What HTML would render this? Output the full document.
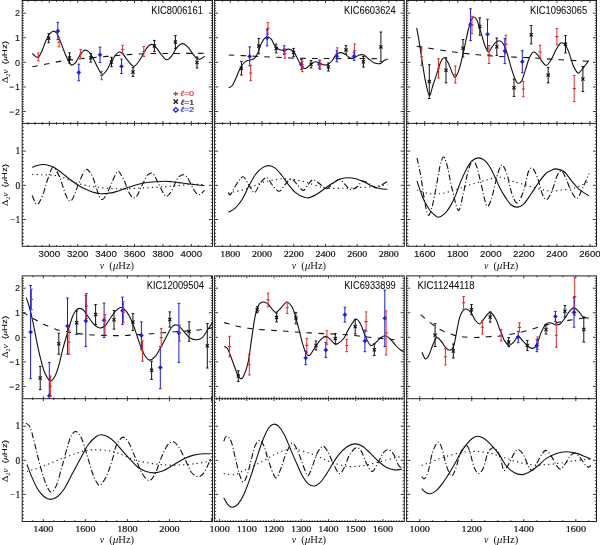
<!DOCTYPE html>
<html><head><meta charset="utf-8"><title>figure</title>
<style>html,body{margin:0;padding:0;background:#fff;width:600px;height:545px;overflow:hidden}svg{display:block;will-change:transform;filter:blur(0.3px)}</style>
</head><body>
<svg width="600" height="545" viewBox="0 0 600 545">
<defs><clipPath id="c00t"><rect x="22.2" y="0.5" width="190.3" height="122.9"/></clipPath><clipPath id="c00b"><rect x="22.2" y="123.4" width="190.3" height="122.9"/></clipPath><clipPath id="c01t"><rect x="214.4" y="0.5" width="189.9" height="122.9"/></clipPath><clipPath id="c01b"><rect x="214.4" y="123.4" width="189.9" height="122.9"/></clipPath><clipPath id="c02t"><rect x="406.6" y="0.5" width="189.9" height="122.9"/></clipPath><clipPath id="c02b"><rect x="406.6" y="123.4" width="189.9" height="122.9"/></clipPath><clipPath id="c10t"><rect x="22.2" y="275.9" width="190.3" height="122.8"/></clipPath><clipPath id="c10b"><rect x="22.2" y="398.7" width="190.3" height="122.8"/></clipPath><clipPath id="c11t"><rect x="214.4" y="275.9" width="189.9" height="122.8"/></clipPath><clipPath id="c11b"><rect x="214.4" y="398.7" width="189.9" height="122.8"/></clipPath><clipPath id="c12t"><rect x="406.6" y="275.9" width="189.9" height="122.8"/></clipPath><clipPath id="c12b"><rect x="406.6" y="398.7" width="189.9" height="122.8"/></clipPath></defs>
<rect width="600" height="545" fill="#fff"/>
<rect x="22.2" y="0.5" width="190.3" height="245.8" fill="none" stroke="#222" stroke-width="1"/>
<line x1="22.2" y1="123.4" x2="212.5" y2="123.4" stroke="#222" stroke-width="1"/>
<line x1="28.03" y1="0.5" x2="28.03" y2="1.8" stroke="#222" stroke-width="0.9"/>
<line x1="28.03" y1="123.4" x2="28.03" y2="122.1" stroke="#222" stroke-width="0.9"/>
<line x1="35.13" y1="0.5" x2="35.13" y2="1.8" stroke="#222" stroke-width="0.9"/>
<line x1="35.13" y1="123.4" x2="35.13" y2="122.1" stroke="#222" stroke-width="0.9"/>
<line x1="42.23" y1="0.5" x2="42.23" y2="1.8" stroke="#222" stroke-width="0.9"/>
<line x1="42.23" y1="123.4" x2="42.23" y2="122.1" stroke="#222" stroke-width="0.9"/>
<line x1="49.33" y1="0.5" x2="49.33" y2="2.9" stroke="#222" stroke-width="0.9"/>
<line x1="49.33" y1="123.4" x2="49.33" y2="121" stroke="#222" stroke-width="0.9"/>
<line x1="56.43" y1="0.5" x2="56.43" y2="1.8" stroke="#222" stroke-width="0.9"/>
<line x1="56.43" y1="123.4" x2="56.43" y2="122.1" stroke="#222" stroke-width="0.9"/>
<line x1="63.53" y1="0.5" x2="63.53" y2="1.8" stroke="#222" stroke-width="0.9"/>
<line x1="63.53" y1="123.4" x2="63.53" y2="122.1" stroke="#222" stroke-width="0.9"/>
<line x1="70.63" y1="0.5" x2="70.63" y2="1.8" stroke="#222" stroke-width="0.9"/>
<line x1="70.63" y1="123.4" x2="70.63" y2="122.1" stroke="#222" stroke-width="0.9"/>
<line x1="77.73" y1="0.5" x2="77.73" y2="2.9" stroke="#222" stroke-width="0.9"/>
<line x1="77.73" y1="123.4" x2="77.73" y2="121" stroke="#222" stroke-width="0.9"/>
<line x1="84.83" y1="0.5" x2="84.83" y2="1.8" stroke="#222" stroke-width="0.9"/>
<line x1="84.83" y1="123.4" x2="84.83" y2="122.1" stroke="#222" stroke-width="0.9"/>
<line x1="91.93" y1="0.5" x2="91.93" y2="1.8" stroke="#222" stroke-width="0.9"/>
<line x1="91.93" y1="123.4" x2="91.93" y2="122.1" stroke="#222" stroke-width="0.9"/>
<line x1="99.03" y1="0.5" x2="99.03" y2="1.8" stroke="#222" stroke-width="0.9"/>
<line x1="99.03" y1="123.4" x2="99.03" y2="122.1" stroke="#222" stroke-width="0.9"/>
<line x1="106.13" y1="0.5" x2="106.13" y2="2.9" stroke="#222" stroke-width="0.9"/>
<line x1="106.13" y1="123.4" x2="106.13" y2="121" stroke="#222" stroke-width="0.9"/>
<line x1="113.23" y1="0.5" x2="113.23" y2="1.8" stroke="#222" stroke-width="0.9"/>
<line x1="113.23" y1="123.4" x2="113.23" y2="122.1" stroke="#222" stroke-width="0.9"/>
<line x1="120.33" y1="0.5" x2="120.33" y2="1.8" stroke="#222" stroke-width="0.9"/>
<line x1="120.33" y1="123.4" x2="120.33" y2="122.1" stroke="#222" stroke-width="0.9"/>
<line x1="127.43" y1="0.5" x2="127.43" y2="1.8" stroke="#222" stroke-width="0.9"/>
<line x1="127.43" y1="123.4" x2="127.43" y2="122.1" stroke="#222" stroke-width="0.9"/>
<line x1="134.53" y1="0.5" x2="134.53" y2="2.9" stroke="#222" stroke-width="0.9"/>
<line x1="134.53" y1="123.4" x2="134.53" y2="121" stroke="#222" stroke-width="0.9"/>
<line x1="141.63" y1="0.5" x2="141.63" y2="1.8" stroke="#222" stroke-width="0.9"/>
<line x1="141.63" y1="123.4" x2="141.63" y2="122.1" stroke="#222" stroke-width="0.9"/>
<line x1="148.73" y1="0.5" x2="148.73" y2="1.8" stroke="#222" stroke-width="0.9"/>
<line x1="148.73" y1="123.4" x2="148.73" y2="122.1" stroke="#222" stroke-width="0.9"/>
<line x1="155.83" y1="0.5" x2="155.83" y2="1.8" stroke="#222" stroke-width="0.9"/>
<line x1="155.83" y1="123.4" x2="155.83" y2="122.1" stroke="#222" stroke-width="0.9"/>
<line x1="162.93" y1="0.5" x2="162.93" y2="2.9" stroke="#222" stroke-width="0.9"/>
<line x1="162.93" y1="123.4" x2="162.93" y2="121" stroke="#222" stroke-width="0.9"/>
<line x1="170.03" y1="0.5" x2="170.03" y2="1.8" stroke="#222" stroke-width="0.9"/>
<line x1="170.03" y1="123.4" x2="170.03" y2="122.1" stroke="#222" stroke-width="0.9"/>
<line x1="177.13" y1="0.5" x2="177.13" y2="1.8" stroke="#222" stroke-width="0.9"/>
<line x1="177.13" y1="123.4" x2="177.13" y2="122.1" stroke="#222" stroke-width="0.9"/>
<line x1="184.23" y1="0.5" x2="184.23" y2="1.8" stroke="#222" stroke-width="0.9"/>
<line x1="184.23" y1="123.4" x2="184.23" y2="122.1" stroke="#222" stroke-width="0.9"/>
<line x1="191.33" y1="0.5" x2="191.33" y2="2.9" stroke="#222" stroke-width="0.9"/>
<line x1="191.33" y1="123.4" x2="191.33" y2="121" stroke="#222" stroke-width="0.9"/>
<line x1="198.43" y1="0.5" x2="198.43" y2="1.8" stroke="#222" stroke-width="0.9"/>
<line x1="198.43" y1="123.4" x2="198.43" y2="122.1" stroke="#222" stroke-width="0.9"/>
<line x1="205.53" y1="0.5" x2="205.53" y2="1.8" stroke="#222" stroke-width="0.9"/>
<line x1="205.53" y1="123.4" x2="205.53" y2="122.1" stroke="#222" stroke-width="0.9"/>
<line x1="28.03" y1="123.4" x2="28.03" y2="124.7" stroke="#222" stroke-width="0.9"/>
<line x1="28.03" y1="246.3" x2="28.03" y2="245" stroke="#222" stroke-width="0.9"/>
<line x1="35.13" y1="123.4" x2="35.13" y2="124.7" stroke="#222" stroke-width="0.9"/>
<line x1="35.13" y1="246.3" x2="35.13" y2="245" stroke="#222" stroke-width="0.9"/>
<line x1="42.23" y1="123.4" x2="42.23" y2="124.7" stroke="#222" stroke-width="0.9"/>
<line x1="42.23" y1="246.3" x2="42.23" y2="245" stroke="#222" stroke-width="0.9"/>
<line x1="49.33" y1="123.4" x2="49.33" y2="125.8" stroke="#222" stroke-width="0.9"/>
<line x1="49.33" y1="246.3" x2="49.33" y2="243.9" stroke="#222" stroke-width="0.9"/>
<line x1="56.43" y1="123.4" x2="56.43" y2="124.7" stroke="#222" stroke-width="0.9"/>
<line x1="56.43" y1="246.3" x2="56.43" y2="245" stroke="#222" stroke-width="0.9"/>
<line x1="63.53" y1="123.4" x2="63.53" y2="124.7" stroke="#222" stroke-width="0.9"/>
<line x1="63.53" y1="246.3" x2="63.53" y2="245" stroke="#222" stroke-width="0.9"/>
<line x1="70.63" y1="123.4" x2="70.63" y2="124.7" stroke="#222" stroke-width="0.9"/>
<line x1="70.63" y1="246.3" x2="70.63" y2="245" stroke="#222" stroke-width="0.9"/>
<line x1="77.73" y1="123.4" x2="77.73" y2="125.8" stroke="#222" stroke-width="0.9"/>
<line x1="77.73" y1="246.3" x2="77.73" y2="243.9" stroke="#222" stroke-width="0.9"/>
<line x1="84.83" y1="123.4" x2="84.83" y2="124.7" stroke="#222" stroke-width="0.9"/>
<line x1="84.83" y1="246.3" x2="84.83" y2="245" stroke="#222" stroke-width="0.9"/>
<line x1="91.93" y1="123.4" x2="91.93" y2="124.7" stroke="#222" stroke-width="0.9"/>
<line x1="91.93" y1="246.3" x2="91.93" y2="245" stroke="#222" stroke-width="0.9"/>
<line x1="99.03" y1="123.4" x2="99.03" y2="124.7" stroke="#222" stroke-width="0.9"/>
<line x1="99.03" y1="246.3" x2="99.03" y2="245" stroke="#222" stroke-width="0.9"/>
<line x1="106.13" y1="123.4" x2="106.13" y2="125.8" stroke="#222" stroke-width="0.9"/>
<line x1="106.13" y1="246.3" x2="106.13" y2="243.9" stroke="#222" stroke-width="0.9"/>
<line x1="113.23" y1="123.4" x2="113.23" y2="124.7" stroke="#222" stroke-width="0.9"/>
<line x1="113.23" y1="246.3" x2="113.23" y2="245" stroke="#222" stroke-width="0.9"/>
<line x1="120.33" y1="123.4" x2="120.33" y2="124.7" stroke="#222" stroke-width="0.9"/>
<line x1="120.33" y1="246.3" x2="120.33" y2="245" stroke="#222" stroke-width="0.9"/>
<line x1="127.43" y1="123.4" x2="127.43" y2="124.7" stroke="#222" stroke-width="0.9"/>
<line x1="127.43" y1="246.3" x2="127.43" y2="245" stroke="#222" stroke-width="0.9"/>
<line x1="134.53" y1="123.4" x2="134.53" y2="125.8" stroke="#222" stroke-width="0.9"/>
<line x1="134.53" y1="246.3" x2="134.53" y2="243.9" stroke="#222" stroke-width="0.9"/>
<line x1="141.63" y1="123.4" x2="141.63" y2="124.7" stroke="#222" stroke-width="0.9"/>
<line x1="141.63" y1="246.3" x2="141.63" y2="245" stroke="#222" stroke-width="0.9"/>
<line x1="148.73" y1="123.4" x2="148.73" y2="124.7" stroke="#222" stroke-width="0.9"/>
<line x1="148.73" y1="246.3" x2="148.73" y2="245" stroke="#222" stroke-width="0.9"/>
<line x1="155.83" y1="123.4" x2="155.83" y2="124.7" stroke="#222" stroke-width="0.9"/>
<line x1="155.83" y1="246.3" x2="155.83" y2="245" stroke="#222" stroke-width="0.9"/>
<line x1="162.93" y1="123.4" x2="162.93" y2="125.8" stroke="#222" stroke-width="0.9"/>
<line x1="162.93" y1="246.3" x2="162.93" y2="243.9" stroke="#222" stroke-width="0.9"/>
<line x1="170.03" y1="123.4" x2="170.03" y2="124.7" stroke="#222" stroke-width="0.9"/>
<line x1="170.03" y1="246.3" x2="170.03" y2="245" stroke="#222" stroke-width="0.9"/>
<line x1="177.13" y1="123.4" x2="177.13" y2="124.7" stroke="#222" stroke-width="0.9"/>
<line x1="177.13" y1="246.3" x2="177.13" y2="245" stroke="#222" stroke-width="0.9"/>
<line x1="184.23" y1="123.4" x2="184.23" y2="124.7" stroke="#222" stroke-width="0.9"/>
<line x1="184.23" y1="246.3" x2="184.23" y2="245" stroke="#222" stroke-width="0.9"/>
<line x1="191.33" y1="123.4" x2="191.33" y2="125.8" stroke="#222" stroke-width="0.9"/>
<line x1="191.33" y1="246.3" x2="191.33" y2="243.9" stroke="#222" stroke-width="0.9"/>
<line x1="198.43" y1="123.4" x2="198.43" y2="124.7" stroke="#222" stroke-width="0.9"/>
<line x1="198.43" y1="246.3" x2="198.43" y2="245" stroke="#222" stroke-width="0.9"/>
<line x1="205.53" y1="123.4" x2="205.53" y2="124.7" stroke="#222" stroke-width="0.9"/>
<line x1="205.53" y1="246.3" x2="205.53" y2="245" stroke="#222" stroke-width="0.9"/>
<line x1="22.2" y1="121.39" x2="23.9" y2="121.39" stroke="#222" stroke-width="0.9"/>
<line x1="212.5" y1="121.39" x2="210.8" y2="121.39" stroke="#222" stroke-width="0.9"/>
<line x1="22.2" y1="118.93" x2="23.9" y2="118.93" stroke="#222" stroke-width="0.9"/>
<line x1="212.5" y1="118.93" x2="210.8" y2="118.93" stroke="#222" stroke-width="0.9"/>
<line x1="22.2" y1="116.47" x2="23.9" y2="116.47" stroke="#222" stroke-width="0.9"/>
<line x1="212.5" y1="116.47" x2="210.8" y2="116.47" stroke="#222" stroke-width="0.9"/>
<line x1="22.2" y1="114.01" x2="23.9" y2="114.01" stroke="#222" stroke-width="0.9"/>
<line x1="212.5" y1="114.01" x2="210.8" y2="114.01" stroke="#222" stroke-width="0.9"/>
<line x1="22.2" y1="111.55" x2="25.8" y2="111.55" stroke="#222" stroke-width="0.9"/>
<line x1="212.5" y1="111.55" x2="208.9" y2="111.55" stroke="#222" stroke-width="0.9"/>
<line x1="22.2" y1="109.09" x2="23.9" y2="109.09" stroke="#222" stroke-width="0.9"/>
<line x1="212.5" y1="109.09" x2="210.8" y2="109.09" stroke="#222" stroke-width="0.9"/>
<line x1="22.2" y1="106.63" x2="23.9" y2="106.63" stroke="#222" stroke-width="0.9"/>
<line x1="212.5" y1="106.63" x2="210.8" y2="106.63" stroke="#222" stroke-width="0.9"/>
<line x1="22.2" y1="104.17" x2="23.9" y2="104.17" stroke="#222" stroke-width="0.9"/>
<line x1="212.5" y1="104.17" x2="210.8" y2="104.17" stroke="#222" stroke-width="0.9"/>
<line x1="22.2" y1="101.71" x2="23.9" y2="101.71" stroke="#222" stroke-width="0.9"/>
<line x1="212.5" y1="101.71" x2="210.8" y2="101.71" stroke="#222" stroke-width="0.9"/>
<line x1="22.2" y1="99.25" x2="23.9" y2="99.25" stroke="#222" stroke-width="0.9"/>
<line x1="212.5" y1="99.25" x2="210.8" y2="99.25" stroke="#222" stroke-width="0.9"/>
<line x1="22.2" y1="96.79" x2="23.9" y2="96.79" stroke="#222" stroke-width="0.9"/>
<line x1="212.5" y1="96.79" x2="210.8" y2="96.79" stroke="#222" stroke-width="0.9"/>
<line x1="22.2" y1="94.33" x2="23.9" y2="94.33" stroke="#222" stroke-width="0.9"/>
<line x1="212.5" y1="94.33" x2="210.8" y2="94.33" stroke="#222" stroke-width="0.9"/>
<line x1="22.2" y1="91.87" x2="23.9" y2="91.87" stroke="#222" stroke-width="0.9"/>
<line x1="212.5" y1="91.87" x2="210.8" y2="91.87" stroke="#222" stroke-width="0.9"/>
<line x1="22.2" y1="89.41" x2="23.9" y2="89.41" stroke="#222" stroke-width="0.9"/>
<line x1="212.5" y1="89.41" x2="210.8" y2="89.41" stroke="#222" stroke-width="0.9"/>
<line x1="22.2" y1="86.95" x2="25.8" y2="86.95" stroke="#222" stroke-width="0.9"/>
<line x1="212.5" y1="86.95" x2="208.9" y2="86.95" stroke="#222" stroke-width="0.9"/>
<line x1="22.2" y1="84.49" x2="23.9" y2="84.49" stroke="#222" stroke-width="0.9"/>
<line x1="212.5" y1="84.49" x2="210.8" y2="84.49" stroke="#222" stroke-width="0.9"/>
<line x1="22.2" y1="82.03" x2="23.9" y2="82.03" stroke="#222" stroke-width="0.9"/>
<line x1="212.5" y1="82.03" x2="210.8" y2="82.03" stroke="#222" stroke-width="0.9"/>
<line x1="22.2" y1="79.57" x2="23.9" y2="79.57" stroke="#222" stroke-width="0.9"/>
<line x1="212.5" y1="79.57" x2="210.8" y2="79.57" stroke="#222" stroke-width="0.9"/>
<line x1="22.2" y1="77.11" x2="23.9" y2="77.11" stroke="#222" stroke-width="0.9"/>
<line x1="212.5" y1="77.11" x2="210.8" y2="77.11" stroke="#222" stroke-width="0.9"/>
<line x1="22.2" y1="74.65" x2="23.9" y2="74.65" stroke="#222" stroke-width="0.9"/>
<line x1="212.5" y1="74.65" x2="210.8" y2="74.65" stroke="#222" stroke-width="0.9"/>
<line x1="22.2" y1="72.19" x2="23.9" y2="72.19" stroke="#222" stroke-width="0.9"/>
<line x1="212.5" y1="72.19" x2="210.8" y2="72.19" stroke="#222" stroke-width="0.9"/>
<line x1="22.2" y1="69.73" x2="23.9" y2="69.73" stroke="#222" stroke-width="0.9"/>
<line x1="212.5" y1="69.73" x2="210.8" y2="69.73" stroke="#222" stroke-width="0.9"/>
<line x1="22.2" y1="67.27" x2="23.9" y2="67.27" stroke="#222" stroke-width="0.9"/>
<line x1="212.5" y1="67.27" x2="210.8" y2="67.27" stroke="#222" stroke-width="0.9"/>
<line x1="22.2" y1="64.81" x2="23.9" y2="64.81" stroke="#222" stroke-width="0.9"/>
<line x1="212.5" y1="64.81" x2="210.8" y2="64.81" stroke="#222" stroke-width="0.9"/>
<line x1="22.2" y1="62.35" x2="25.8" y2="62.35" stroke="#222" stroke-width="0.9"/>
<line x1="212.5" y1="62.35" x2="208.9" y2="62.35" stroke="#222" stroke-width="0.9"/>
<line x1="22.2" y1="59.89" x2="23.9" y2="59.89" stroke="#222" stroke-width="0.9"/>
<line x1="212.5" y1="59.89" x2="210.8" y2="59.89" stroke="#222" stroke-width="0.9"/>
<line x1="22.2" y1="57.43" x2="23.9" y2="57.43" stroke="#222" stroke-width="0.9"/>
<line x1="212.5" y1="57.43" x2="210.8" y2="57.43" stroke="#222" stroke-width="0.9"/>
<line x1="22.2" y1="54.97" x2="23.9" y2="54.97" stroke="#222" stroke-width="0.9"/>
<line x1="212.5" y1="54.97" x2="210.8" y2="54.97" stroke="#222" stroke-width="0.9"/>
<line x1="22.2" y1="52.51" x2="23.9" y2="52.51" stroke="#222" stroke-width="0.9"/>
<line x1="212.5" y1="52.51" x2="210.8" y2="52.51" stroke="#222" stroke-width="0.9"/>
<line x1="22.2" y1="50.05" x2="23.9" y2="50.05" stroke="#222" stroke-width="0.9"/>
<line x1="212.5" y1="50.05" x2="210.8" y2="50.05" stroke="#222" stroke-width="0.9"/>
<line x1="22.2" y1="47.59" x2="23.9" y2="47.59" stroke="#222" stroke-width="0.9"/>
<line x1="212.5" y1="47.59" x2="210.8" y2="47.59" stroke="#222" stroke-width="0.9"/>
<line x1="22.2" y1="45.13" x2="23.9" y2="45.13" stroke="#222" stroke-width="0.9"/>
<line x1="212.5" y1="45.13" x2="210.8" y2="45.13" stroke="#222" stroke-width="0.9"/>
<line x1="22.2" y1="42.67" x2="23.9" y2="42.67" stroke="#222" stroke-width="0.9"/>
<line x1="212.5" y1="42.67" x2="210.8" y2="42.67" stroke="#222" stroke-width="0.9"/>
<line x1="22.2" y1="40.21" x2="23.9" y2="40.21" stroke="#222" stroke-width="0.9"/>
<line x1="212.5" y1="40.21" x2="210.8" y2="40.21" stroke="#222" stroke-width="0.9"/>
<line x1="22.2" y1="37.75" x2="25.8" y2="37.75" stroke="#222" stroke-width="0.9"/>
<line x1="212.5" y1="37.75" x2="208.9" y2="37.75" stroke="#222" stroke-width="0.9"/>
<line x1="22.2" y1="35.29" x2="23.9" y2="35.29" stroke="#222" stroke-width="0.9"/>
<line x1="212.5" y1="35.29" x2="210.8" y2="35.29" stroke="#222" stroke-width="0.9"/>
<line x1="22.2" y1="32.83" x2="23.9" y2="32.83" stroke="#222" stroke-width="0.9"/>
<line x1="212.5" y1="32.83" x2="210.8" y2="32.83" stroke="#222" stroke-width="0.9"/>
<line x1="22.2" y1="30.37" x2="23.9" y2="30.37" stroke="#222" stroke-width="0.9"/>
<line x1="212.5" y1="30.37" x2="210.8" y2="30.37" stroke="#222" stroke-width="0.9"/>
<line x1="22.2" y1="27.91" x2="23.9" y2="27.91" stroke="#222" stroke-width="0.9"/>
<line x1="212.5" y1="27.91" x2="210.8" y2="27.91" stroke="#222" stroke-width="0.9"/>
<line x1="22.2" y1="25.45" x2="23.9" y2="25.45" stroke="#222" stroke-width="0.9"/>
<line x1="212.5" y1="25.45" x2="210.8" y2="25.45" stroke="#222" stroke-width="0.9"/>
<line x1="22.2" y1="22.99" x2="23.9" y2="22.99" stroke="#222" stroke-width="0.9"/>
<line x1="212.5" y1="22.99" x2="210.8" y2="22.99" stroke="#222" stroke-width="0.9"/>
<line x1="22.2" y1="20.53" x2="23.9" y2="20.53" stroke="#222" stroke-width="0.9"/>
<line x1="212.5" y1="20.53" x2="210.8" y2="20.53" stroke="#222" stroke-width="0.9"/>
<line x1="22.2" y1="18.07" x2="23.9" y2="18.07" stroke="#222" stroke-width="0.9"/>
<line x1="212.5" y1="18.07" x2="210.8" y2="18.07" stroke="#222" stroke-width="0.9"/>
<line x1="22.2" y1="15.61" x2="23.9" y2="15.61" stroke="#222" stroke-width="0.9"/>
<line x1="212.5" y1="15.61" x2="210.8" y2="15.61" stroke="#222" stroke-width="0.9"/>
<line x1="22.2" y1="13.15" x2="25.8" y2="13.15" stroke="#222" stroke-width="0.9"/>
<line x1="212.5" y1="13.15" x2="208.9" y2="13.15" stroke="#222" stroke-width="0.9"/>
<line x1="22.2" y1="10.69" x2="23.9" y2="10.69" stroke="#222" stroke-width="0.9"/>
<line x1="212.5" y1="10.69" x2="210.8" y2="10.69" stroke="#222" stroke-width="0.9"/>
<line x1="22.2" y1="8.23" x2="23.9" y2="8.23" stroke="#222" stroke-width="0.9"/>
<line x1="212.5" y1="8.23" x2="210.8" y2="8.23" stroke="#222" stroke-width="0.9"/>
<line x1="22.2" y1="5.77" x2="23.9" y2="5.77" stroke="#222" stroke-width="0.9"/>
<line x1="212.5" y1="5.77" x2="210.8" y2="5.77" stroke="#222" stroke-width="0.9"/>
<line x1="22.2" y1="3.31" x2="23.9" y2="3.31" stroke="#222" stroke-width="0.9"/>
<line x1="212.5" y1="3.31" x2="210.8" y2="3.31" stroke="#222" stroke-width="0.9"/>
<line x1="22.2" y1="0.85" x2="23.9" y2="0.85" stroke="#222" stroke-width="0.9"/>
<line x1="212.5" y1="0.85" x2="210.8" y2="0.85" stroke="#222" stroke-width="0.9"/>
<line x1="22.2" y1="243.44" x2="23.9" y2="243.44" stroke="#222" stroke-width="0.9"/>
<line x1="212.5" y1="243.44" x2="210.8" y2="243.44" stroke="#222" stroke-width="0.9"/>
<line x1="22.2" y1="240.02" x2="23.9" y2="240.02" stroke="#222" stroke-width="0.9"/>
<line x1="212.5" y1="240.02" x2="210.8" y2="240.02" stroke="#222" stroke-width="0.9"/>
<line x1="22.2" y1="236.6" x2="23.9" y2="236.6" stroke="#222" stroke-width="0.9"/>
<line x1="212.5" y1="236.6" x2="210.8" y2="236.6" stroke="#222" stroke-width="0.9"/>
<line x1="22.2" y1="233.18" x2="23.9" y2="233.18" stroke="#222" stroke-width="0.9"/>
<line x1="212.5" y1="233.18" x2="210.8" y2="233.18" stroke="#222" stroke-width="0.9"/>
<line x1="22.2" y1="229.76" x2="23.9" y2="229.76" stroke="#222" stroke-width="0.9"/>
<line x1="212.5" y1="229.76" x2="210.8" y2="229.76" stroke="#222" stroke-width="0.9"/>
<line x1="22.2" y1="226.34" x2="23.9" y2="226.34" stroke="#222" stroke-width="0.9"/>
<line x1="212.5" y1="226.34" x2="210.8" y2="226.34" stroke="#222" stroke-width="0.9"/>
<line x1="22.2" y1="222.92" x2="23.9" y2="222.92" stroke="#222" stroke-width="0.9"/>
<line x1="212.5" y1="222.92" x2="210.8" y2="222.92" stroke="#222" stroke-width="0.9"/>
<line x1="22.2" y1="219.5" x2="25.8" y2="219.5" stroke="#222" stroke-width="0.9"/>
<line x1="212.5" y1="219.5" x2="208.9" y2="219.5" stroke="#222" stroke-width="0.9"/>
<line x1="22.2" y1="216.08" x2="23.9" y2="216.08" stroke="#222" stroke-width="0.9"/>
<line x1="212.5" y1="216.08" x2="210.8" y2="216.08" stroke="#222" stroke-width="0.9"/>
<line x1="22.2" y1="212.66" x2="23.9" y2="212.66" stroke="#222" stroke-width="0.9"/>
<line x1="212.5" y1="212.66" x2="210.8" y2="212.66" stroke="#222" stroke-width="0.9"/>
<line x1="22.2" y1="209.24" x2="23.9" y2="209.24" stroke="#222" stroke-width="0.9"/>
<line x1="212.5" y1="209.24" x2="210.8" y2="209.24" stroke="#222" stroke-width="0.9"/>
<line x1="22.2" y1="205.82" x2="23.9" y2="205.82" stroke="#222" stroke-width="0.9"/>
<line x1="212.5" y1="205.82" x2="210.8" y2="205.82" stroke="#222" stroke-width="0.9"/>
<line x1="22.2" y1="202.4" x2="23.9" y2="202.4" stroke="#222" stroke-width="0.9"/>
<line x1="212.5" y1="202.4" x2="210.8" y2="202.4" stroke="#222" stroke-width="0.9"/>
<line x1="22.2" y1="198.98" x2="23.9" y2="198.98" stroke="#222" stroke-width="0.9"/>
<line x1="212.5" y1="198.98" x2="210.8" y2="198.98" stroke="#222" stroke-width="0.9"/>
<line x1="22.2" y1="195.56" x2="23.9" y2="195.56" stroke="#222" stroke-width="0.9"/>
<line x1="212.5" y1="195.56" x2="210.8" y2="195.56" stroke="#222" stroke-width="0.9"/>
<line x1="22.2" y1="192.14" x2="23.9" y2="192.14" stroke="#222" stroke-width="0.9"/>
<line x1="212.5" y1="192.14" x2="210.8" y2="192.14" stroke="#222" stroke-width="0.9"/>
<line x1="22.2" y1="188.72" x2="23.9" y2="188.72" stroke="#222" stroke-width="0.9"/>
<line x1="212.5" y1="188.72" x2="210.8" y2="188.72" stroke="#222" stroke-width="0.9"/>
<line x1="22.2" y1="185.3" x2="25.8" y2="185.3" stroke="#222" stroke-width="0.9"/>
<line x1="212.5" y1="185.3" x2="208.9" y2="185.3" stroke="#222" stroke-width="0.9"/>
<line x1="22.2" y1="181.88" x2="23.9" y2="181.88" stroke="#222" stroke-width="0.9"/>
<line x1="212.5" y1="181.88" x2="210.8" y2="181.88" stroke="#222" stroke-width="0.9"/>
<line x1="22.2" y1="178.46" x2="23.9" y2="178.46" stroke="#222" stroke-width="0.9"/>
<line x1="212.5" y1="178.46" x2="210.8" y2="178.46" stroke="#222" stroke-width="0.9"/>
<line x1="22.2" y1="175.04" x2="23.9" y2="175.04" stroke="#222" stroke-width="0.9"/>
<line x1="212.5" y1="175.04" x2="210.8" y2="175.04" stroke="#222" stroke-width="0.9"/>
<line x1="22.2" y1="171.62" x2="23.9" y2="171.62" stroke="#222" stroke-width="0.9"/>
<line x1="212.5" y1="171.62" x2="210.8" y2="171.62" stroke="#222" stroke-width="0.9"/>
<line x1="22.2" y1="168.2" x2="23.9" y2="168.2" stroke="#222" stroke-width="0.9"/>
<line x1="212.5" y1="168.2" x2="210.8" y2="168.2" stroke="#222" stroke-width="0.9"/>
<line x1="22.2" y1="164.78" x2="23.9" y2="164.78" stroke="#222" stroke-width="0.9"/>
<line x1="212.5" y1="164.78" x2="210.8" y2="164.78" stroke="#222" stroke-width="0.9"/>
<line x1="22.2" y1="161.36" x2="23.9" y2="161.36" stroke="#222" stroke-width="0.9"/>
<line x1="212.5" y1="161.36" x2="210.8" y2="161.36" stroke="#222" stroke-width="0.9"/>
<line x1="22.2" y1="157.94" x2="23.9" y2="157.94" stroke="#222" stroke-width="0.9"/>
<line x1="212.5" y1="157.94" x2="210.8" y2="157.94" stroke="#222" stroke-width="0.9"/>
<line x1="22.2" y1="154.52" x2="23.9" y2="154.52" stroke="#222" stroke-width="0.9"/>
<line x1="212.5" y1="154.52" x2="210.8" y2="154.52" stroke="#222" stroke-width="0.9"/>
<line x1="22.2" y1="151.1" x2="25.8" y2="151.1" stroke="#222" stroke-width="0.9"/>
<line x1="212.5" y1="151.1" x2="208.9" y2="151.1" stroke="#222" stroke-width="0.9"/>
<line x1="22.2" y1="147.68" x2="23.9" y2="147.68" stroke="#222" stroke-width="0.9"/>
<line x1="212.5" y1="147.68" x2="210.8" y2="147.68" stroke="#222" stroke-width="0.9"/>
<line x1="22.2" y1="144.26" x2="23.9" y2="144.26" stroke="#222" stroke-width="0.9"/>
<line x1="212.5" y1="144.26" x2="210.8" y2="144.26" stroke="#222" stroke-width="0.9"/>
<line x1="22.2" y1="140.84" x2="23.9" y2="140.84" stroke="#222" stroke-width="0.9"/>
<line x1="212.5" y1="140.84" x2="210.8" y2="140.84" stroke="#222" stroke-width="0.9"/>
<line x1="22.2" y1="137.42" x2="23.9" y2="137.42" stroke="#222" stroke-width="0.9"/>
<line x1="212.5" y1="137.42" x2="210.8" y2="137.42" stroke="#222" stroke-width="0.9"/>
<line x1="22.2" y1="134" x2="23.9" y2="134" stroke="#222" stroke-width="0.9"/>
<line x1="212.5" y1="134" x2="210.8" y2="134" stroke="#222" stroke-width="0.9"/>
<line x1="22.2" y1="130.58" x2="23.9" y2="130.58" stroke="#222" stroke-width="0.9"/>
<line x1="212.5" y1="130.58" x2="210.8" y2="130.58" stroke="#222" stroke-width="0.9"/>
<line x1="22.2" y1="127.16" x2="23.9" y2="127.16" stroke="#222" stroke-width="0.9"/>
<line x1="212.5" y1="127.16" x2="210.8" y2="127.16" stroke="#222" stroke-width="0.9"/>
<line x1="22.2" y1="123.74" x2="23.9" y2="123.74" stroke="#222" stroke-width="0.9"/>
<line x1="212.5" y1="123.74" x2="210.8" y2="123.74" stroke="#222" stroke-width="0.9"/>
<rect x="214.4" y="0.5" width="189.9" height="245.8" fill="none" stroke="#222" stroke-width="1"/>
<line x1="214.4" y1="123.4" x2="404.3" y2="123.4" stroke="#222" stroke-width="1"/>
<line x1="222.43" y1="0.5" x2="222.43" y2="1.8" stroke="#222" stroke-width="0.9"/>
<line x1="222.43" y1="123.4" x2="222.43" y2="122.1" stroke="#222" stroke-width="0.9"/>
<line x1="230.35" y1="0.5" x2="230.35" y2="2.9" stroke="#222" stroke-width="0.9"/>
<line x1="230.35" y1="123.4" x2="230.35" y2="121" stroke="#222" stroke-width="0.9"/>
<line x1="238.28" y1="0.5" x2="238.28" y2="1.8" stroke="#222" stroke-width="0.9"/>
<line x1="238.28" y1="123.4" x2="238.28" y2="122.1" stroke="#222" stroke-width="0.9"/>
<line x1="246.2" y1="0.5" x2="246.2" y2="1.8" stroke="#222" stroke-width="0.9"/>
<line x1="246.2" y1="123.4" x2="246.2" y2="122.1" stroke="#222" stroke-width="0.9"/>
<line x1="254.12" y1="0.5" x2="254.12" y2="1.8" stroke="#222" stroke-width="0.9"/>
<line x1="254.12" y1="123.4" x2="254.12" y2="122.1" stroke="#222" stroke-width="0.9"/>
<line x1="262.05" y1="0.5" x2="262.05" y2="2.9" stroke="#222" stroke-width="0.9"/>
<line x1="262.05" y1="123.4" x2="262.05" y2="121" stroke="#222" stroke-width="0.9"/>
<line x1="269.98" y1="0.5" x2="269.98" y2="1.8" stroke="#222" stroke-width="0.9"/>
<line x1="269.98" y1="123.4" x2="269.98" y2="122.1" stroke="#222" stroke-width="0.9"/>
<line x1="277.9" y1="0.5" x2="277.9" y2="1.8" stroke="#222" stroke-width="0.9"/>
<line x1="277.9" y1="123.4" x2="277.9" y2="122.1" stroke="#222" stroke-width="0.9"/>
<line x1="285.82" y1="0.5" x2="285.82" y2="1.8" stroke="#222" stroke-width="0.9"/>
<line x1="285.82" y1="123.4" x2="285.82" y2="122.1" stroke="#222" stroke-width="0.9"/>
<line x1="293.75" y1="0.5" x2="293.75" y2="2.9" stroke="#222" stroke-width="0.9"/>
<line x1="293.75" y1="123.4" x2="293.75" y2="121" stroke="#222" stroke-width="0.9"/>
<line x1="301.68" y1="0.5" x2="301.68" y2="1.8" stroke="#222" stroke-width="0.9"/>
<line x1="301.68" y1="123.4" x2="301.68" y2="122.1" stroke="#222" stroke-width="0.9"/>
<line x1="309.6" y1="0.5" x2="309.6" y2="1.8" stroke="#222" stroke-width="0.9"/>
<line x1="309.6" y1="123.4" x2="309.6" y2="122.1" stroke="#222" stroke-width="0.9"/>
<line x1="317.52" y1="0.5" x2="317.52" y2="1.8" stroke="#222" stroke-width="0.9"/>
<line x1="317.52" y1="123.4" x2="317.52" y2="122.1" stroke="#222" stroke-width="0.9"/>
<line x1="325.45" y1="0.5" x2="325.45" y2="2.9" stroke="#222" stroke-width="0.9"/>
<line x1="325.45" y1="123.4" x2="325.45" y2="121" stroke="#222" stroke-width="0.9"/>
<line x1="333.38" y1="0.5" x2="333.38" y2="1.8" stroke="#222" stroke-width="0.9"/>
<line x1="333.38" y1="123.4" x2="333.38" y2="122.1" stroke="#222" stroke-width="0.9"/>
<line x1="341.3" y1="0.5" x2="341.3" y2="1.8" stroke="#222" stroke-width="0.9"/>
<line x1="341.3" y1="123.4" x2="341.3" y2="122.1" stroke="#222" stroke-width="0.9"/>
<line x1="349.23" y1="0.5" x2="349.23" y2="1.8" stroke="#222" stroke-width="0.9"/>
<line x1="349.23" y1="123.4" x2="349.23" y2="122.1" stroke="#222" stroke-width="0.9"/>
<line x1="357.15" y1="0.5" x2="357.15" y2="2.9" stroke="#222" stroke-width="0.9"/>
<line x1="357.15" y1="123.4" x2="357.15" y2="121" stroke="#222" stroke-width="0.9"/>
<line x1="365.07" y1="0.5" x2="365.07" y2="1.8" stroke="#222" stroke-width="0.9"/>
<line x1="365.07" y1="123.4" x2="365.07" y2="122.1" stroke="#222" stroke-width="0.9"/>
<line x1="373" y1="0.5" x2="373" y2="1.8" stroke="#222" stroke-width="0.9"/>
<line x1="373" y1="123.4" x2="373" y2="122.1" stroke="#222" stroke-width="0.9"/>
<line x1="380.93" y1="0.5" x2="380.93" y2="1.8" stroke="#222" stroke-width="0.9"/>
<line x1="380.93" y1="123.4" x2="380.93" y2="122.1" stroke="#222" stroke-width="0.9"/>
<line x1="388.85" y1="0.5" x2="388.85" y2="2.9" stroke="#222" stroke-width="0.9"/>
<line x1="388.85" y1="123.4" x2="388.85" y2="121" stroke="#222" stroke-width="0.9"/>
<line x1="396.77" y1="0.5" x2="396.77" y2="1.8" stroke="#222" stroke-width="0.9"/>
<line x1="396.77" y1="123.4" x2="396.77" y2="122.1" stroke="#222" stroke-width="0.9"/>
<line x1="222.43" y1="123.4" x2="222.43" y2="124.7" stroke="#222" stroke-width="0.9"/>
<line x1="222.43" y1="246.3" x2="222.43" y2="245" stroke="#222" stroke-width="0.9"/>
<line x1="230.35" y1="123.4" x2="230.35" y2="125.8" stroke="#222" stroke-width="0.9"/>
<line x1="230.35" y1="246.3" x2="230.35" y2="243.9" stroke="#222" stroke-width="0.9"/>
<line x1="238.28" y1="123.4" x2="238.28" y2="124.7" stroke="#222" stroke-width="0.9"/>
<line x1="238.28" y1="246.3" x2="238.28" y2="245" stroke="#222" stroke-width="0.9"/>
<line x1="246.2" y1="123.4" x2="246.2" y2="124.7" stroke="#222" stroke-width="0.9"/>
<line x1="246.2" y1="246.3" x2="246.2" y2="245" stroke="#222" stroke-width="0.9"/>
<line x1="254.12" y1="123.4" x2="254.12" y2="124.7" stroke="#222" stroke-width="0.9"/>
<line x1="254.12" y1="246.3" x2="254.12" y2="245" stroke="#222" stroke-width="0.9"/>
<line x1="262.05" y1="123.4" x2="262.05" y2="125.8" stroke="#222" stroke-width="0.9"/>
<line x1="262.05" y1="246.3" x2="262.05" y2="243.9" stroke="#222" stroke-width="0.9"/>
<line x1="269.98" y1="123.4" x2="269.98" y2="124.7" stroke="#222" stroke-width="0.9"/>
<line x1="269.98" y1="246.3" x2="269.98" y2="245" stroke="#222" stroke-width="0.9"/>
<line x1="277.9" y1="123.4" x2="277.9" y2="124.7" stroke="#222" stroke-width="0.9"/>
<line x1="277.9" y1="246.3" x2="277.9" y2="245" stroke="#222" stroke-width="0.9"/>
<line x1="285.82" y1="123.4" x2="285.82" y2="124.7" stroke="#222" stroke-width="0.9"/>
<line x1="285.82" y1="246.3" x2="285.82" y2="245" stroke="#222" stroke-width="0.9"/>
<line x1="293.75" y1="123.4" x2="293.75" y2="125.8" stroke="#222" stroke-width="0.9"/>
<line x1="293.75" y1="246.3" x2="293.75" y2="243.9" stroke="#222" stroke-width="0.9"/>
<line x1="301.68" y1="123.4" x2="301.68" y2="124.7" stroke="#222" stroke-width="0.9"/>
<line x1="301.68" y1="246.3" x2="301.68" y2="245" stroke="#222" stroke-width="0.9"/>
<line x1="309.6" y1="123.4" x2="309.6" y2="124.7" stroke="#222" stroke-width="0.9"/>
<line x1="309.6" y1="246.3" x2="309.6" y2="245" stroke="#222" stroke-width="0.9"/>
<line x1="317.52" y1="123.4" x2="317.52" y2="124.7" stroke="#222" stroke-width="0.9"/>
<line x1="317.52" y1="246.3" x2="317.52" y2="245" stroke="#222" stroke-width="0.9"/>
<line x1="325.45" y1="123.4" x2="325.45" y2="125.8" stroke="#222" stroke-width="0.9"/>
<line x1="325.45" y1="246.3" x2="325.45" y2="243.9" stroke="#222" stroke-width="0.9"/>
<line x1="333.38" y1="123.4" x2="333.38" y2="124.7" stroke="#222" stroke-width="0.9"/>
<line x1="333.38" y1="246.3" x2="333.38" y2="245" stroke="#222" stroke-width="0.9"/>
<line x1="341.3" y1="123.4" x2="341.3" y2="124.7" stroke="#222" stroke-width="0.9"/>
<line x1="341.3" y1="246.3" x2="341.3" y2="245" stroke="#222" stroke-width="0.9"/>
<line x1="349.23" y1="123.4" x2="349.23" y2="124.7" stroke="#222" stroke-width="0.9"/>
<line x1="349.23" y1="246.3" x2="349.23" y2="245" stroke="#222" stroke-width="0.9"/>
<line x1="357.15" y1="123.4" x2="357.15" y2="125.8" stroke="#222" stroke-width="0.9"/>
<line x1="357.15" y1="246.3" x2="357.15" y2="243.9" stroke="#222" stroke-width="0.9"/>
<line x1="365.07" y1="123.4" x2="365.07" y2="124.7" stroke="#222" stroke-width="0.9"/>
<line x1="365.07" y1="246.3" x2="365.07" y2="245" stroke="#222" stroke-width="0.9"/>
<line x1="373" y1="123.4" x2="373" y2="124.7" stroke="#222" stroke-width="0.9"/>
<line x1="373" y1="246.3" x2="373" y2="245" stroke="#222" stroke-width="0.9"/>
<line x1="380.93" y1="123.4" x2="380.93" y2="124.7" stroke="#222" stroke-width="0.9"/>
<line x1="380.93" y1="246.3" x2="380.93" y2="245" stroke="#222" stroke-width="0.9"/>
<line x1="388.85" y1="123.4" x2="388.85" y2="125.8" stroke="#222" stroke-width="0.9"/>
<line x1="388.85" y1="246.3" x2="388.85" y2="243.9" stroke="#222" stroke-width="0.9"/>
<line x1="396.77" y1="123.4" x2="396.77" y2="124.7" stroke="#222" stroke-width="0.9"/>
<line x1="396.77" y1="246.3" x2="396.77" y2="245" stroke="#222" stroke-width="0.9"/>
<line x1="214.4" y1="121.39" x2="216.1" y2="121.39" stroke="#222" stroke-width="0.9"/>
<line x1="404.3" y1="121.39" x2="402.6" y2="121.39" stroke="#222" stroke-width="0.9"/>
<line x1="214.4" y1="118.93" x2="216.1" y2="118.93" stroke="#222" stroke-width="0.9"/>
<line x1="404.3" y1="118.93" x2="402.6" y2="118.93" stroke="#222" stroke-width="0.9"/>
<line x1="214.4" y1="116.47" x2="216.1" y2="116.47" stroke="#222" stroke-width="0.9"/>
<line x1="404.3" y1="116.47" x2="402.6" y2="116.47" stroke="#222" stroke-width="0.9"/>
<line x1="214.4" y1="114.01" x2="216.1" y2="114.01" stroke="#222" stroke-width="0.9"/>
<line x1="404.3" y1="114.01" x2="402.6" y2="114.01" stroke="#222" stroke-width="0.9"/>
<line x1="214.4" y1="111.55" x2="218" y2="111.55" stroke="#222" stroke-width="0.9"/>
<line x1="404.3" y1="111.55" x2="400.7" y2="111.55" stroke="#222" stroke-width="0.9"/>
<line x1="214.4" y1="109.09" x2="216.1" y2="109.09" stroke="#222" stroke-width="0.9"/>
<line x1="404.3" y1="109.09" x2="402.6" y2="109.09" stroke="#222" stroke-width="0.9"/>
<line x1="214.4" y1="106.63" x2="216.1" y2="106.63" stroke="#222" stroke-width="0.9"/>
<line x1="404.3" y1="106.63" x2="402.6" y2="106.63" stroke="#222" stroke-width="0.9"/>
<line x1="214.4" y1="104.17" x2="216.1" y2="104.17" stroke="#222" stroke-width="0.9"/>
<line x1="404.3" y1="104.17" x2="402.6" y2="104.17" stroke="#222" stroke-width="0.9"/>
<line x1="214.4" y1="101.71" x2="216.1" y2="101.71" stroke="#222" stroke-width="0.9"/>
<line x1="404.3" y1="101.71" x2="402.6" y2="101.71" stroke="#222" stroke-width="0.9"/>
<line x1="214.4" y1="99.25" x2="216.1" y2="99.25" stroke="#222" stroke-width="0.9"/>
<line x1="404.3" y1="99.25" x2="402.6" y2="99.25" stroke="#222" stroke-width="0.9"/>
<line x1="214.4" y1="96.79" x2="216.1" y2="96.79" stroke="#222" stroke-width="0.9"/>
<line x1="404.3" y1="96.79" x2="402.6" y2="96.79" stroke="#222" stroke-width="0.9"/>
<line x1="214.4" y1="94.33" x2="216.1" y2="94.33" stroke="#222" stroke-width="0.9"/>
<line x1="404.3" y1="94.33" x2="402.6" y2="94.33" stroke="#222" stroke-width="0.9"/>
<line x1="214.4" y1="91.87" x2="216.1" y2="91.87" stroke="#222" stroke-width="0.9"/>
<line x1="404.3" y1="91.87" x2="402.6" y2="91.87" stroke="#222" stroke-width="0.9"/>
<line x1="214.4" y1="89.41" x2="216.1" y2="89.41" stroke="#222" stroke-width="0.9"/>
<line x1="404.3" y1="89.41" x2="402.6" y2="89.41" stroke="#222" stroke-width="0.9"/>
<line x1="214.4" y1="86.95" x2="218" y2="86.95" stroke="#222" stroke-width="0.9"/>
<line x1="404.3" y1="86.95" x2="400.7" y2="86.95" stroke="#222" stroke-width="0.9"/>
<line x1="214.4" y1="84.49" x2="216.1" y2="84.49" stroke="#222" stroke-width="0.9"/>
<line x1="404.3" y1="84.49" x2="402.6" y2="84.49" stroke="#222" stroke-width="0.9"/>
<line x1="214.4" y1="82.03" x2="216.1" y2="82.03" stroke="#222" stroke-width="0.9"/>
<line x1="404.3" y1="82.03" x2="402.6" y2="82.03" stroke="#222" stroke-width="0.9"/>
<line x1="214.4" y1="79.57" x2="216.1" y2="79.57" stroke="#222" stroke-width="0.9"/>
<line x1="404.3" y1="79.57" x2="402.6" y2="79.57" stroke="#222" stroke-width="0.9"/>
<line x1="214.4" y1="77.11" x2="216.1" y2="77.11" stroke="#222" stroke-width="0.9"/>
<line x1="404.3" y1="77.11" x2="402.6" y2="77.11" stroke="#222" stroke-width="0.9"/>
<line x1="214.4" y1="74.65" x2="216.1" y2="74.65" stroke="#222" stroke-width="0.9"/>
<line x1="404.3" y1="74.65" x2="402.6" y2="74.65" stroke="#222" stroke-width="0.9"/>
<line x1="214.4" y1="72.19" x2="216.1" y2="72.19" stroke="#222" stroke-width="0.9"/>
<line x1="404.3" y1="72.19" x2="402.6" y2="72.19" stroke="#222" stroke-width="0.9"/>
<line x1="214.4" y1="69.73" x2="216.1" y2="69.73" stroke="#222" stroke-width="0.9"/>
<line x1="404.3" y1="69.73" x2="402.6" y2="69.73" stroke="#222" stroke-width="0.9"/>
<line x1="214.4" y1="67.27" x2="216.1" y2="67.27" stroke="#222" stroke-width="0.9"/>
<line x1="404.3" y1="67.27" x2="402.6" y2="67.27" stroke="#222" stroke-width="0.9"/>
<line x1="214.4" y1="64.81" x2="216.1" y2="64.81" stroke="#222" stroke-width="0.9"/>
<line x1="404.3" y1="64.81" x2="402.6" y2="64.81" stroke="#222" stroke-width="0.9"/>
<line x1="214.4" y1="62.35" x2="218" y2="62.35" stroke="#222" stroke-width="0.9"/>
<line x1="404.3" y1="62.35" x2="400.7" y2="62.35" stroke="#222" stroke-width="0.9"/>
<line x1="214.4" y1="59.89" x2="216.1" y2="59.89" stroke="#222" stroke-width="0.9"/>
<line x1="404.3" y1="59.89" x2="402.6" y2="59.89" stroke="#222" stroke-width="0.9"/>
<line x1="214.4" y1="57.43" x2="216.1" y2="57.43" stroke="#222" stroke-width="0.9"/>
<line x1="404.3" y1="57.43" x2="402.6" y2="57.43" stroke="#222" stroke-width="0.9"/>
<line x1="214.4" y1="54.97" x2="216.1" y2="54.97" stroke="#222" stroke-width="0.9"/>
<line x1="404.3" y1="54.97" x2="402.6" y2="54.97" stroke="#222" stroke-width="0.9"/>
<line x1="214.4" y1="52.51" x2="216.1" y2="52.51" stroke="#222" stroke-width="0.9"/>
<line x1="404.3" y1="52.51" x2="402.6" y2="52.51" stroke="#222" stroke-width="0.9"/>
<line x1="214.4" y1="50.05" x2="216.1" y2="50.05" stroke="#222" stroke-width="0.9"/>
<line x1="404.3" y1="50.05" x2="402.6" y2="50.05" stroke="#222" stroke-width="0.9"/>
<line x1="214.4" y1="47.59" x2="216.1" y2="47.59" stroke="#222" stroke-width="0.9"/>
<line x1="404.3" y1="47.59" x2="402.6" y2="47.59" stroke="#222" stroke-width="0.9"/>
<line x1="214.4" y1="45.13" x2="216.1" y2="45.13" stroke="#222" stroke-width="0.9"/>
<line x1="404.3" y1="45.13" x2="402.6" y2="45.13" stroke="#222" stroke-width="0.9"/>
<line x1="214.4" y1="42.67" x2="216.1" y2="42.67" stroke="#222" stroke-width="0.9"/>
<line x1="404.3" y1="42.67" x2="402.6" y2="42.67" stroke="#222" stroke-width="0.9"/>
<line x1="214.4" y1="40.21" x2="216.1" y2="40.21" stroke="#222" stroke-width="0.9"/>
<line x1="404.3" y1="40.21" x2="402.6" y2="40.21" stroke="#222" stroke-width="0.9"/>
<line x1="214.4" y1="37.75" x2="218" y2="37.75" stroke="#222" stroke-width="0.9"/>
<line x1="404.3" y1="37.75" x2="400.7" y2="37.75" stroke="#222" stroke-width="0.9"/>
<line x1="214.4" y1="35.29" x2="216.1" y2="35.29" stroke="#222" stroke-width="0.9"/>
<line x1="404.3" y1="35.29" x2="402.6" y2="35.29" stroke="#222" stroke-width="0.9"/>
<line x1="214.4" y1="32.83" x2="216.1" y2="32.83" stroke="#222" stroke-width="0.9"/>
<line x1="404.3" y1="32.83" x2="402.6" y2="32.83" stroke="#222" stroke-width="0.9"/>
<line x1="214.4" y1="30.37" x2="216.1" y2="30.37" stroke="#222" stroke-width="0.9"/>
<line x1="404.3" y1="30.37" x2="402.6" y2="30.37" stroke="#222" stroke-width="0.9"/>
<line x1="214.4" y1="27.91" x2="216.1" y2="27.91" stroke="#222" stroke-width="0.9"/>
<line x1="404.3" y1="27.91" x2="402.6" y2="27.91" stroke="#222" stroke-width="0.9"/>
<line x1="214.4" y1="25.45" x2="216.1" y2="25.45" stroke="#222" stroke-width="0.9"/>
<line x1="404.3" y1="25.45" x2="402.6" y2="25.45" stroke="#222" stroke-width="0.9"/>
<line x1="214.4" y1="22.99" x2="216.1" y2="22.99" stroke="#222" stroke-width="0.9"/>
<line x1="404.3" y1="22.99" x2="402.6" y2="22.99" stroke="#222" stroke-width="0.9"/>
<line x1="214.4" y1="20.53" x2="216.1" y2="20.53" stroke="#222" stroke-width="0.9"/>
<line x1="404.3" y1="20.53" x2="402.6" y2="20.53" stroke="#222" stroke-width="0.9"/>
<line x1="214.4" y1="18.07" x2="216.1" y2="18.07" stroke="#222" stroke-width="0.9"/>
<line x1="404.3" y1="18.07" x2="402.6" y2="18.07" stroke="#222" stroke-width="0.9"/>
<line x1="214.4" y1="15.61" x2="216.1" y2="15.61" stroke="#222" stroke-width="0.9"/>
<line x1="404.3" y1="15.61" x2="402.6" y2="15.61" stroke="#222" stroke-width="0.9"/>
<line x1="214.4" y1="13.15" x2="218" y2="13.15" stroke="#222" stroke-width="0.9"/>
<line x1="404.3" y1="13.15" x2="400.7" y2="13.15" stroke="#222" stroke-width="0.9"/>
<line x1="214.4" y1="10.69" x2="216.1" y2="10.69" stroke="#222" stroke-width="0.9"/>
<line x1="404.3" y1="10.69" x2="402.6" y2="10.69" stroke="#222" stroke-width="0.9"/>
<line x1="214.4" y1="8.23" x2="216.1" y2="8.23" stroke="#222" stroke-width="0.9"/>
<line x1="404.3" y1="8.23" x2="402.6" y2="8.23" stroke="#222" stroke-width="0.9"/>
<line x1="214.4" y1="5.77" x2="216.1" y2="5.77" stroke="#222" stroke-width="0.9"/>
<line x1="404.3" y1="5.77" x2="402.6" y2="5.77" stroke="#222" stroke-width="0.9"/>
<line x1="214.4" y1="3.31" x2="216.1" y2="3.31" stroke="#222" stroke-width="0.9"/>
<line x1="404.3" y1="3.31" x2="402.6" y2="3.31" stroke="#222" stroke-width="0.9"/>
<line x1="214.4" y1="0.85" x2="216.1" y2="0.85" stroke="#222" stroke-width="0.9"/>
<line x1="404.3" y1="0.85" x2="402.6" y2="0.85" stroke="#222" stroke-width="0.9"/>
<line x1="214.4" y1="243.44" x2="216.1" y2="243.44" stroke="#222" stroke-width="0.9"/>
<line x1="404.3" y1="243.44" x2="402.6" y2="243.44" stroke="#222" stroke-width="0.9"/>
<line x1="214.4" y1="240.02" x2="216.1" y2="240.02" stroke="#222" stroke-width="0.9"/>
<line x1="404.3" y1="240.02" x2="402.6" y2="240.02" stroke="#222" stroke-width="0.9"/>
<line x1="214.4" y1="236.6" x2="216.1" y2="236.6" stroke="#222" stroke-width="0.9"/>
<line x1="404.3" y1="236.6" x2="402.6" y2="236.6" stroke="#222" stroke-width="0.9"/>
<line x1="214.4" y1="233.18" x2="216.1" y2="233.18" stroke="#222" stroke-width="0.9"/>
<line x1="404.3" y1="233.18" x2="402.6" y2="233.18" stroke="#222" stroke-width="0.9"/>
<line x1="214.4" y1="229.76" x2="216.1" y2="229.76" stroke="#222" stroke-width="0.9"/>
<line x1="404.3" y1="229.76" x2="402.6" y2="229.76" stroke="#222" stroke-width="0.9"/>
<line x1="214.4" y1="226.34" x2="216.1" y2="226.34" stroke="#222" stroke-width="0.9"/>
<line x1="404.3" y1="226.34" x2="402.6" y2="226.34" stroke="#222" stroke-width="0.9"/>
<line x1="214.4" y1="222.92" x2="216.1" y2="222.92" stroke="#222" stroke-width="0.9"/>
<line x1="404.3" y1="222.92" x2="402.6" y2="222.92" stroke="#222" stroke-width="0.9"/>
<line x1="214.4" y1="219.5" x2="218" y2="219.5" stroke="#222" stroke-width="0.9"/>
<line x1="404.3" y1="219.5" x2="400.7" y2="219.5" stroke="#222" stroke-width="0.9"/>
<line x1="214.4" y1="216.08" x2="216.1" y2="216.08" stroke="#222" stroke-width="0.9"/>
<line x1="404.3" y1="216.08" x2="402.6" y2="216.08" stroke="#222" stroke-width="0.9"/>
<line x1="214.4" y1="212.66" x2="216.1" y2="212.66" stroke="#222" stroke-width="0.9"/>
<line x1="404.3" y1="212.66" x2="402.6" y2="212.66" stroke="#222" stroke-width="0.9"/>
<line x1="214.4" y1="209.24" x2="216.1" y2="209.24" stroke="#222" stroke-width="0.9"/>
<line x1="404.3" y1="209.24" x2="402.6" y2="209.24" stroke="#222" stroke-width="0.9"/>
<line x1="214.4" y1="205.82" x2="216.1" y2="205.82" stroke="#222" stroke-width="0.9"/>
<line x1="404.3" y1="205.82" x2="402.6" y2="205.82" stroke="#222" stroke-width="0.9"/>
<line x1="214.4" y1="202.4" x2="216.1" y2="202.4" stroke="#222" stroke-width="0.9"/>
<line x1="404.3" y1="202.4" x2="402.6" y2="202.4" stroke="#222" stroke-width="0.9"/>
<line x1="214.4" y1="198.98" x2="216.1" y2="198.98" stroke="#222" stroke-width="0.9"/>
<line x1="404.3" y1="198.98" x2="402.6" y2="198.98" stroke="#222" stroke-width="0.9"/>
<line x1="214.4" y1="195.56" x2="216.1" y2="195.56" stroke="#222" stroke-width="0.9"/>
<line x1="404.3" y1="195.56" x2="402.6" y2="195.56" stroke="#222" stroke-width="0.9"/>
<line x1="214.4" y1="192.14" x2="216.1" y2="192.14" stroke="#222" stroke-width="0.9"/>
<line x1="404.3" y1="192.14" x2="402.6" y2="192.14" stroke="#222" stroke-width="0.9"/>
<line x1="214.4" y1="188.72" x2="216.1" y2="188.72" stroke="#222" stroke-width="0.9"/>
<line x1="404.3" y1="188.72" x2="402.6" y2="188.72" stroke="#222" stroke-width="0.9"/>
<line x1="214.4" y1="185.3" x2="218" y2="185.3" stroke="#222" stroke-width="0.9"/>
<line x1="404.3" y1="185.3" x2="400.7" y2="185.3" stroke="#222" stroke-width="0.9"/>
<line x1="214.4" y1="181.88" x2="216.1" y2="181.88" stroke="#222" stroke-width="0.9"/>
<line x1="404.3" y1="181.88" x2="402.6" y2="181.88" stroke="#222" stroke-width="0.9"/>
<line x1="214.4" y1="178.46" x2="216.1" y2="178.46" stroke="#222" stroke-width="0.9"/>
<line x1="404.3" y1="178.46" x2="402.6" y2="178.46" stroke="#222" stroke-width="0.9"/>
<line x1="214.4" y1="175.04" x2="216.1" y2="175.04" stroke="#222" stroke-width="0.9"/>
<line x1="404.3" y1="175.04" x2="402.6" y2="175.04" stroke="#222" stroke-width="0.9"/>
<line x1="214.4" y1="171.62" x2="216.1" y2="171.62" stroke="#222" stroke-width="0.9"/>
<line x1="404.3" y1="171.62" x2="402.6" y2="171.62" stroke="#222" stroke-width="0.9"/>
<line x1="214.4" y1="168.2" x2="216.1" y2="168.2" stroke="#222" stroke-width="0.9"/>
<line x1="404.3" y1="168.2" x2="402.6" y2="168.2" stroke="#222" stroke-width="0.9"/>
<line x1="214.4" y1="164.78" x2="216.1" y2="164.78" stroke="#222" stroke-width="0.9"/>
<line x1="404.3" y1="164.78" x2="402.6" y2="164.78" stroke="#222" stroke-width="0.9"/>
<line x1="214.4" y1="161.36" x2="216.1" y2="161.36" stroke="#222" stroke-width="0.9"/>
<line x1="404.3" y1="161.36" x2="402.6" y2="161.36" stroke="#222" stroke-width="0.9"/>
<line x1="214.4" y1="157.94" x2="216.1" y2="157.94" stroke="#222" stroke-width="0.9"/>
<line x1="404.3" y1="157.94" x2="402.6" y2="157.94" stroke="#222" stroke-width="0.9"/>
<line x1="214.4" y1="154.52" x2="216.1" y2="154.52" stroke="#222" stroke-width="0.9"/>
<line x1="404.3" y1="154.52" x2="402.6" y2="154.52" stroke="#222" stroke-width="0.9"/>
<line x1="214.4" y1="151.1" x2="218" y2="151.1" stroke="#222" stroke-width="0.9"/>
<line x1="404.3" y1="151.1" x2="400.7" y2="151.1" stroke="#222" stroke-width="0.9"/>
<line x1="214.4" y1="147.68" x2="216.1" y2="147.68" stroke="#222" stroke-width="0.9"/>
<line x1="404.3" y1="147.68" x2="402.6" y2="147.68" stroke="#222" stroke-width="0.9"/>
<line x1="214.4" y1="144.26" x2="216.1" y2="144.26" stroke="#222" stroke-width="0.9"/>
<line x1="404.3" y1="144.26" x2="402.6" y2="144.26" stroke="#222" stroke-width="0.9"/>
<line x1="214.4" y1="140.84" x2="216.1" y2="140.84" stroke="#222" stroke-width="0.9"/>
<line x1="404.3" y1="140.84" x2="402.6" y2="140.84" stroke="#222" stroke-width="0.9"/>
<line x1="214.4" y1="137.42" x2="216.1" y2="137.42" stroke="#222" stroke-width="0.9"/>
<line x1="404.3" y1="137.42" x2="402.6" y2="137.42" stroke="#222" stroke-width="0.9"/>
<line x1="214.4" y1="134" x2="216.1" y2="134" stroke="#222" stroke-width="0.9"/>
<line x1="404.3" y1="134" x2="402.6" y2="134" stroke="#222" stroke-width="0.9"/>
<line x1="214.4" y1="130.58" x2="216.1" y2="130.58" stroke="#222" stroke-width="0.9"/>
<line x1="404.3" y1="130.58" x2="402.6" y2="130.58" stroke="#222" stroke-width="0.9"/>
<line x1="214.4" y1="127.16" x2="216.1" y2="127.16" stroke="#222" stroke-width="0.9"/>
<line x1="404.3" y1="127.16" x2="402.6" y2="127.16" stroke="#222" stroke-width="0.9"/>
<line x1="214.4" y1="123.74" x2="216.1" y2="123.74" stroke="#222" stroke-width="0.9"/>
<line x1="404.3" y1="123.74" x2="402.6" y2="123.74" stroke="#222" stroke-width="0.9"/>
<rect x="406.6" y="0.5" width="189.9" height="245.8" fill="none" stroke="#222" stroke-width="1"/>
<line x1="406.6" y1="123.4" x2="596.5" y2="123.4" stroke="#222" stroke-width="1"/>
<line x1="408.17" y1="0.5" x2="408.17" y2="1.8" stroke="#222" stroke-width="0.9"/>
<line x1="408.17" y1="123.4" x2="408.17" y2="122.1" stroke="#222" stroke-width="0.9"/>
<line x1="416.44" y1="0.5" x2="416.44" y2="1.8" stroke="#222" stroke-width="0.9"/>
<line x1="416.44" y1="123.4" x2="416.44" y2="122.1" stroke="#222" stroke-width="0.9"/>
<line x1="424.7" y1="0.5" x2="424.7" y2="2.9" stroke="#222" stroke-width="0.9"/>
<line x1="424.7" y1="123.4" x2="424.7" y2="121" stroke="#222" stroke-width="0.9"/>
<line x1="432.96" y1="0.5" x2="432.96" y2="1.8" stroke="#222" stroke-width="0.9"/>
<line x1="432.96" y1="123.4" x2="432.96" y2="122.1" stroke="#222" stroke-width="0.9"/>
<line x1="441.23" y1="0.5" x2="441.23" y2="1.8" stroke="#222" stroke-width="0.9"/>
<line x1="441.23" y1="123.4" x2="441.23" y2="122.1" stroke="#222" stroke-width="0.9"/>
<line x1="449.5" y1="0.5" x2="449.5" y2="1.8" stroke="#222" stroke-width="0.9"/>
<line x1="449.5" y1="123.4" x2="449.5" y2="122.1" stroke="#222" stroke-width="0.9"/>
<line x1="457.76" y1="0.5" x2="457.76" y2="2.9" stroke="#222" stroke-width="0.9"/>
<line x1="457.76" y1="123.4" x2="457.76" y2="121" stroke="#222" stroke-width="0.9"/>
<line x1="466.02" y1="0.5" x2="466.02" y2="1.8" stroke="#222" stroke-width="0.9"/>
<line x1="466.02" y1="123.4" x2="466.02" y2="122.1" stroke="#222" stroke-width="0.9"/>
<line x1="474.29" y1="0.5" x2="474.29" y2="1.8" stroke="#222" stroke-width="0.9"/>
<line x1="474.29" y1="123.4" x2="474.29" y2="122.1" stroke="#222" stroke-width="0.9"/>
<line x1="482.56" y1="0.5" x2="482.56" y2="1.8" stroke="#222" stroke-width="0.9"/>
<line x1="482.56" y1="123.4" x2="482.56" y2="122.1" stroke="#222" stroke-width="0.9"/>
<line x1="490.82" y1="0.5" x2="490.82" y2="2.9" stroke="#222" stroke-width="0.9"/>
<line x1="490.82" y1="123.4" x2="490.82" y2="121" stroke="#222" stroke-width="0.9"/>
<line x1="499.08" y1="0.5" x2="499.08" y2="1.8" stroke="#222" stroke-width="0.9"/>
<line x1="499.08" y1="123.4" x2="499.08" y2="122.1" stroke="#222" stroke-width="0.9"/>
<line x1="507.35" y1="0.5" x2="507.35" y2="1.8" stroke="#222" stroke-width="0.9"/>
<line x1="507.35" y1="123.4" x2="507.35" y2="122.1" stroke="#222" stroke-width="0.9"/>
<line x1="515.62" y1="0.5" x2="515.62" y2="1.8" stroke="#222" stroke-width="0.9"/>
<line x1="515.62" y1="123.4" x2="515.62" y2="122.1" stroke="#222" stroke-width="0.9"/>
<line x1="523.88" y1="0.5" x2="523.88" y2="2.9" stroke="#222" stroke-width="0.9"/>
<line x1="523.88" y1="123.4" x2="523.88" y2="121" stroke="#222" stroke-width="0.9"/>
<line x1="532.14" y1="0.5" x2="532.14" y2="1.8" stroke="#222" stroke-width="0.9"/>
<line x1="532.14" y1="123.4" x2="532.14" y2="122.1" stroke="#222" stroke-width="0.9"/>
<line x1="540.41" y1="0.5" x2="540.41" y2="1.8" stroke="#222" stroke-width="0.9"/>
<line x1="540.41" y1="123.4" x2="540.41" y2="122.1" stroke="#222" stroke-width="0.9"/>
<line x1="548.67" y1="0.5" x2="548.67" y2="1.8" stroke="#222" stroke-width="0.9"/>
<line x1="548.67" y1="123.4" x2="548.67" y2="122.1" stroke="#222" stroke-width="0.9"/>
<line x1="556.94" y1="0.5" x2="556.94" y2="2.9" stroke="#222" stroke-width="0.9"/>
<line x1="556.94" y1="123.4" x2="556.94" y2="121" stroke="#222" stroke-width="0.9"/>
<line x1="565.2" y1="0.5" x2="565.2" y2="1.8" stroke="#222" stroke-width="0.9"/>
<line x1="565.2" y1="123.4" x2="565.2" y2="122.1" stroke="#222" stroke-width="0.9"/>
<line x1="573.47" y1="0.5" x2="573.47" y2="1.8" stroke="#222" stroke-width="0.9"/>
<line x1="573.47" y1="123.4" x2="573.47" y2="122.1" stroke="#222" stroke-width="0.9"/>
<line x1="581.74" y1="0.5" x2="581.74" y2="1.8" stroke="#222" stroke-width="0.9"/>
<line x1="581.74" y1="123.4" x2="581.74" y2="122.1" stroke="#222" stroke-width="0.9"/>
<line x1="590" y1="0.5" x2="590" y2="2.9" stroke="#222" stroke-width="0.9"/>
<line x1="590" y1="123.4" x2="590" y2="121" stroke="#222" stroke-width="0.9"/>
<line x1="408.17" y1="123.4" x2="408.17" y2="124.7" stroke="#222" stroke-width="0.9"/>
<line x1="408.17" y1="246.3" x2="408.17" y2="245" stroke="#222" stroke-width="0.9"/>
<line x1="416.44" y1="123.4" x2="416.44" y2="124.7" stroke="#222" stroke-width="0.9"/>
<line x1="416.44" y1="246.3" x2="416.44" y2="245" stroke="#222" stroke-width="0.9"/>
<line x1="424.7" y1="123.4" x2="424.7" y2="125.8" stroke="#222" stroke-width="0.9"/>
<line x1="424.7" y1="246.3" x2="424.7" y2="243.9" stroke="#222" stroke-width="0.9"/>
<line x1="432.96" y1="123.4" x2="432.96" y2="124.7" stroke="#222" stroke-width="0.9"/>
<line x1="432.96" y1="246.3" x2="432.96" y2="245" stroke="#222" stroke-width="0.9"/>
<line x1="441.23" y1="123.4" x2="441.23" y2="124.7" stroke="#222" stroke-width="0.9"/>
<line x1="441.23" y1="246.3" x2="441.23" y2="245" stroke="#222" stroke-width="0.9"/>
<line x1="449.5" y1="123.4" x2="449.5" y2="124.7" stroke="#222" stroke-width="0.9"/>
<line x1="449.5" y1="246.3" x2="449.5" y2="245" stroke="#222" stroke-width="0.9"/>
<line x1="457.76" y1="123.4" x2="457.76" y2="125.8" stroke="#222" stroke-width="0.9"/>
<line x1="457.76" y1="246.3" x2="457.76" y2="243.9" stroke="#222" stroke-width="0.9"/>
<line x1="466.02" y1="123.4" x2="466.02" y2="124.7" stroke="#222" stroke-width="0.9"/>
<line x1="466.02" y1="246.3" x2="466.02" y2="245" stroke="#222" stroke-width="0.9"/>
<line x1="474.29" y1="123.4" x2="474.29" y2="124.7" stroke="#222" stroke-width="0.9"/>
<line x1="474.29" y1="246.3" x2="474.29" y2="245" stroke="#222" stroke-width="0.9"/>
<line x1="482.56" y1="123.4" x2="482.56" y2="124.7" stroke="#222" stroke-width="0.9"/>
<line x1="482.56" y1="246.3" x2="482.56" y2="245" stroke="#222" stroke-width="0.9"/>
<line x1="490.82" y1="123.4" x2="490.82" y2="125.8" stroke="#222" stroke-width="0.9"/>
<line x1="490.82" y1="246.3" x2="490.82" y2="243.9" stroke="#222" stroke-width="0.9"/>
<line x1="499.08" y1="123.4" x2="499.08" y2="124.7" stroke="#222" stroke-width="0.9"/>
<line x1="499.08" y1="246.3" x2="499.08" y2="245" stroke="#222" stroke-width="0.9"/>
<line x1="507.35" y1="123.4" x2="507.35" y2="124.7" stroke="#222" stroke-width="0.9"/>
<line x1="507.35" y1="246.3" x2="507.35" y2="245" stroke="#222" stroke-width="0.9"/>
<line x1="515.62" y1="123.4" x2="515.62" y2="124.7" stroke="#222" stroke-width="0.9"/>
<line x1="515.62" y1="246.3" x2="515.62" y2="245" stroke="#222" stroke-width="0.9"/>
<line x1="523.88" y1="123.4" x2="523.88" y2="125.8" stroke="#222" stroke-width="0.9"/>
<line x1="523.88" y1="246.3" x2="523.88" y2="243.9" stroke="#222" stroke-width="0.9"/>
<line x1="532.14" y1="123.4" x2="532.14" y2="124.7" stroke="#222" stroke-width="0.9"/>
<line x1="532.14" y1="246.3" x2="532.14" y2="245" stroke="#222" stroke-width="0.9"/>
<line x1="540.41" y1="123.4" x2="540.41" y2="124.7" stroke="#222" stroke-width="0.9"/>
<line x1="540.41" y1="246.3" x2="540.41" y2="245" stroke="#222" stroke-width="0.9"/>
<line x1="548.67" y1="123.4" x2="548.67" y2="124.7" stroke="#222" stroke-width="0.9"/>
<line x1="548.67" y1="246.3" x2="548.67" y2="245" stroke="#222" stroke-width="0.9"/>
<line x1="556.94" y1="123.4" x2="556.94" y2="125.8" stroke="#222" stroke-width="0.9"/>
<line x1="556.94" y1="246.3" x2="556.94" y2="243.9" stroke="#222" stroke-width="0.9"/>
<line x1="565.2" y1="123.4" x2="565.2" y2="124.7" stroke="#222" stroke-width="0.9"/>
<line x1="565.2" y1="246.3" x2="565.2" y2="245" stroke="#222" stroke-width="0.9"/>
<line x1="573.47" y1="123.4" x2="573.47" y2="124.7" stroke="#222" stroke-width="0.9"/>
<line x1="573.47" y1="246.3" x2="573.47" y2="245" stroke="#222" stroke-width="0.9"/>
<line x1="581.74" y1="123.4" x2="581.74" y2="124.7" stroke="#222" stroke-width="0.9"/>
<line x1="581.74" y1="246.3" x2="581.74" y2="245" stroke="#222" stroke-width="0.9"/>
<line x1="590" y1="123.4" x2="590" y2="125.8" stroke="#222" stroke-width="0.9"/>
<line x1="590" y1="246.3" x2="590" y2="243.9" stroke="#222" stroke-width="0.9"/>
<line x1="406.6" y1="121.39" x2="408.3" y2="121.39" stroke="#222" stroke-width="0.9"/>
<line x1="596.5" y1="121.39" x2="594.8" y2="121.39" stroke="#222" stroke-width="0.9"/>
<line x1="406.6" y1="118.93" x2="408.3" y2="118.93" stroke="#222" stroke-width="0.9"/>
<line x1="596.5" y1="118.93" x2="594.8" y2="118.93" stroke="#222" stroke-width="0.9"/>
<line x1="406.6" y1="116.47" x2="408.3" y2="116.47" stroke="#222" stroke-width="0.9"/>
<line x1="596.5" y1="116.47" x2="594.8" y2="116.47" stroke="#222" stroke-width="0.9"/>
<line x1="406.6" y1="114.01" x2="408.3" y2="114.01" stroke="#222" stroke-width="0.9"/>
<line x1="596.5" y1="114.01" x2="594.8" y2="114.01" stroke="#222" stroke-width="0.9"/>
<line x1="406.6" y1="111.55" x2="410.2" y2="111.55" stroke="#222" stroke-width="0.9"/>
<line x1="596.5" y1="111.55" x2="592.9" y2="111.55" stroke="#222" stroke-width="0.9"/>
<line x1="406.6" y1="109.09" x2="408.3" y2="109.09" stroke="#222" stroke-width="0.9"/>
<line x1="596.5" y1="109.09" x2="594.8" y2="109.09" stroke="#222" stroke-width="0.9"/>
<line x1="406.6" y1="106.63" x2="408.3" y2="106.63" stroke="#222" stroke-width="0.9"/>
<line x1="596.5" y1="106.63" x2="594.8" y2="106.63" stroke="#222" stroke-width="0.9"/>
<line x1="406.6" y1="104.17" x2="408.3" y2="104.17" stroke="#222" stroke-width="0.9"/>
<line x1="596.5" y1="104.17" x2="594.8" y2="104.17" stroke="#222" stroke-width="0.9"/>
<line x1="406.6" y1="101.71" x2="408.3" y2="101.71" stroke="#222" stroke-width="0.9"/>
<line x1="596.5" y1="101.71" x2="594.8" y2="101.71" stroke="#222" stroke-width="0.9"/>
<line x1="406.6" y1="99.25" x2="408.3" y2="99.25" stroke="#222" stroke-width="0.9"/>
<line x1="596.5" y1="99.25" x2="594.8" y2="99.25" stroke="#222" stroke-width="0.9"/>
<line x1="406.6" y1="96.79" x2="408.3" y2="96.79" stroke="#222" stroke-width="0.9"/>
<line x1="596.5" y1="96.79" x2="594.8" y2="96.79" stroke="#222" stroke-width="0.9"/>
<line x1="406.6" y1="94.33" x2="408.3" y2="94.33" stroke="#222" stroke-width="0.9"/>
<line x1="596.5" y1="94.33" x2="594.8" y2="94.33" stroke="#222" stroke-width="0.9"/>
<line x1="406.6" y1="91.87" x2="408.3" y2="91.87" stroke="#222" stroke-width="0.9"/>
<line x1="596.5" y1="91.87" x2="594.8" y2="91.87" stroke="#222" stroke-width="0.9"/>
<line x1="406.6" y1="89.41" x2="408.3" y2="89.41" stroke="#222" stroke-width="0.9"/>
<line x1="596.5" y1="89.41" x2="594.8" y2="89.41" stroke="#222" stroke-width="0.9"/>
<line x1="406.6" y1="86.95" x2="410.2" y2="86.95" stroke="#222" stroke-width="0.9"/>
<line x1="596.5" y1="86.95" x2="592.9" y2="86.95" stroke="#222" stroke-width="0.9"/>
<line x1="406.6" y1="84.49" x2="408.3" y2="84.49" stroke="#222" stroke-width="0.9"/>
<line x1="596.5" y1="84.49" x2="594.8" y2="84.49" stroke="#222" stroke-width="0.9"/>
<line x1="406.6" y1="82.03" x2="408.3" y2="82.03" stroke="#222" stroke-width="0.9"/>
<line x1="596.5" y1="82.03" x2="594.8" y2="82.03" stroke="#222" stroke-width="0.9"/>
<line x1="406.6" y1="79.57" x2="408.3" y2="79.57" stroke="#222" stroke-width="0.9"/>
<line x1="596.5" y1="79.57" x2="594.8" y2="79.57" stroke="#222" stroke-width="0.9"/>
<line x1="406.6" y1="77.11" x2="408.3" y2="77.11" stroke="#222" stroke-width="0.9"/>
<line x1="596.5" y1="77.11" x2="594.8" y2="77.11" stroke="#222" stroke-width="0.9"/>
<line x1="406.6" y1="74.65" x2="408.3" y2="74.65" stroke="#222" stroke-width="0.9"/>
<line x1="596.5" y1="74.65" x2="594.8" y2="74.65" stroke="#222" stroke-width="0.9"/>
<line x1="406.6" y1="72.19" x2="408.3" y2="72.19" stroke="#222" stroke-width="0.9"/>
<line x1="596.5" y1="72.19" x2="594.8" y2="72.19" stroke="#222" stroke-width="0.9"/>
<line x1="406.6" y1="69.73" x2="408.3" y2="69.73" stroke="#222" stroke-width="0.9"/>
<line x1="596.5" y1="69.73" x2="594.8" y2="69.73" stroke="#222" stroke-width="0.9"/>
<line x1="406.6" y1="67.27" x2="408.3" y2="67.27" stroke="#222" stroke-width="0.9"/>
<line x1="596.5" y1="67.27" x2="594.8" y2="67.27" stroke="#222" stroke-width="0.9"/>
<line x1="406.6" y1="64.81" x2="408.3" y2="64.81" stroke="#222" stroke-width="0.9"/>
<line x1="596.5" y1="64.81" x2="594.8" y2="64.81" stroke="#222" stroke-width="0.9"/>
<line x1="406.6" y1="62.35" x2="410.2" y2="62.35" stroke="#222" stroke-width="0.9"/>
<line x1="596.5" y1="62.35" x2="592.9" y2="62.35" stroke="#222" stroke-width="0.9"/>
<line x1="406.6" y1="59.89" x2="408.3" y2="59.89" stroke="#222" stroke-width="0.9"/>
<line x1="596.5" y1="59.89" x2="594.8" y2="59.89" stroke="#222" stroke-width="0.9"/>
<line x1="406.6" y1="57.43" x2="408.3" y2="57.43" stroke="#222" stroke-width="0.9"/>
<line x1="596.5" y1="57.43" x2="594.8" y2="57.43" stroke="#222" stroke-width="0.9"/>
<line x1="406.6" y1="54.97" x2="408.3" y2="54.97" stroke="#222" stroke-width="0.9"/>
<line x1="596.5" y1="54.97" x2="594.8" y2="54.97" stroke="#222" stroke-width="0.9"/>
<line x1="406.6" y1="52.51" x2="408.3" y2="52.51" stroke="#222" stroke-width="0.9"/>
<line x1="596.5" y1="52.51" x2="594.8" y2="52.51" stroke="#222" stroke-width="0.9"/>
<line x1="406.6" y1="50.05" x2="408.3" y2="50.05" stroke="#222" stroke-width="0.9"/>
<line x1="596.5" y1="50.05" x2="594.8" y2="50.05" stroke="#222" stroke-width="0.9"/>
<line x1="406.6" y1="47.59" x2="408.3" y2="47.59" stroke="#222" stroke-width="0.9"/>
<line x1="596.5" y1="47.59" x2="594.8" y2="47.59" stroke="#222" stroke-width="0.9"/>
<line x1="406.6" y1="45.13" x2="408.3" y2="45.13" stroke="#222" stroke-width="0.9"/>
<line x1="596.5" y1="45.13" x2="594.8" y2="45.13" stroke="#222" stroke-width="0.9"/>
<line x1="406.6" y1="42.67" x2="408.3" y2="42.67" stroke="#222" stroke-width="0.9"/>
<line x1="596.5" y1="42.67" x2="594.8" y2="42.67" stroke="#222" stroke-width="0.9"/>
<line x1="406.6" y1="40.21" x2="408.3" y2="40.21" stroke="#222" stroke-width="0.9"/>
<line x1="596.5" y1="40.21" x2="594.8" y2="40.21" stroke="#222" stroke-width="0.9"/>
<line x1="406.6" y1="37.75" x2="410.2" y2="37.75" stroke="#222" stroke-width="0.9"/>
<line x1="596.5" y1="37.75" x2="592.9" y2="37.75" stroke="#222" stroke-width="0.9"/>
<line x1="406.6" y1="35.29" x2="408.3" y2="35.29" stroke="#222" stroke-width="0.9"/>
<line x1="596.5" y1="35.29" x2="594.8" y2="35.29" stroke="#222" stroke-width="0.9"/>
<line x1="406.6" y1="32.83" x2="408.3" y2="32.83" stroke="#222" stroke-width="0.9"/>
<line x1="596.5" y1="32.83" x2="594.8" y2="32.83" stroke="#222" stroke-width="0.9"/>
<line x1="406.6" y1="30.37" x2="408.3" y2="30.37" stroke="#222" stroke-width="0.9"/>
<line x1="596.5" y1="30.37" x2="594.8" y2="30.37" stroke="#222" stroke-width="0.9"/>
<line x1="406.6" y1="27.91" x2="408.3" y2="27.91" stroke="#222" stroke-width="0.9"/>
<line x1="596.5" y1="27.91" x2="594.8" y2="27.91" stroke="#222" stroke-width="0.9"/>
<line x1="406.6" y1="25.45" x2="408.3" y2="25.45" stroke="#222" stroke-width="0.9"/>
<line x1="596.5" y1="25.45" x2="594.8" y2="25.45" stroke="#222" stroke-width="0.9"/>
<line x1="406.6" y1="22.99" x2="408.3" y2="22.99" stroke="#222" stroke-width="0.9"/>
<line x1="596.5" y1="22.99" x2="594.8" y2="22.99" stroke="#222" stroke-width="0.9"/>
<line x1="406.6" y1="20.53" x2="408.3" y2="20.53" stroke="#222" stroke-width="0.9"/>
<line x1="596.5" y1="20.53" x2="594.8" y2="20.53" stroke="#222" stroke-width="0.9"/>
<line x1="406.6" y1="18.07" x2="408.3" y2="18.07" stroke="#222" stroke-width="0.9"/>
<line x1="596.5" y1="18.07" x2="594.8" y2="18.07" stroke="#222" stroke-width="0.9"/>
<line x1="406.6" y1="15.61" x2="408.3" y2="15.61" stroke="#222" stroke-width="0.9"/>
<line x1="596.5" y1="15.61" x2="594.8" y2="15.61" stroke="#222" stroke-width="0.9"/>
<line x1="406.6" y1="13.15" x2="410.2" y2="13.15" stroke="#222" stroke-width="0.9"/>
<line x1="596.5" y1="13.15" x2="592.9" y2="13.15" stroke="#222" stroke-width="0.9"/>
<line x1="406.6" y1="10.69" x2="408.3" y2="10.69" stroke="#222" stroke-width="0.9"/>
<line x1="596.5" y1="10.69" x2="594.8" y2="10.69" stroke="#222" stroke-width="0.9"/>
<line x1="406.6" y1="8.23" x2="408.3" y2="8.23" stroke="#222" stroke-width="0.9"/>
<line x1="596.5" y1="8.23" x2="594.8" y2="8.23" stroke="#222" stroke-width="0.9"/>
<line x1="406.6" y1="5.77" x2="408.3" y2="5.77" stroke="#222" stroke-width="0.9"/>
<line x1="596.5" y1="5.77" x2="594.8" y2="5.77" stroke="#222" stroke-width="0.9"/>
<line x1="406.6" y1="3.31" x2="408.3" y2="3.31" stroke="#222" stroke-width="0.9"/>
<line x1="596.5" y1="3.31" x2="594.8" y2="3.31" stroke="#222" stroke-width="0.9"/>
<line x1="406.6" y1="0.85" x2="408.3" y2="0.85" stroke="#222" stroke-width="0.9"/>
<line x1="596.5" y1="0.85" x2="594.8" y2="0.85" stroke="#222" stroke-width="0.9"/>
<line x1="406.6" y1="243.44" x2="408.3" y2="243.44" stroke="#222" stroke-width="0.9"/>
<line x1="596.5" y1="243.44" x2="594.8" y2="243.44" stroke="#222" stroke-width="0.9"/>
<line x1="406.6" y1="240.02" x2="408.3" y2="240.02" stroke="#222" stroke-width="0.9"/>
<line x1="596.5" y1="240.02" x2="594.8" y2="240.02" stroke="#222" stroke-width="0.9"/>
<line x1="406.6" y1="236.6" x2="408.3" y2="236.6" stroke="#222" stroke-width="0.9"/>
<line x1="596.5" y1="236.6" x2="594.8" y2="236.6" stroke="#222" stroke-width="0.9"/>
<line x1="406.6" y1="233.18" x2="408.3" y2="233.18" stroke="#222" stroke-width="0.9"/>
<line x1="596.5" y1="233.18" x2="594.8" y2="233.18" stroke="#222" stroke-width="0.9"/>
<line x1="406.6" y1="229.76" x2="408.3" y2="229.76" stroke="#222" stroke-width="0.9"/>
<line x1="596.5" y1="229.76" x2="594.8" y2="229.76" stroke="#222" stroke-width="0.9"/>
<line x1="406.6" y1="226.34" x2="408.3" y2="226.34" stroke="#222" stroke-width="0.9"/>
<line x1="596.5" y1="226.34" x2="594.8" y2="226.34" stroke="#222" stroke-width="0.9"/>
<line x1="406.6" y1="222.92" x2="408.3" y2="222.92" stroke="#222" stroke-width="0.9"/>
<line x1="596.5" y1="222.92" x2="594.8" y2="222.92" stroke="#222" stroke-width="0.9"/>
<line x1="406.6" y1="219.5" x2="410.2" y2="219.5" stroke="#222" stroke-width="0.9"/>
<line x1="596.5" y1="219.5" x2="592.9" y2="219.5" stroke="#222" stroke-width="0.9"/>
<line x1="406.6" y1="216.08" x2="408.3" y2="216.08" stroke="#222" stroke-width="0.9"/>
<line x1="596.5" y1="216.08" x2="594.8" y2="216.08" stroke="#222" stroke-width="0.9"/>
<line x1="406.6" y1="212.66" x2="408.3" y2="212.66" stroke="#222" stroke-width="0.9"/>
<line x1="596.5" y1="212.66" x2="594.8" y2="212.66" stroke="#222" stroke-width="0.9"/>
<line x1="406.6" y1="209.24" x2="408.3" y2="209.24" stroke="#222" stroke-width="0.9"/>
<line x1="596.5" y1="209.24" x2="594.8" y2="209.24" stroke="#222" stroke-width="0.9"/>
<line x1="406.6" y1="205.82" x2="408.3" y2="205.82" stroke="#222" stroke-width="0.9"/>
<line x1="596.5" y1="205.82" x2="594.8" y2="205.82" stroke="#222" stroke-width="0.9"/>
<line x1="406.6" y1="202.4" x2="408.3" y2="202.4" stroke="#222" stroke-width="0.9"/>
<line x1="596.5" y1="202.4" x2="594.8" y2="202.4" stroke="#222" stroke-width="0.9"/>
<line x1="406.6" y1="198.98" x2="408.3" y2="198.98" stroke="#222" stroke-width="0.9"/>
<line x1="596.5" y1="198.98" x2="594.8" y2="198.98" stroke="#222" stroke-width="0.9"/>
<line x1="406.6" y1="195.56" x2="408.3" y2="195.56" stroke="#222" stroke-width="0.9"/>
<line x1="596.5" y1="195.56" x2="594.8" y2="195.56" stroke="#222" stroke-width="0.9"/>
<line x1="406.6" y1="192.14" x2="408.3" y2="192.14" stroke="#222" stroke-width="0.9"/>
<line x1="596.5" y1="192.14" x2="594.8" y2="192.14" stroke="#222" stroke-width="0.9"/>
<line x1="406.6" y1="188.72" x2="408.3" y2="188.72" stroke="#222" stroke-width="0.9"/>
<line x1="596.5" y1="188.72" x2="594.8" y2="188.72" stroke="#222" stroke-width="0.9"/>
<line x1="406.6" y1="185.3" x2="410.2" y2="185.3" stroke="#222" stroke-width="0.9"/>
<line x1="596.5" y1="185.3" x2="592.9" y2="185.3" stroke="#222" stroke-width="0.9"/>
<line x1="406.6" y1="181.88" x2="408.3" y2="181.88" stroke="#222" stroke-width="0.9"/>
<line x1="596.5" y1="181.88" x2="594.8" y2="181.88" stroke="#222" stroke-width="0.9"/>
<line x1="406.6" y1="178.46" x2="408.3" y2="178.46" stroke="#222" stroke-width="0.9"/>
<line x1="596.5" y1="178.46" x2="594.8" y2="178.46" stroke="#222" stroke-width="0.9"/>
<line x1="406.6" y1="175.04" x2="408.3" y2="175.04" stroke="#222" stroke-width="0.9"/>
<line x1="596.5" y1="175.04" x2="594.8" y2="175.04" stroke="#222" stroke-width="0.9"/>
<line x1="406.6" y1="171.62" x2="408.3" y2="171.62" stroke="#222" stroke-width="0.9"/>
<line x1="596.5" y1="171.62" x2="594.8" y2="171.62" stroke="#222" stroke-width="0.9"/>
<line x1="406.6" y1="168.2" x2="408.3" y2="168.2" stroke="#222" stroke-width="0.9"/>
<line x1="596.5" y1="168.2" x2="594.8" y2="168.2" stroke="#222" stroke-width="0.9"/>
<line x1="406.6" y1="164.78" x2="408.3" y2="164.78" stroke="#222" stroke-width="0.9"/>
<line x1="596.5" y1="164.78" x2="594.8" y2="164.78" stroke="#222" stroke-width="0.9"/>
<line x1="406.6" y1="161.36" x2="408.3" y2="161.36" stroke="#222" stroke-width="0.9"/>
<line x1="596.5" y1="161.36" x2="594.8" y2="161.36" stroke="#222" stroke-width="0.9"/>
<line x1="406.6" y1="157.94" x2="408.3" y2="157.94" stroke="#222" stroke-width="0.9"/>
<line x1="596.5" y1="157.94" x2="594.8" y2="157.94" stroke="#222" stroke-width="0.9"/>
<line x1="406.6" y1="154.52" x2="408.3" y2="154.52" stroke="#222" stroke-width="0.9"/>
<line x1="596.5" y1="154.52" x2="594.8" y2="154.52" stroke="#222" stroke-width="0.9"/>
<line x1="406.6" y1="151.1" x2="410.2" y2="151.1" stroke="#222" stroke-width="0.9"/>
<line x1="596.5" y1="151.1" x2="592.9" y2="151.1" stroke="#222" stroke-width="0.9"/>
<line x1="406.6" y1="147.68" x2="408.3" y2="147.68" stroke="#222" stroke-width="0.9"/>
<line x1="596.5" y1="147.68" x2="594.8" y2="147.68" stroke="#222" stroke-width="0.9"/>
<line x1="406.6" y1="144.26" x2="408.3" y2="144.26" stroke="#222" stroke-width="0.9"/>
<line x1="596.5" y1="144.26" x2="594.8" y2="144.26" stroke="#222" stroke-width="0.9"/>
<line x1="406.6" y1="140.84" x2="408.3" y2="140.84" stroke="#222" stroke-width="0.9"/>
<line x1="596.5" y1="140.84" x2="594.8" y2="140.84" stroke="#222" stroke-width="0.9"/>
<line x1="406.6" y1="137.42" x2="408.3" y2="137.42" stroke="#222" stroke-width="0.9"/>
<line x1="596.5" y1="137.42" x2="594.8" y2="137.42" stroke="#222" stroke-width="0.9"/>
<line x1="406.6" y1="134" x2="408.3" y2="134" stroke="#222" stroke-width="0.9"/>
<line x1="596.5" y1="134" x2="594.8" y2="134" stroke="#222" stroke-width="0.9"/>
<line x1="406.6" y1="130.58" x2="408.3" y2="130.58" stroke="#222" stroke-width="0.9"/>
<line x1="596.5" y1="130.58" x2="594.8" y2="130.58" stroke="#222" stroke-width="0.9"/>
<line x1="406.6" y1="127.16" x2="408.3" y2="127.16" stroke="#222" stroke-width="0.9"/>
<line x1="596.5" y1="127.16" x2="594.8" y2="127.16" stroke="#222" stroke-width="0.9"/>
<line x1="406.6" y1="123.74" x2="408.3" y2="123.74" stroke="#222" stroke-width="0.9"/>
<line x1="596.5" y1="123.74" x2="594.8" y2="123.74" stroke="#222" stroke-width="0.9"/>
<rect x="22.2" y="275.9" width="190.3" height="245.6" fill="none" stroke="#222" stroke-width="1"/>
<line x1="22.2" y1="398.7" x2="212.5" y2="398.7" stroke="#222" stroke-width="1"/>
<line x1="32.78" y1="275.9" x2="32.78" y2="277.2" stroke="#222" stroke-width="0.9"/>
<line x1="32.78" y1="398.7" x2="32.78" y2="397.4" stroke="#222" stroke-width="0.9"/>
<line x1="43.3" y1="275.9" x2="43.3" y2="278.3" stroke="#222" stroke-width="0.9"/>
<line x1="43.3" y1="398.7" x2="43.3" y2="396.3" stroke="#222" stroke-width="0.9"/>
<line x1="53.81" y1="275.9" x2="53.81" y2="277.2" stroke="#222" stroke-width="0.9"/>
<line x1="53.81" y1="398.7" x2="53.81" y2="397.4" stroke="#222" stroke-width="0.9"/>
<line x1="64.33" y1="275.9" x2="64.33" y2="277.2" stroke="#222" stroke-width="0.9"/>
<line x1="64.33" y1="398.7" x2="64.33" y2="397.4" stroke="#222" stroke-width="0.9"/>
<line x1="74.84" y1="275.9" x2="74.84" y2="277.2" stroke="#222" stroke-width="0.9"/>
<line x1="74.84" y1="398.7" x2="74.84" y2="397.4" stroke="#222" stroke-width="0.9"/>
<line x1="85.36" y1="275.9" x2="85.36" y2="278.3" stroke="#222" stroke-width="0.9"/>
<line x1="85.36" y1="398.7" x2="85.36" y2="396.3" stroke="#222" stroke-width="0.9"/>
<line x1="95.88" y1="275.9" x2="95.88" y2="277.2" stroke="#222" stroke-width="0.9"/>
<line x1="95.88" y1="398.7" x2="95.88" y2="397.4" stroke="#222" stroke-width="0.9"/>
<line x1="106.39" y1="275.9" x2="106.39" y2="277.2" stroke="#222" stroke-width="0.9"/>
<line x1="106.39" y1="398.7" x2="106.39" y2="397.4" stroke="#222" stroke-width="0.9"/>
<line x1="116.9" y1="275.9" x2="116.9" y2="277.2" stroke="#222" stroke-width="0.9"/>
<line x1="116.9" y1="398.7" x2="116.9" y2="397.4" stroke="#222" stroke-width="0.9"/>
<line x1="127.42" y1="275.9" x2="127.42" y2="278.3" stroke="#222" stroke-width="0.9"/>
<line x1="127.42" y1="398.7" x2="127.42" y2="396.3" stroke="#222" stroke-width="0.9"/>
<line x1="137.94" y1="275.9" x2="137.94" y2="277.2" stroke="#222" stroke-width="0.9"/>
<line x1="137.94" y1="398.7" x2="137.94" y2="397.4" stroke="#222" stroke-width="0.9"/>
<line x1="148.45" y1="275.9" x2="148.45" y2="277.2" stroke="#222" stroke-width="0.9"/>
<line x1="148.45" y1="398.7" x2="148.45" y2="397.4" stroke="#222" stroke-width="0.9"/>
<line x1="158.96" y1="275.9" x2="158.96" y2="277.2" stroke="#222" stroke-width="0.9"/>
<line x1="158.96" y1="398.7" x2="158.96" y2="397.4" stroke="#222" stroke-width="0.9"/>
<line x1="169.48" y1="275.9" x2="169.48" y2="278.3" stroke="#222" stroke-width="0.9"/>
<line x1="169.48" y1="398.7" x2="169.48" y2="396.3" stroke="#222" stroke-width="0.9"/>
<line x1="180" y1="275.9" x2="180" y2="277.2" stroke="#222" stroke-width="0.9"/>
<line x1="180" y1="398.7" x2="180" y2="397.4" stroke="#222" stroke-width="0.9"/>
<line x1="190.51" y1="275.9" x2="190.51" y2="277.2" stroke="#222" stroke-width="0.9"/>
<line x1="190.51" y1="398.7" x2="190.51" y2="397.4" stroke="#222" stroke-width="0.9"/>
<line x1="201.02" y1="275.9" x2="201.02" y2="277.2" stroke="#222" stroke-width="0.9"/>
<line x1="201.02" y1="398.7" x2="201.02" y2="397.4" stroke="#222" stroke-width="0.9"/>
<line x1="211.54" y1="275.9" x2="211.54" y2="278.3" stroke="#222" stroke-width="0.9"/>
<line x1="211.54" y1="398.7" x2="211.54" y2="396.3" stroke="#222" stroke-width="0.9"/>
<line x1="32.78" y1="398.7" x2="32.78" y2="400" stroke="#222" stroke-width="0.9"/>
<line x1="32.78" y1="521.5" x2="32.78" y2="520.2" stroke="#222" stroke-width="0.9"/>
<line x1="43.3" y1="398.7" x2="43.3" y2="401.1" stroke="#222" stroke-width="0.9"/>
<line x1="43.3" y1="521.5" x2="43.3" y2="519.1" stroke="#222" stroke-width="0.9"/>
<line x1="53.81" y1="398.7" x2="53.81" y2="400" stroke="#222" stroke-width="0.9"/>
<line x1="53.81" y1="521.5" x2="53.81" y2="520.2" stroke="#222" stroke-width="0.9"/>
<line x1="64.33" y1="398.7" x2="64.33" y2="400" stroke="#222" stroke-width="0.9"/>
<line x1="64.33" y1="521.5" x2="64.33" y2="520.2" stroke="#222" stroke-width="0.9"/>
<line x1="74.84" y1="398.7" x2="74.84" y2="400" stroke="#222" stroke-width="0.9"/>
<line x1="74.84" y1="521.5" x2="74.84" y2="520.2" stroke="#222" stroke-width="0.9"/>
<line x1="85.36" y1="398.7" x2="85.36" y2="401.1" stroke="#222" stroke-width="0.9"/>
<line x1="85.36" y1="521.5" x2="85.36" y2="519.1" stroke="#222" stroke-width="0.9"/>
<line x1="95.88" y1="398.7" x2="95.88" y2="400" stroke="#222" stroke-width="0.9"/>
<line x1="95.88" y1="521.5" x2="95.88" y2="520.2" stroke="#222" stroke-width="0.9"/>
<line x1="106.39" y1="398.7" x2="106.39" y2="400" stroke="#222" stroke-width="0.9"/>
<line x1="106.39" y1="521.5" x2="106.39" y2="520.2" stroke="#222" stroke-width="0.9"/>
<line x1="116.9" y1="398.7" x2="116.9" y2="400" stroke="#222" stroke-width="0.9"/>
<line x1="116.9" y1="521.5" x2="116.9" y2="520.2" stroke="#222" stroke-width="0.9"/>
<line x1="127.42" y1="398.7" x2="127.42" y2="401.1" stroke="#222" stroke-width="0.9"/>
<line x1="127.42" y1="521.5" x2="127.42" y2="519.1" stroke="#222" stroke-width="0.9"/>
<line x1="137.94" y1="398.7" x2="137.94" y2="400" stroke="#222" stroke-width="0.9"/>
<line x1="137.94" y1="521.5" x2="137.94" y2="520.2" stroke="#222" stroke-width="0.9"/>
<line x1="148.45" y1="398.7" x2="148.45" y2="400" stroke="#222" stroke-width="0.9"/>
<line x1="148.45" y1="521.5" x2="148.45" y2="520.2" stroke="#222" stroke-width="0.9"/>
<line x1="158.96" y1="398.7" x2="158.96" y2="400" stroke="#222" stroke-width="0.9"/>
<line x1="158.96" y1="521.5" x2="158.96" y2="520.2" stroke="#222" stroke-width="0.9"/>
<line x1="169.48" y1="398.7" x2="169.48" y2="401.1" stroke="#222" stroke-width="0.9"/>
<line x1="169.48" y1="521.5" x2="169.48" y2="519.1" stroke="#222" stroke-width="0.9"/>
<line x1="180" y1="398.7" x2="180" y2="400" stroke="#222" stroke-width="0.9"/>
<line x1="180" y1="521.5" x2="180" y2="520.2" stroke="#222" stroke-width="0.9"/>
<line x1="190.51" y1="398.7" x2="190.51" y2="400" stroke="#222" stroke-width="0.9"/>
<line x1="190.51" y1="521.5" x2="190.51" y2="520.2" stroke="#222" stroke-width="0.9"/>
<line x1="201.02" y1="398.7" x2="201.02" y2="400" stroke="#222" stroke-width="0.9"/>
<line x1="201.02" y1="521.5" x2="201.02" y2="520.2" stroke="#222" stroke-width="0.9"/>
<line x1="211.54" y1="398.7" x2="211.54" y2="401.1" stroke="#222" stroke-width="0.9"/>
<line x1="211.54" y1="521.5" x2="211.54" y2="519.1" stroke="#222" stroke-width="0.9"/>
<line x1="22.2" y1="396.22" x2="23.9" y2="396.22" stroke="#222" stroke-width="0.9"/>
<line x1="212.5" y1="396.22" x2="210.8" y2="396.22" stroke="#222" stroke-width="0.9"/>
<line x1="22.2" y1="393.76" x2="23.9" y2="393.76" stroke="#222" stroke-width="0.9"/>
<line x1="212.5" y1="393.76" x2="210.8" y2="393.76" stroke="#222" stroke-width="0.9"/>
<line x1="22.2" y1="391.31" x2="23.9" y2="391.31" stroke="#222" stroke-width="0.9"/>
<line x1="212.5" y1="391.31" x2="210.8" y2="391.31" stroke="#222" stroke-width="0.9"/>
<line x1="22.2" y1="388.86" x2="23.9" y2="388.86" stroke="#222" stroke-width="0.9"/>
<line x1="212.5" y1="388.86" x2="210.8" y2="388.86" stroke="#222" stroke-width="0.9"/>
<line x1="22.2" y1="386.4" x2="25.8" y2="386.4" stroke="#222" stroke-width="0.9"/>
<line x1="212.5" y1="386.4" x2="208.9" y2="386.4" stroke="#222" stroke-width="0.9"/>
<line x1="22.2" y1="383.94" x2="23.9" y2="383.94" stroke="#222" stroke-width="0.9"/>
<line x1="212.5" y1="383.94" x2="210.8" y2="383.94" stroke="#222" stroke-width="0.9"/>
<line x1="22.2" y1="381.49" x2="23.9" y2="381.49" stroke="#222" stroke-width="0.9"/>
<line x1="212.5" y1="381.49" x2="210.8" y2="381.49" stroke="#222" stroke-width="0.9"/>
<line x1="22.2" y1="379.04" x2="23.9" y2="379.04" stroke="#222" stroke-width="0.9"/>
<line x1="212.5" y1="379.04" x2="210.8" y2="379.04" stroke="#222" stroke-width="0.9"/>
<line x1="22.2" y1="376.58" x2="23.9" y2="376.58" stroke="#222" stroke-width="0.9"/>
<line x1="212.5" y1="376.58" x2="210.8" y2="376.58" stroke="#222" stroke-width="0.9"/>
<line x1="22.2" y1="374.12" x2="23.9" y2="374.12" stroke="#222" stroke-width="0.9"/>
<line x1="212.5" y1="374.12" x2="210.8" y2="374.12" stroke="#222" stroke-width="0.9"/>
<line x1="22.2" y1="371.67" x2="23.9" y2="371.67" stroke="#222" stroke-width="0.9"/>
<line x1="212.5" y1="371.67" x2="210.8" y2="371.67" stroke="#222" stroke-width="0.9"/>
<line x1="22.2" y1="369.22" x2="23.9" y2="369.22" stroke="#222" stroke-width="0.9"/>
<line x1="212.5" y1="369.22" x2="210.8" y2="369.22" stroke="#222" stroke-width="0.9"/>
<line x1="22.2" y1="366.76" x2="23.9" y2="366.76" stroke="#222" stroke-width="0.9"/>
<line x1="212.5" y1="366.76" x2="210.8" y2="366.76" stroke="#222" stroke-width="0.9"/>
<line x1="22.2" y1="364.31" x2="23.9" y2="364.31" stroke="#222" stroke-width="0.9"/>
<line x1="212.5" y1="364.31" x2="210.8" y2="364.31" stroke="#222" stroke-width="0.9"/>
<line x1="22.2" y1="361.85" x2="25.8" y2="361.85" stroke="#222" stroke-width="0.9"/>
<line x1="212.5" y1="361.85" x2="208.9" y2="361.85" stroke="#222" stroke-width="0.9"/>
<line x1="22.2" y1="359.4" x2="23.9" y2="359.4" stroke="#222" stroke-width="0.9"/>
<line x1="212.5" y1="359.4" x2="210.8" y2="359.4" stroke="#222" stroke-width="0.9"/>
<line x1="22.2" y1="356.94" x2="23.9" y2="356.94" stroke="#222" stroke-width="0.9"/>
<line x1="212.5" y1="356.94" x2="210.8" y2="356.94" stroke="#222" stroke-width="0.9"/>
<line x1="22.2" y1="354.49" x2="23.9" y2="354.49" stroke="#222" stroke-width="0.9"/>
<line x1="212.5" y1="354.49" x2="210.8" y2="354.49" stroke="#222" stroke-width="0.9"/>
<line x1="22.2" y1="352.03" x2="23.9" y2="352.03" stroke="#222" stroke-width="0.9"/>
<line x1="212.5" y1="352.03" x2="210.8" y2="352.03" stroke="#222" stroke-width="0.9"/>
<line x1="22.2" y1="349.57" x2="23.9" y2="349.57" stroke="#222" stroke-width="0.9"/>
<line x1="212.5" y1="349.57" x2="210.8" y2="349.57" stroke="#222" stroke-width="0.9"/>
<line x1="22.2" y1="347.12" x2="23.9" y2="347.12" stroke="#222" stroke-width="0.9"/>
<line x1="212.5" y1="347.12" x2="210.8" y2="347.12" stroke="#222" stroke-width="0.9"/>
<line x1="22.2" y1="344.67" x2="23.9" y2="344.67" stroke="#222" stroke-width="0.9"/>
<line x1="212.5" y1="344.67" x2="210.8" y2="344.67" stroke="#222" stroke-width="0.9"/>
<line x1="22.2" y1="342.21" x2="23.9" y2="342.21" stroke="#222" stroke-width="0.9"/>
<line x1="212.5" y1="342.21" x2="210.8" y2="342.21" stroke="#222" stroke-width="0.9"/>
<line x1="22.2" y1="339.75" x2="23.9" y2="339.75" stroke="#222" stroke-width="0.9"/>
<line x1="212.5" y1="339.75" x2="210.8" y2="339.75" stroke="#222" stroke-width="0.9"/>
<line x1="22.2" y1="337.3" x2="25.8" y2="337.3" stroke="#222" stroke-width="0.9"/>
<line x1="212.5" y1="337.3" x2="208.9" y2="337.3" stroke="#222" stroke-width="0.9"/>
<line x1="22.2" y1="334.85" x2="23.9" y2="334.85" stroke="#222" stroke-width="0.9"/>
<line x1="212.5" y1="334.85" x2="210.8" y2="334.85" stroke="#222" stroke-width="0.9"/>
<line x1="22.2" y1="332.39" x2="23.9" y2="332.39" stroke="#222" stroke-width="0.9"/>
<line x1="212.5" y1="332.39" x2="210.8" y2="332.39" stroke="#222" stroke-width="0.9"/>
<line x1="22.2" y1="329.94" x2="23.9" y2="329.94" stroke="#222" stroke-width="0.9"/>
<line x1="212.5" y1="329.94" x2="210.8" y2="329.94" stroke="#222" stroke-width="0.9"/>
<line x1="22.2" y1="327.48" x2="23.9" y2="327.48" stroke="#222" stroke-width="0.9"/>
<line x1="212.5" y1="327.48" x2="210.8" y2="327.48" stroke="#222" stroke-width="0.9"/>
<line x1="22.2" y1="325.03" x2="23.9" y2="325.03" stroke="#222" stroke-width="0.9"/>
<line x1="212.5" y1="325.03" x2="210.8" y2="325.03" stroke="#222" stroke-width="0.9"/>
<line x1="22.2" y1="322.57" x2="23.9" y2="322.57" stroke="#222" stroke-width="0.9"/>
<line x1="212.5" y1="322.57" x2="210.8" y2="322.57" stroke="#222" stroke-width="0.9"/>
<line x1="22.2" y1="320.12" x2="23.9" y2="320.12" stroke="#222" stroke-width="0.9"/>
<line x1="212.5" y1="320.12" x2="210.8" y2="320.12" stroke="#222" stroke-width="0.9"/>
<line x1="22.2" y1="317.66" x2="23.9" y2="317.66" stroke="#222" stroke-width="0.9"/>
<line x1="212.5" y1="317.66" x2="210.8" y2="317.66" stroke="#222" stroke-width="0.9"/>
<line x1="22.2" y1="315.2" x2="23.9" y2="315.2" stroke="#222" stroke-width="0.9"/>
<line x1="212.5" y1="315.2" x2="210.8" y2="315.2" stroke="#222" stroke-width="0.9"/>
<line x1="22.2" y1="312.75" x2="25.8" y2="312.75" stroke="#222" stroke-width="0.9"/>
<line x1="212.5" y1="312.75" x2="208.9" y2="312.75" stroke="#222" stroke-width="0.9"/>
<line x1="22.2" y1="310.3" x2="23.9" y2="310.3" stroke="#222" stroke-width="0.9"/>
<line x1="212.5" y1="310.3" x2="210.8" y2="310.3" stroke="#222" stroke-width="0.9"/>
<line x1="22.2" y1="307.84" x2="23.9" y2="307.84" stroke="#222" stroke-width="0.9"/>
<line x1="212.5" y1="307.84" x2="210.8" y2="307.84" stroke="#222" stroke-width="0.9"/>
<line x1="22.2" y1="305.38" x2="23.9" y2="305.38" stroke="#222" stroke-width="0.9"/>
<line x1="212.5" y1="305.38" x2="210.8" y2="305.38" stroke="#222" stroke-width="0.9"/>
<line x1="22.2" y1="302.93" x2="23.9" y2="302.93" stroke="#222" stroke-width="0.9"/>
<line x1="212.5" y1="302.93" x2="210.8" y2="302.93" stroke="#222" stroke-width="0.9"/>
<line x1="22.2" y1="300.48" x2="23.9" y2="300.48" stroke="#222" stroke-width="0.9"/>
<line x1="212.5" y1="300.48" x2="210.8" y2="300.48" stroke="#222" stroke-width="0.9"/>
<line x1="22.2" y1="298.02" x2="23.9" y2="298.02" stroke="#222" stroke-width="0.9"/>
<line x1="212.5" y1="298.02" x2="210.8" y2="298.02" stroke="#222" stroke-width="0.9"/>
<line x1="22.2" y1="295.56" x2="23.9" y2="295.56" stroke="#222" stroke-width="0.9"/>
<line x1="212.5" y1="295.56" x2="210.8" y2="295.56" stroke="#222" stroke-width="0.9"/>
<line x1="22.2" y1="293.11" x2="23.9" y2="293.11" stroke="#222" stroke-width="0.9"/>
<line x1="212.5" y1="293.11" x2="210.8" y2="293.11" stroke="#222" stroke-width="0.9"/>
<line x1="22.2" y1="290.66" x2="23.9" y2="290.66" stroke="#222" stroke-width="0.9"/>
<line x1="212.5" y1="290.66" x2="210.8" y2="290.66" stroke="#222" stroke-width="0.9"/>
<line x1="22.2" y1="288.2" x2="25.8" y2="288.2" stroke="#222" stroke-width="0.9"/>
<line x1="212.5" y1="288.2" x2="208.9" y2="288.2" stroke="#222" stroke-width="0.9"/>
<line x1="22.2" y1="285.75" x2="23.9" y2="285.75" stroke="#222" stroke-width="0.9"/>
<line x1="212.5" y1="285.75" x2="210.8" y2="285.75" stroke="#222" stroke-width="0.9"/>
<line x1="22.2" y1="283.29" x2="23.9" y2="283.29" stroke="#222" stroke-width="0.9"/>
<line x1="212.5" y1="283.29" x2="210.8" y2="283.29" stroke="#222" stroke-width="0.9"/>
<line x1="22.2" y1="280.84" x2="23.9" y2="280.84" stroke="#222" stroke-width="0.9"/>
<line x1="212.5" y1="280.84" x2="210.8" y2="280.84" stroke="#222" stroke-width="0.9"/>
<line x1="22.2" y1="278.38" x2="23.9" y2="278.38" stroke="#222" stroke-width="0.9"/>
<line x1="212.5" y1="278.38" x2="210.8" y2="278.38" stroke="#222" stroke-width="0.9"/>
<line x1="22.2" y1="518.27" x2="23.9" y2="518.27" stroke="#222" stroke-width="0.9"/>
<line x1="212.5" y1="518.27" x2="210.8" y2="518.27" stroke="#222" stroke-width="0.9"/>
<line x1="22.2" y1="514.86" x2="23.9" y2="514.86" stroke="#222" stroke-width="0.9"/>
<line x1="212.5" y1="514.86" x2="210.8" y2="514.86" stroke="#222" stroke-width="0.9"/>
<line x1="22.2" y1="511.45" x2="23.9" y2="511.45" stroke="#222" stroke-width="0.9"/>
<line x1="212.5" y1="511.45" x2="210.8" y2="511.45" stroke="#222" stroke-width="0.9"/>
<line x1="22.2" y1="508.04" x2="23.9" y2="508.04" stroke="#222" stroke-width="0.9"/>
<line x1="212.5" y1="508.04" x2="210.8" y2="508.04" stroke="#222" stroke-width="0.9"/>
<line x1="22.2" y1="504.63" x2="23.9" y2="504.63" stroke="#222" stroke-width="0.9"/>
<line x1="212.5" y1="504.63" x2="210.8" y2="504.63" stroke="#222" stroke-width="0.9"/>
<line x1="22.2" y1="501.22" x2="23.9" y2="501.22" stroke="#222" stroke-width="0.9"/>
<line x1="212.5" y1="501.22" x2="210.8" y2="501.22" stroke="#222" stroke-width="0.9"/>
<line x1="22.2" y1="497.81" x2="23.9" y2="497.81" stroke="#222" stroke-width="0.9"/>
<line x1="212.5" y1="497.81" x2="210.8" y2="497.81" stroke="#222" stroke-width="0.9"/>
<line x1="22.2" y1="494.4" x2="25.8" y2="494.4" stroke="#222" stroke-width="0.9"/>
<line x1="212.5" y1="494.4" x2="208.9" y2="494.4" stroke="#222" stroke-width="0.9"/>
<line x1="22.2" y1="490.99" x2="23.9" y2="490.99" stroke="#222" stroke-width="0.9"/>
<line x1="212.5" y1="490.99" x2="210.8" y2="490.99" stroke="#222" stroke-width="0.9"/>
<line x1="22.2" y1="487.58" x2="23.9" y2="487.58" stroke="#222" stroke-width="0.9"/>
<line x1="212.5" y1="487.58" x2="210.8" y2="487.58" stroke="#222" stroke-width="0.9"/>
<line x1="22.2" y1="484.17" x2="23.9" y2="484.17" stroke="#222" stroke-width="0.9"/>
<line x1="212.5" y1="484.17" x2="210.8" y2="484.17" stroke="#222" stroke-width="0.9"/>
<line x1="22.2" y1="480.76" x2="23.9" y2="480.76" stroke="#222" stroke-width="0.9"/>
<line x1="212.5" y1="480.76" x2="210.8" y2="480.76" stroke="#222" stroke-width="0.9"/>
<line x1="22.2" y1="477.35" x2="23.9" y2="477.35" stroke="#222" stroke-width="0.9"/>
<line x1="212.5" y1="477.35" x2="210.8" y2="477.35" stroke="#222" stroke-width="0.9"/>
<line x1="22.2" y1="473.94" x2="23.9" y2="473.94" stroke="#222" stroke-width="0.9"/>
<line x1="212.5" y1="473.94" x2="210.8" y2="473.94" stroke="#222" stroke-width="0.9"/>
<line x1="22.2" y1="470.53" x2="23.9" y2="470.53" stroke="#222" stroke-width="0.9"/>
<line x1="212.5" y1="470.53" x2="210.8" y2="470.53" stroke="#222" stroke-width="0.9"/>
<line x1="22.2" y1="467.12" x2="23.9" y2="467.12" stroke="#222" stroke-width="0.9"/>
<line x1="212.5" y1="467.12" x2="210.8" y2="467.12" stroke="#222" stroke-width="0.9"/>
<line x1="22.2" y1="463.71" x2="23.9" y2="463.71" stroke="#222" stroke-width="0.9"/>
<line x1="212.5" y1="463.71" x2="210.8" y2="463.71" stroke="#222" stroke-width="0.9"/>
<line x1="22.2" y1="460.3" x2="25.8" y2="460.3" stroke="#222" stroke-width="0.9"/>
<line x1="212.5" y1="460.3" x2="208.9" y2="460.3" stroke="#222" stroke-width="0.9"/>
<line x1="22.2" y1="456.89" x2="23.9" y2="456.89" stroke="#222" stroke-width="0.9"/>
<line x1="212.5" y1="456.89" x2="210.8" y2="456.89" stroke="#222" stroke-width="0.9"/>
<line x1="22.2" y1="453.48" x2="23.9" y2="453.48" stroke="#222" stroke-width="0.9"/>
<line x1="212.5" y1="453.48" x2="210.8" y2="453.48" stroke="#222" stroke-width="0.9"/>
<line x1="22.2" y1="450.07" x2="23.9" y2="450.07" stroke="#222" stroke-width="0.9"/>
<line x1="212.5" y1="450.07" x2="210.8" y2="450.07" stroke="#222" stroke-width="0.9"/>
<line x1="22.2" y1="446.66" x2="23.9" y2="446.66" stroke="#222" stroke-width="0.9"/>
<line x1="212.5" y1="446.66" x2="210.8" y2="446.66" stroke="#222" stroke-width="0.9"/>
<line x1="22.2" y1="443.25" x2="23.9" y2="443.25" stroke="#222" stroke-width="0.9"/>
<line x1="212.5" y1="443.25" x2="210.8" y2="443.25" stroke="#222" stroke-width="0.9"/>
<line x1="22.2" y1="439.84" x2="23.9" y2="439.84" stroke="#222" stroke-width="0.9"/>
<line x1="212.5" y1="439.84" x2="210.8" y2="439.84" stroke="#222" stroke-width="0.9"/>
<line x1="22.2" y1="436.43" x2="23.9" y2="436.43" stroke="#222" stroke-width="0.9"/>
<line x1="212.5" y1="436.43" x2="210.8" y2="436.43" stroke="#222" stroke-width="0.9"/>
<line x1="22.2" y1="433.02" x2="23.9" y2="433.02" stroke="#222" stroke-width="0.9"/>
<line x1="212.5" y1="433.02" x2="210.8" y2="433.02" stroke="#222" stroke-width="0.9"/>
<line x1="22.2" y1="429.61" x2="23.9" y2="429.61" stroke="#222" stroke-width="0.9"/>
<line x1="212.5" y1="429.61" x2="210.8" y2="429.61" stroke="#222" stroke-width="0.9"/>
<line x1="22.2" y1="426.2" x2="25.8" y2="426.2" stroke="#222" stroke-width="0.9"/>
<line x1="212.5" y1="426.2" x2="208.9" y2="426.2" stroke="#222" stroke-width="0.9"/>
<line x1="22.2" y1="422.79" x2="23.9" y2="422.79" stroke="#222" stroke-width="0.9"/>
<line x1="212.5" y1="422.79" x2="210.8" y2="422.79" stroke="#222" stroke-width="0.9"/>
<line x1="22.2" y1="419.38" x2="23.9" y2="419.38" stroke="#222" stroke-width="0.9"/>
<line x1="212.5" y1="419.38" x2="210.8" y2="419.38" stroke="#222" stroke-width="0.9"/>
<line x1="22.2" y1="415.97" x2="23.9" y2="415.97" stroke="#222" stroke-width="0.9"/>
<line x1="212.5" y1="415.97" x2="210.8" y2="415.97" stroke="#222" stroke-width="0.9"/>
<line x1="22.2" y1="412.56" x2="23.9" y2="412.56" stroke="#222" stroke-width="0.9"/>
<line x1="212.5" y1="412.56" x2="210.8" y2="412.56" stroke="#222" stroke-width="0.9"/>
<line x1="22.2" y1="409.15" x2="23.9" y2="409.15" stroke="#222" stroke-width="0.9"/>
<line x1="212.5" y1="409.15" x2="210.8" y2="409.15" stroke="#222" stroke-width="0.9"/>
<line x1="22.2" y1="405.74" x2="23.9" y2="405.74" stroke="#222" stroke-width="0.9"/>
<line x1="212.5" y1="405.74" x2="210.8" y2="405.74" stroke="#222" stroke-width="0.9"/>
<line x1="22.2" y1="402.33" x2="23.9" y2="402.33" stroke="#222" stroke-width="0.9"/>
<line x1="212.5" y1="402.33" x2="210.8" y2="402.33" stroke="#222" stroke-width="0.9"/>
<rect x="214.4" y="275.9" width="189.9" height="245.6" fill="none" stroke="#222" stroke-width="1"/>
<line x1="214.4" y1="398.7" x2="404.3" y2="398.7" stroke="#222" stroke-width="1"/>
<line x1="216.88" y1="275.9" x2="216.88" y2="277.2" stroke="#222" stroke-width="0.9"/>
<line x1="216.88" y1="398.7" x2="216.88" y2="397.4" stroke="#222" stroke-width="0.9"/>
<line x1="219.6" y1="275.9" x2="219.6" y2="278.3" stroke="#222" stroke-width="0.9"/>
<line x1="219.6" y1="398.7" x2="219.6" y2="396.3" stroke="#222" stroke-width="0.9"/>
<line x1="222.32" y1="275.9" x2="222.32" y2="277.2" stroke="#222" stroke-width="0.9"/>
<line x1="222.32" y1="398.7" x2="222.32" y2="397.4" stroke="#222" stroke-width="0.9"/>
<line x1="225.04" y1="275.9" x2="225.04" y2="277.2" stroke="#222" stroke-width="0.9"/>
<line x1="225.04" y1="398.7" x2="225.04" y2="397.4" stroke="#222" stroke-width="0.9"/>
<line x1="227.77" y1="275.9" x2="227.77" y2="277.2" stroke="#222" stroke-width="0.9"/>
<line x1="227.77" y1="398.7" x2="227.77" y2="397.4" stroke="#222" stroke-width="0.9"/>
<line x1="230.49" y1="275.9" x2="230.49" y2="277.2" stroke="#222" stroke-width="0.9"/>
<line x1="230.49" y1="398.7" x2="230.49" y2="397.4" stroke="#222" stroke-width="0.9"/>
<line x1="233.21" y1="275.9" x2="233.21" y2="277.2" stroke="#222" stroke-width="0.9"/>
<line x1="233.21" y1="398.7" x2="233.21" y2="397.4" stroke="#222" stroke-width="0.9"/>
<line x1="235.93" y1="275.9" x2="235.93" y2="277.2" stroke="#222" stroke-width="0.9"/>
<line x1="235.93" y1="398.7" x2="235.93" y2="397.4" stroke="#222" stroke-width="0.9"/>
<line x1="238.65" y1="275.9" x2="238.65" y2="277.2" stroke="#222" stroke-width="0.9"/>
<line x1="238.65" y1="398.7" x2="238.65" y2="397.4" stroke="#222" stroke-width="0.9"/>
<line x1="241.38" y1="275.9" x2="241.38" y2="277.2" stroke="#222" stroke-width="0.9"/>
<line x1="241.38" y1="398.7" x2="241.38" y2="397.4" stroke="#222" stroke-width="0.9"/>
<line x1="244.1" y1="275.9" x2="244.1" y2="277.2" stroke="#222" stroke-width="0.9"/>
<line x1="244.1" y1="398.7" x2="244.1" y2="397.4" stroke="#222" stroke-width="0.9"/>
<line x1="246.82" y1="275.9" x2="246.82" y2="278.3" stroke="#222" stroke-width="0.9"/>
<line x1="246.82" y1="398.7" x2="246.82" y2="396.3" stroke="#222" stroke-width="0.9"/>
<line x1="249.54" y1="275.9" x2="249.54" y2="277.2" stroke="#222" stroke-width="0.9"/>
<line x1="249.54" y1="398.7" x2="249.54" y2="397.4" stroke="#222" stroke-width="0.9"/>
<line x1="252.26" y1="275.9" x2="252.26" y2="277.2" stroke="#222" stroke-width="0.9"/>
<line x1="252.26" y1="398.7" x2="252.26" y2="397.4" stroke="#222" stroke-width="0.9"/>
<line x1="254.99" y1="275.9" x2="254.99" y2="277.2" stroke="#222" stroke-width="0.9"/>
<line x1="254.99" y1="398.7" x2="254.99" y2="397.4" stroke="#222" stroke-width="0.9"/>
<line x1="257.71" y1="275.9" x2="257.71" y2="277.2" stroke="#222" stroke-width="0.9"/>
<line x1="257.71" y1="398.7" x2="257.71" y2="397.4" stroke="#222" stroke-width="0.9"/>
<line x1="260.43" y1="275.9" x2="260.43" y2="277.2" stroke="#222" stroke-width="0.9"/>
<line x1="260.43" y1="398.7" x2="260.43" y2="397.4" stroke="#222" stroke-width="0.9"/>
<line x1="263.15" y1="275.9" x2="263.15" y2="277.2" stroke="#222" stroke-width="0.9"/>
<line x1="263.15" y1="398.7" x2="263.15" y2="397.4" stroke="#222" stroke-width="0.9"/>
<line x1="265.87" y1="275.9" x2="265.87" y2="277.2" stroke="#222" stroke-width="0.9"/>
<line x1="265.87" y1="398.7" x2="265.87" y2="397.4" stroke="#222" stroke-width="0.9"/>
<line x1="268.6" y1="275.9" x2="268.6" y2="277.2" stroke="#222" stroke-width="0.9"/>
<line x1="268.6" y1="398.7" x2="268.6" y2="397.4" stroke="#222" stroke-width="0.9"/>
<line x1="271.32" y1="275.9" x2="271.32" y2="277.2" stroke="#222" stroke-width="0.9"/>
<line x1="271.32" y1="398.7" x2="271.32" y2="397.4" stroke="#222" stroke-width="0.9"/>
<line x1="274.04" y1="275.9" x2="274.04" y2="278.3" stroke="#222" stroke-width="0.9"/>
<line x1="274.04" y1="398.7" x2="274.04" y2="396.3" stroke="#222" stroke-width="0.9"/>
<line x1="276.76" y1="275.9" x2="276.76" y2="277.2" stroke="#222" stroke-width="0.9"/>
<line x1="276.76" y1="398.7" x2="276.76" y2="397.4" stroke="#222" stroke-width="0.9"/>
<line x1="279.48" y1="275.9" x2="279.48" y2="277.2" stroke="#222" stroke-width="0.9"/>
<line x1="279.48" y1="398.7" x2="279.48" y2="397.4" stroke="#222" stroke-width="0.9"/>
<line x1="282.21" y1="275.9" x2="282.21" y2="277.2" stroke="#222" stroke-width="0.9"/>
<line x1="282.21" y1="398.7" x2="282.21" y2="397.4" stroke="#222" stroke-width="0.9"/>
<line x1="284.93" y1="275.9" x2="284.93" y2="277.2" stroke="#222" stroke-width="0.9"/>
<line x1="284.93" y1="398.7" x2="284.93" y2="397.4" stroke="#222" stroke-width="0.9"/>
<line x1="287.65" y1="275.9" x2="287.65" y2="277.2" stroke="#222" stroke-width="0.9"/>
<line x1="287.65" y1="398.7" x2="287.65" y2="397.4" stroke="#222" stroke-width="0.9"/>
<line x1="290.37" y1="275.9" x2="290.37" y2="277.2" stroke="#222" stroke-width="0.9"/>
<line x1="290.37" y1="398.7" x2="290.37" y2="397.4" stroke="#222" stroke-width="0.9"/>
<line x1="293.09" y1="275.9" x2="293.09" y2="277.2" stroke="#222" stroke-width="0.9"/>
<line x1="293.09" y1="398.7" x2="293.09" y2="397.4" stroke="#222" stroke-width="0.9"/>
<line x1="295.82" y1="275.9" x2="295.82" y2="277.2" stroke="#222" stroke-width="0.9"/>
<line x1="295.82" y1="398.7" x2="295.82" y2="397.4" stroke="#222" stroke-width="0.9"/>
<line x1="298.54" y1="275.9" x2="298.54" y2="277.2" stroke="#222" stroke-width="0.9"/>
<line x1="298.54" y1="398.7" x2="298.54" y2="397.4" stroke="#222" stroke-width="0.9"/>
<line x1="301.26" y1="275.9" x2="301.26" y2="278.3" stroke="#222" stroke-width="0.9"/>
<line x1="301.26" y1="398.7" x2="301.26" y2="396.3" stroke="#222" stroke-width="0.9"/>
<line x1="303.98" y1="275.9" x2="303.98" y2="277.2" stroke="#222" stroke-width="0.9"/>
<line x1="303.98" y1="398.7" x2="303.98" y2="397.4" stroke="#222" stroke-width="0.9"/>
<line x1="306.7" y1="275.9" x2="306.7" y2="277.2" stroke="#222" stroke-width="0.9"/>
<line x1="306.7" y1="398.7" x2="306.7" y2="397.4" stroke="#222" stroke-width="0.9"/>
<line x1="309.43" y1="275.9" x2="309.43" y2="277.2" stroke="#222" stroke-width="0.9"/>
<line x1="309.43" y1="398.7" x2="309.43" y2="397.4" stroke="#222" stroke-width="0.9"/>
<line x1="312.15" y1="275.9" x2="312.15" y2="277.2" stroke="#222" stroke-width="0.9"/>
<line x1="312.15" y1="398.7" x2="312.15" y2="397.4" stroke="#222" stroke-width="0.9"/>
<line x1="314.87" y1="275.9" x2="314.87" y2="277.2" stroke="#222" stroke-width="0.9"/>
<line x1="314.87" y1="398.7" x2="314.87" y2="397.4" stroke="#222" stroke-width="0.9"/>
<line x1="317.59" y1="275.9" x2="317.59" y2="277.2" stroke="#222" stroke-width="0.9"/>
<line x1="317.59" y1="398.7" x2="317.59" y2="397.4" stroke="#222" stroke-width="0.9"/>
<line x1="320.31" y1="275.9" x2="320.31" y2="277.2" stroke="#222" stroke-width="0.9"/>
<line x1="320.31" y1="398.7" x2="320.31" y2="397.4" stroke="#222" stroke-width="0.9"/>
<line x1="323.04" y1="275.9" x2="323.04" y2="277.2" stroke="#222" stroke-width="0.9"/>
<line x1="323.04" y1="398.7" x2="323.04" y2="397.4" stroke="#222" stroke-width="0.9"/>
<line x1="325.76" y1="275.9" x2="325.76" y2="277.2" stroke="#222" stroke-width="0.9"/>
<line x1="325.76" y1="398.7" x2="325.76" y2="397.4" stroke="#222" stroke-width="0.9"/>
<line x1="328.48" y1="275.9" x2="328.48" y2="278.3" stroke="#222" stroke-width="0.9"/>
<line x1="328.48" y1="398.7" x2="328.48" y2="396.3" stroke="#222" stroke-width="0.9"/>
<line x1="331.2" y1="275.9" x2="331.2" y2="277.2" stroke="#222" stroke-width="0.9"/>
<line x1="331.2" y1="398.7" x2="331.2" y2="397.4" stroke="#222" stroke-width="0.9"/>
<line x1="333.92" y1="275.9" x2="333.92" y2="277.2" stroke="#222" stroke-width="0.9"/>
<line x1="333.92" y1="398.7" x2="333.92" y2="397.4" stroke="#222" stroke-width="0.9"/>
<line x1="336.65" y1="275.9" x2="336.65" y2="277.2" stroke="#222" stroke-width="0.9"/>
<line x1="336.65" y1="398.7" x2="336.65" y2="397.4" stroke="#222" stroke-width="0.9"/>
<line x1="339.37" y1="275.9" x2="339.37" y2="277.2" stroke="#222" stroke-width="0.9"/>
<line x1="339.37" y1="398.7" x2="339.37" y2="397.4" stroke="#222" stroke-width="0.9"/>
<line x1="342.09" y1="275.9" x2="342.09" y2="277.2" stroke="#222" stroke-width="0.9"/>
<line x1="342.09" y1="398.7" x2="342.09" y2="397.4" stroke="#222" stroke-width="0.9"/>
<line x1="344.81" y1="275.9" x2="344.81" y2="277.2" stroke="#222" stroke-width="0.9"/>
<line x1="344.81" y1="398.7" x2="344.81" y2="397.4" stroke="#222" stroke-width="0.9"/>
<line x1="347.53" y1="275.9" x2="347.53" y2="277.2" stroke="#222" stroke-width="0.9"/>
<line x1="347.53" y1="398.7" x2="347.53" y2="397.4" stroke="#222" stroke-width="0.9"/>
<line x1="350.26" y1="275.9" x2="350.26" y2="277.2" stroke="#222" stroke-width="0.9"/>
<line x1="350.26" y1="398.7" x2="350.26" y2="397.4" stroke="#222" stroke-width="0.9"/>
<line x1="352.98" y1="275.9" x2="352.98" y2="277.2" stroke="#222" stroke-width="0.9"/>
<line x1="352.98" y1="398.7" x2="352.98" y2="397.4" stroke="#222" stroke-width="0.9"/>
<line x1="355.7" y1="275.9" x2="355.7" y2="278.3" stroke="#222" stroke-width="0.9"/>
<line x1="355.7" y1="398.7" x2="355.7" y2="396.3" stroke="#222" stroke-width="0.9"/>
<line x1="358.42" y1="275.9" x2="358.42" y2="277.2" stroke="#222" stroke-width="0.9"/>
<line x1="358.42" y1="398.7" x2="358.42" y2="397.4" stroke="#222" stroke-width="0.9"/>
<line x1="361.14" y1="275.9" x2="361.14" y2="277.2" stroke="#222" stroke-width="0.9"/>
<line x1="361.14" y1="398.7" x2="361.14" y2="397.4" stroke="#222" stroke-width="0.9"/>
<line x1="363.87" y1="275.9" x2="363.87" y2="277.2" stroke="#222" stroke-width="0.9"/>
<line x1="363.87" y1="398.7" x2="363.87" y2="397.4" stroke="#222" stroke-width="0.9"/>
<line x1="366.59" y1="275.9" x2="366.59" y2="277.2" stroke="#222" stroke-width="0.9"/>
<line x1="366.59" y1="398.7" x2="366.59" y2="397.4" stroke="#222" stroke-width="0.9"/>
<line x1="369.31" y1="275.9" x2="369.31" y2="277.2" stroke="#222" stroke-width="0.9"/>
<line x1="369.31" y1="398.7" x2="369.31" y2="397.4" stroke="#222" stroke-width="0.9"/>
<line x1="372.03" y1="275.9" x2="372.03" y2="277.2" stroke="#222" stroke-width="0.9"/>
<line x1="372.03" y1="398.7" x2="372.03" y2="397.4" stroke="#222" stroke-width="0.9"/>
<line x1="374.75" y1="275.9" x2="374.75" y2="277.2" stroke="#222" stroke-width="0.9"/>
<line x1="374.75" y1="398.7" x2="374.75" y2="397.4" stroke="#222" stroke-width="0.9"/>
<line x1="377.48" y1="275.9" x2="377.48" y2="277.2" stroke="#222" stroke-width="0.9"/>
<line x1="377.48" y1="398.7" x2="377.48" y2="397.4" stroke="#222" stroke-width="0.9"/>
<line x1="380.2" y1="275.9" x2="380.2" y2="277.2" stroke="#222" stroke-width="0.9"/>
<line x1="380.2" y1="398.7" x2="380.2" y2="397.4" stroke="#222" stroke-width="0.9"/>
<line x1="382.92" y1="275.9" x2="382.92" y2="278.3" stroke="#222" stroke-width="0.9"/>
<line x1="382.92" y1="398.7" x2="382.92" y2="396.3" stroke="#222" stroke-width="0.9"/>
<line x1="385.64" y1="275.9" x2="385.64" y2="277.2" stroke="#222" stroke-width="0.9"/>
<line x1="385.64" y1="398.7" x2="385.64" y2="397.4" stroke="#222" stroke-width="0.9"/>
<line x1="388.36" y1="275.9" x2="388.36" y2="277.2" stroke="#222" stroke-width="0.9"/>
<line x1="388.36" y1="398.7" x2="388.36" y2="397.4" stroke="#222" stroke-width="0.9"/>
<line x1="391.09" y1="275.9" x2="391.09" y2="277.2" stroke="#222" stroke-width="0.9"/>
<line x1="391.09" y1="398.7" x2="391.09" y2="397.4" stroke="#222" stroke-width="0.9"/>
<line x1="393.81" y1="275.9" x2="393.81" y2="277.2" stroke="#222" stroke-width="0.9"/>
<line x1="393.81" y1="398.7" x2="393.81" y2="397.4" stroke="#222" stroke-width="0.9"/>
<line x1="396.53" y1="275.9" x2="396.53" y2="277.2" stroke="#222" stroke-width="0.9"/>
<line x1="396.53" y1="398.7" x2="396.53" y2="397.4" stroke="#222" stroke-width="0.9"/>
<line x1="399.25" y1="275.9" x2="399.25" y2="277.2" stroke="#222" stroke-width="0.9"/>
<line x1="399.25" y1="398.7" x2="399.25" y2="397.4" stroke="#222" stroke-width="0.9"/>
<line x1="401.97" y1="275.9" x2="401.97" y2="277.2" stroke="#222" stroke-width="0.9"/>
<line x1="401.97" y1="398.7" x2="401.97" y2="397.4" stroke="#222" stroke-width="0.9"/>
<line x1="216.88" y1="398.7" x2="216.88" y2="400" stroke="#222" stroke-width="0.9"/>
<line x1="216.88" y1="521.5" x2="216.88" y2="520.2" stroke="#222" stroke-width="0.9"/>
<line x1="219.6" y1="398.7" x2="219.6" y2="401.1" stroke="#222" stroke-width="0.9"/>
<line x1="219.6" y1="521.5" x2="219.6" y2="519.1" stroke="#222" stroke-width="0.9"/>
<line x1="222.32" y1="398.7" x2="222.32" y2="400" stroke="#222" stroke-width="0.9"/>
<line x1="222.32" y1="521.5" x2="222.32" y2="520.2" stroke="#222" stroke-width="0.9"/>
<line x1="225.04" y1="398.7" x2="225.04" y2="400" stroke="#222" stroke-width="0.9"/>
<line x1="225.04" y1="521.5" x2="225.04" y2="520.2" stroke="#222" stroke-width="0.9"/>
<line x1="227.77" y1="398.7" x2="227.77" y2="400" stroke="#222" stroke-width="0.9"/>
<line x1="227.77" y1="521.5" x2="227.77" y2="520.2" stroke="#222" stroke-width="0.9"/>
<line x1="230.49" y1="398.7" x2="230.49" y2="400" stroke="#222" stroke-width="0.9"/>
<line x1="230.49" y1="521.5" x2="230.49" y2="520.2" stroke="#222" stroke-width="0.9"/>
<line x1="233.21" y1="398.7" x2="233.21" y2="400" stroke="#222" stroke-width="0.9"/>
<line x1="233.21" y1="521.5" x2="233.21" y2="520.2" stroke="#222" stroke-width="0.9"/>
<line x1="235.93" y1="398.7" x2="235.93" y2="400" stroke="#222" stroke-width="0.9"/>
<line x1="235.93" y1="521.5" x2="235.93" y2="520.2" stroke="#222" stroke-width="0.9"/>
<line x1="238.65" y1="398.7" x2="238.65" y2="400" stroke="#222" stroke-width="0.9"/>
<line x1="238.65" y1="521.5" x2="238.65" y2="520.2" stroke="#222" stroke-width="0.9"/>
<line x1="241.38" y1="398.7" x2="241.38" y2="400" stroke="#222" stroke-width="0.9"/>
<line x1="241.38" y1="521.5" x2="241.38" y2="520.2" stroke="#222" stroke-width="0.9"/>
<line x1="244.1" y1="398.7" x2="244.1" y2="400" stroke="#222" stroke-width="0.9"/>
<line x1="244.1" y1="521.5" x2="244.1" y2="520.2" stroke="#222" stroke-width="0.9"/>
<line x1="246.82" y1="398.7" x2="246.82" y2="401.1" stroke="#222" stroke-width="0.9"/>
<line x1="246.82" y1="521.5" x2="246.82" y2="519.1" stroke="#222" stroke-width="0.9"/>
<line x1="249.54" y1="398.7" x2="249.54" y2="400" stroke="#222" stroke-width="0.9"/>
<line x1="249.54" y1="521.5" x2="249.54" y2="520.2" stroke="#222" stroke-width="0.9"/>
<line x1="252.26" y1="398.7" x2="252.26" y2="400" stroke="#222" stroke-width="0.9"/>
<line x1="252.26" y1="521.5" x2="252.26" y2="520.2" stroke="#222" stroke-width="0.9"/>
<line x1="254.99" y1="398.7" x2="254.99" y2="400" stroke="#222" stroke-width="0.9"/>
<line x1="254.99" y1="521.5" x2="254.99" y2="520.2" stroke="#222" stroke-width="0.9"/>
<line x1="257.71" y1="398.7" x2="257.71" y2="400" stroke="#222" stroke-width="0.9"/>
<line x1="257.71" y1="521.5" x2="257.71" y2="520.2" stroke="#222" stroke-width="0.9"/>
<line x1="260.43" y1="398.7" x2="260.43" y2="400" stroke="#222" stroke-width="0.9"/>
<line x1="260.43" y1="521.5" x2="260.43" y2="520.2" stroke="#222" stroke-width="0.9"/>
<line x1="263.15" y1="398.7" x2="263.15" y2="400" stroke="#222" stroke-width="0.9"/>
<line x1="263.15" y1="521.5" x2="263.15" y2="520.2" stroke="#222" stroke-width="0.9"/>
<line x1="265.87" y1="398.7" x2="265.87" y2="400" stroke="#222" stroke-width="0.9"/>
<line x1="265.87" y1="521.5" x2="265.87" y2="520.2" stroke="#222" stroke-width="0.9"/>
<line x1="268.6" y1="398.7" x2="268.6" y2="400" stroke="#222" stroke-width="0.9"/>
<line x1="268.6" y1="521.5" x2="268.6" y2="520.2" stroke="#222" stroke-width="0.9"/>
<line x1="271.32" y1="398.7" x2="271.32" y2="400" stroke="#222" stroke-width="0.9"/>
<line x1="271.32" y1="521.5" x2="271.32" y2="520.2" stroke="#222" stroke-width="0.9"/>
<line x1="274.04" y1="398.7" x2="274.04" y2="401.1" stroke="#222" stroke-width="0.9"/>
<line x1="274.04" y1="521.5" x2="274.04" y2="519.1" stroke="#222" stroke-width="0.9"/>
<line x1="276.76" y1="398.7" x2="276.76" y2="400" stroke="#222" stroke-width="0.9"/>
<line x1="276.76" y1="521.5" x2="276.76" y2="520.2" stroke="#222" stroke-width="0.9"/>
<line x1="279.48" y1="398.7" x2="279.48" y2="400" stroke="#222" stroke-width="0.9"/>
<line x1="279.48" y1="521.5" x2="279.48" y2="520.2" stroke="#222" stroke-width="0.9"/>
<line x1="282.21" y1="398.7" x2="282.21" y2="400" stroke="#222" stroke-width="0.9"/>
<line x1="282.21" y1="521.5" x2="282.21" y2="520.2" stroke="#222" stroke-width="0.9"/>
<line x1="284.93" y1="398.7" x2="284.93" y2="400" stroke="#222" stroke-width="0.9"/>
<line x1="284.93" y1="521.5" x2="284.93" y2="520.2" stroke="#222" stroke-width="0.9"/>
<line x1="287.65" y1="398.7" x2="287.65" y2="400" stroke="#222" stroke-width="0.9"/>
<line x1="287.65" y1="521.5" x2="287.65" y2="520.2" stroke="#222" stroke-width="0.9"/>
<line x1="290.37" y1="398.7" x2="290.37" y2="400" stroke="#222" stroke-width="0.9"/>
<line x1="290.37" y1="521.5" x2="290.37" y2="520.2" stroke="#222" stroke-width="0.9"/>
<line x1="293.09" y1="398.7" x2="293.09" y2="400" stroke="#222" stroke-width="0.9"/>
<line x1="293.09" y1="521.5" x2="293.09" y2="520.2" stroke="#222" stroke-width="0.9"/>
<line x1="295.82" y1="398.7" x2="295.82" y2="400" stroke="#222" stroke-width="0.9"/>
<line x1="295.82" y1="521.5" x2="295.82" y2="520.2" stroke="#222" stroke-width="0.9"/>
<line x1="298.54" y1="398.7" x2="298.54" y2="400" stroke="#222" stroke-width="0.9"/>
<line x1="298.54" y1="521.5" x2="298.54" y2="520.2" stroke="#222" stroke-width="0.9"/>
<line x1="301.26" y1="398.7" x2="301.26" y2="401.1" stroke="#222" stroke-width="0.9"/>
<line x1="301.26" y1="521.5" x2="301.26" y2="519.1" stroke="#222" stroke-width="0.9"/>
<line x1="303.98" y1="398.7" x2="303.98" y2="400" stroke="#222" stroke-width="0.9"/>
<line x1="303.98" y1="521.5" x2="303.98" y2="520.2" stroke="#222" stroke-width="0.9"/>
<line x1="306.7" y1="398.7" x2="306.7" y2="400" stroke="#222" stroke-width="0.9"/>
<line x1="306.7" y1="521.5" x2="306.7" y2="520.2" stroke="#222" stroke-width="0.9"/>
<line x1="309.43" y1="398.7" x2="309.43" y2="400" stroke="#222" stroke-width="0.9"/>
<line x1="309.43" y1="521.5" x2="309.43" y2="520.2" stroke="#222" stroke-width="0.9"/>
<line x1="312.15" y1="398.7" x2="312.15" y2="400" stroke="#222" stroke-width="0.9"/>
<line x1="312.15" y1="521.5" x2="312.15" y2="520.2" stroke="#222" stroke-width="0.9"/>
<line x1="314.87" y1="398.7" x2="314.87" y2="400" stroke="#222" stroke-width="0.9"/>
<line x1="314.87" y1="521.5" x2="314.87" y2="520.2" stroke="#222" stroke-width="0.9"/>
<line x1="317.59" y1="398.7" x2="317.59" y2="400" stroke="#222" stroke-width="0.9"/>
<line x1="317.59" y1="521.5" x2="317.59" y2="520.2" stroke="#222" stroke-width="0.9"/>
<line x1="320.31" y1="398.7" x2="320.31" y2="400" stroke="#222" stroke-width="0.9"/>
<line x1="320.31" y1="521.5" x2="320.31" y2="520.2" stroke="#222" stroke-width="0.9"/>
<line x1="323.04" y1="398.7" x2="323.04" y2="400" stroke="#222" stroke-width="0.9"/>
<line x1="323.04" y1="521.5" x2="323.04" y2="520.2" stroke="#222" stroke-width="0.9"/>
<line x1="325.76" y1="398.7" x2="325.76" y2="400" stroke="#222" stroke-width="0.9"/>
<line x1="325.76" y1="521.5" x2="325.76" y2="520.2" stroke="#222" stroke-width="0.9"/>
<line x1="328.48" y1="398.7" x2="328.48" y2="401.1" stroke="#222" stroke-width="0.9"/>
<line x1="328.48" y1="521.5" x2="328.48" y2="519.1" stroke="#222" stroke-width="0.9"/>
<line x1="331.2" y1="398.7" x2="331.2" y2="400" stroke="#222" stroke-width="0.9"/>
<line x1="331.2" y1="521.5" x2="331.2" y2="520.2" stroke="#222" stroke-width="0.9"/>
<line x1="333.92" y1="398.7" x2="333.92" y2="400" stroke="#222" stroke-width="0.9"/>
<line x1="333.92" y1="521.5" x2="333.92" y2="520.2" stroke="#222" stroke-width="0.9"/>
<line x1="336.65" y1="398.7" x2="336.65" y2="400" stroke="#222" stroke-width="0.9"/>
<line x1="336.65" y1="521.5" x2="336.65" y2="520.2" stroke="#222" stroke-width="0.9"/>
<line x1="339.37" y1="398.7" x2="339.37" y2="400" stroke="#222" stroke-width="0.9"/>
<line x1="339.37" y1="521.5" x2="339.37" y2="520.2" stroke="#222" stroke-width="0.9"/>
<line x1="342.09" y1="398.7" x2="342.09" y2="400" stroke="#222" stroke-width="0.9"/>
<line x1="342.09" y1="521.5" x2="342.09" y2="520.2" stroke="#222" stroke-width="0.9"/>
<line x1="344.81" y1="398.7" x2="344.81" y2="400" stroke="#222" stroke-width="0.9"/>
<line x1="344.81" y1="521.5" x2="344.81" y2="520.2" stroke="#222" stroke-width="0.9"/>
<line x1="347.53" y1="398.7" x2="347.53" y2="400" stroke="#222" stroke-width="0.9"/>
<line x1="347.53" y1="521.5" x2="347.53" y2="520.2" stroke="#222" stroke-width="0.9"/>
<line x1="350.26" y1="398.7" x2="350.26" y2="400" stroke="#222" stroke-width="0.9"/>
<line x1="350.26" y1="521.5" x2="350.26" y2="520.2" stroke="#222" stroke-width="0.9"/>
<line x1="352.98" y1="398.7" x2="352.98" y2="400" stroke="#222" stroke-width="0.9"/>
<line x1="352.98" y1="521.5" x2="352.98" y2="520.2" stroke="#222" stroke-width="0.9"/>
<line x1="355.7" y1="398.7" x2="355.7" y2="401.1" stroke="#222" stroke-width="0.9"/>
<line x1="355.7" y1="521.5" x2="355.7" y2="519.1" stroke="#222" stroke-width="0.9"/>
<line x1="358.42" y1="398.7" x2="358.42" y2="400" stroke="#222" stroke-width="0.9"/>
<line x1="358.42" y1="521.5" x2="358.42" y2="520.2" stroke="#222" stroke-width="0.9"/>
<line x1="361.14" y1="398.7" x2="361.14" y2="400" stroke="#222" stroke-width="0.9"/>
<line x1="361.14" y1="521.5" x2="361.14" y2="520.2" stroke="#222" stroke-width="0.9"/>
<line x1="363.87" y1="398.7" x2="363.87" y2="400" stroke="#222" stroke-width="0.9"/>
<line x1="363.87" y1="521.5" x2="363.87" y2="520.2" stroke="#222" stroke-width="0.9"/>
<line x1="366.59" y1="398.7" x2="366.59" y2="400" stroke="#222" stroke-width="0.9"/>
<line x1="366.59" y1="521.5" x2="366.59" y2="520.2" stroke="#222" stroke-width="0.9"/>
<line x1="369.31" y1="398.7" x2="369.31" y2="400" stroke="#222" stroke-width="0.9"/>
<line x1="369.31" y1="521.5" x2="369.31" y2="520.2" stroke="#222" stroke-width="0.9"/>
<line x1="372.03" y1="398.7" x2="372.03" y2="400" stroke="#222" stroke-width="0.9"/>
<line x1="372.03" y1="521.5" x2="372.03" y2="520.2" stroke="#222" stroke-width="0.9"/>
<line x1="374.75" y1="398.7" x2="374.75" y2="400" stroke="#222" stroke-width="0.9"/>
<line x1="374.75" y1="521.5" x2="374.75" y2="520.2" stroke="#222" stroke-width="0.9"/>
<line x1="377.48" y1="398.7" x2="377.48" y2="400" stroke="#222" stroke-width="0.9"/>
<line x1="377.48" y1="521.5" x2="377.48" y2="520.2" stroke="#222" stroke-width="0.9"/>
<line x1="380.2" y1="398.7" x2="380.2" y2="400" stroke="#222" stroke-width="0.9"/>
<line x1="380.2" y1="521.5" x2="380.2" y2="520.2" stroke="#222" stroke-width="0.9"/>
<line x1="382.92" y1="398.7" x2="382.92" y2="401.1" stroke="#222" stroke-width="0.9"/>
<line x1="382.92" y1="521.5" x2="382.92" y2="519.1" stroke="#222" stroke-width="0.9"/>
<line x1="385.64" y1="398.7" x2="385.64" y2="400" stroke="#222" stroke-width="0.9"/>
<line x1="385.64" y1="521.5" x2="385.64" y2="520.2" stroke="#222" stroke-width="0.9"/>
<line x1="388.36" y1="398.7" x2="388.36" y2="400" stroke="#222" stroke-width="0.9"/>
<line x1="388.36" y1="521.5" x2="388.36" y2="520.2" stroke="#222" stroke-width="0.9"/>
<line x1="391.09" y1="398.7" x2="391.09" y2="400" stroke="#222" stroke-width="0.9"/>
<line x1="391.09" y1="521.5" x2="391.09" y2="520.2" stroke="#222" stroke-width="0.9"/>
<line x1="393.81" y1="398.7" x2="393.81" y2="400" stroke="#222" stroke-width="0.9"/>
<line x1="393.81" y1="521.5" x2="393.81" y2="520.2" stroke="#222" stroke-width="0.9"/>
<line x1="396.53" y1="398.7" x2="396.53" y2="400" stroke="#222" stroke-width="0.9"/>
<line x1="396.53" y1="521.5" x2="396.53" y2="520.2" stroke="#222" stroke-width="0.9"/>
<line x1="399.25" y1="398.7" x2="399.25" y2="400" stroke="#222" stroke-width="0.9"/>
<line x1="399.25" y1="521.5" x2="399.25" y2="520.2" stroke="#222" stroke-width="0.9"/>
<line x1="401.97" y1="398.7" x2="401.97" y2="400" stroke="#222" stroke-width="0.9"/>
<line x1="401.97" y1="521.5" x2="401.97" y2="520.2" stroke="#222" stroke-width="0.9"/>
<line x1="214.4" y1="396.22" x2="216.1" y2="396.22" stroke="#222" stroke-width="0.9"/>
<line x1="404.3" y1="396.22" x2="402.6" y2="396.22" stroke="#222" stroke-width="0.9"/>
<line x1="214.4" y1="393.76" x2="216.1" y2="393.76" stroke="#222" stroke-width="0.9"/>
<line x1="404.3" y1="393.76" x2="402.6" y2="393.76" stroke="#222" stroke-width="0.9"/>
<line x1="214.4" y1="391.31" x2="216.1" y2="391.31" stroke="#222" stroke-width="0.9"/>
<line x1="404.3" y1="391.31" x2="402.6" y2="391.31" stroke="#222" stroke-width="0.9"/>
<line x1="214.4" y1="388.86" x2="216.1" y2="388.86" stroke="#222" stroke-width="0.9"/>
<line x1="404.3" y1="388.86" x2="402.6" y2="388.86" stroke="#222" stroke-width="0.9"/>
<line x1="214.4" y1="386.4" x2="218" y2="386.4" stroke="#222" stroke-width="0.9"/>
<line x1="404.3" y1="386.4" x2="400.7" y2="386.4" stroke="#222" stroke-width="0.9"/>
<line x1="214.4" y1="383.94" x2="216.1" y2="383.94" stroke="#222" stroke-width="0.9"/>
<line x1="404.3" y1="383.94" x2="402.6" y2="383.94" stroke="#222" stroke-width="0.9"/>
<line x1="214.4" y1="381.49" x2="216.1" y2="381.49" stroke="#222" stroke-width="0.9"/>
<line x1="404.3" y1="381.49" x2="402.6" y2="381.49" stroke="#222" stroke-width="0.9"/>
<line x1="214.4" y1="379.04" x2="216.1" y2="379.04" stroke="#222" stroke-width="0.9"/>
<line x1="404.3" y1="379.04" x2="402.6" y2="379.04" stroke="#222" stroke-width="0.9"/>
<line x1="214.4" y1="376.58" x2="216.1" y2="376.58" stroke="#222" stroke-width="0.9"/>
<line x1="404.3" y1="376.58" x2="402.6" y2="376.58" stroke="#222" stroke-width="0.9"/>
<line x1="214.4" y1="374.12" x2="216.1" y2="374.12" stroke="#222" stroke-width="0.9"/>
<line x1="404.3" y1="374.12" x2="402.6" y2="374.12" stroke="#222" stroke-width="0.9"/>
<line x1="214.4" y1="371.67" x2="216.1" y2="371.67" stroke="#222" stroke-width="0.9"/>
<line x1="404.3" y1="371.67" x2="402.6" y2="371.67" stroke="#222" stroke-width="0.9"/>
<line x1="214.4" y1="369.22" x2="216.1" y2="369.22" stroke="#222" stroke-width="0.9"/>
<line x1="404.3" y1="369.22" x2="402.6" y2="369.22" stroke="#222" stroke-width="0.9"/>
<line x1="214.4" y1="366.76" x2="216.1" y2="366.76" stroke="#222" stroke-width="0.9"/>
<line x1="404.3" y1="366.76" x2="402.6" y2="366.76" stroke="#222" stroke-width="0.9"/>
<line x1="214.4" y1="364.31" x2="216.1" y2="364.31" stroke="#222" stroke-width="0.9"/>
<line x1="404.3" y1="364.31" x2="402.6" y2="364.31" stroke="#222" stroke-width="0.9"/>
<line x1="214.4" y1="361.85" x2="218" y2="361.85" stroke="#222" stroke-width="0.9"/>
<line x1="404.3" y1="361.85" x2="400.7" y2="361.85" stroke="#222" stroke-width="0.9"/>
<line x1="214.4" y1="359.4" x2="216.1" y2="359.4" stroke="#222" stroke-width="0.9"/>
<line x1="404.3" y1="359.4" x2="402.6" y2="359.4" stroke="#222" stroke-width="0.9"/>
<line x1="214.4" y1="356.94" x2="216.1" y2="356.94" stroke="#222" stroke-width="0.9"/>
<line x1="404.3" y1="356.94" x2="402.6" y2="356.94" stroke="#222" stroke-width="0.9"/>
<line x1="214.4" y1="354.49" x2="216.1" y2="354.49" stroke="#222" stroke-width="0.9"/>
<line x1="404.3" y1="354.49" x2="402.6" y2="354.49" stroke="#222" stroke-width="0.9"/>
<line x1="214.4" y1="352.03" x2="216.1" y2="352.03" stroke="#222" stroke-width="0.9"/>
<line x1="404.3" y1="352.03" x2="402.6" y2="352.03" stroke="#222" stroke-width="0.9"/>
<line x1="214.4" y1="349.57" x2="216.1" y2="349.57" stroke="#222" stroke-width="0.9"/>
<line x1="404.3" y1="349.57" x2="402.6" y2="349.57" stroke="#222" stroke-width="0.9"/>
<line x1="214.4" y1="347.12" x2="216.1" y2="347.12" stroke="#222" stroke-width="0.9"/>
<line x1="404.3" y1="347.12" x2="402.6" y2="347.12" stroke="#222" stroke-width="0.9"/>
<line x1="214.4" y1="344.67" x2="216.1" y2="344.67" stroke="#222" stroke-width="0.9"/>
<line x1="404.3" y1="344.67" x2="402.6" y2="344.67" stroke="#222" stroke-width="0.9"/>
<line x1="214.4" y1="342.21" x2="216.1" y2="342.21" stroke="#222" stroke-width="0.9"/>
<line x1="404.3" y1="342.21" x2="402.6" y2="342.21" stroke="#222" stroke-width="0.9"/>
<line x1="214.4" y1="339.75" x2="216.1" y2="339.75" stroke="#222" stroke-width="0.9"/>
<line x1="404.3" y1="339.75" x2="402.6" y2="339.75" stroke="#222" stroke-width="0.9"/>
<line x1="214.4" y1="337.3" x2="218" y2="337.3" stroke="#222" stroke-width="0.9"/>
<line x1="404.3" y1="337.3" x2="400.7" y2="337.3" stroke="#222" stroke-width="0.9"/>
<line x1="214.4" y1="334.85" x2="216.1" y2="334.85" stroke="#222" stroke-width="0.9"/>
<line x1="404.3" y1="334.85" x2="402.6" y2="334.85" stroke="#222" stroke-width="0.9"/>
<line x1="214.4" y1="332.39" x2="216.1" y2="332.39" stroke="#222" stroke-width="0.9"/>
<line x1="404.3" y1="332.39" x2="402.6" y2="332.39" stroke="#222" stroke-width="0.9"/>
<line x1="214.4" y1="329.94" x2="216.1" y2="329.94" stroke="#222" stroke-width="0.9"/>
<line x1="404.3" y1="329.94" x2="402.6" y2="329.94" stroke="#222" stroke-width="0.9"/>
<line x1="214.4" y1="327.48" x2="216.1" y2="327.48" stroke="#222" stroke-width="0.9"/>
<line x1="404.3" y1="327.48" x2="402.6" y2="327.48" stroke="#222" stroke-width="0.9"/>
<line x1="214.4" y1="325.03" x2="216.1" y2="325.03" stroke="#222" stroke-width="0.9"/>
<line x1="404.3" y1="325.03" x2="402.6" y2="325.03" stroke="#222" stroke-width="0.9"/>
<line x1="214.4" y1="322.57" x2="216.1" y2="322.57" stroke="#222" stroke-width="0.9"/>
<line x1="404.3" y1="322.57" x2="402.6" y2="322.57" stroke="#222" stroke-width="0.9"/>
<line x1="214.4" y1="320.12" x2="216.1" y2="320.12" stroke="#222" stroke-width="0.9"/>
<line x1="404.3" y1="320.12" x2="402.6" y2="320.12" stroke="#222" stroke-width="0.9"/>
<line x1="214.4" y1="317.66" x2="216.1" y2="317.66" stroke="#222" stroke-width="0.9"/>
<line x1="404.3" y1="317.66" x2="402.6" y2="317.66" stroke="#222" stroke-width="0.9"/>
<line x1="214.4" y1="315.2" x2="216.1" y2="315.2" stroke="#222" stroke-width="0.9"/>
<line x1="404.3" y1="315.2" x2="402.6" y2="315.2" stroke="#222" stroke-width="0.9"/>
<line x1="214.4" y1="312.75" x2="218" y2="312.75" stroke="#222" stroke-width="0.9"/>
<line x1="404.3" y1="312.75" x2="400.7" y2="312.75" stroke="#222" stroke-width="0.9"/>
<line x1="214.4" y1="310.3" x2="216.1" y2="310.3" stroke="#222" stroke-width="0.9"/>
<line x1="404.3" y1="310.3" x2="402.6" y2="310.3" stroke="#222" stroke-width="0.9"/>
<line x1="214.4" y1="307.84" x2="216.1" y2="307.84" stroke="#222" stroke-width="0.9"/>
<line x1="404.3" y1="307.84" x2="402.6" y2="307.84" stroke="#222" stroke-width="0.9"/>
<line x1="214.4" y1="305.38" x2="216.1" y2="305.38" stroke="#222" stroke-width="0.9"/>
<line x1="404.3" y1="305.38" x2="402.6" y2="305.38" stroke="#222" stroke-width="0.9"/>
<line x1="214.4" y1="302.93" x2="216.1" y2="302.93" stroke="#222" stroke-width="0.9"/>
<line x1="404.3" y1="302.93" x2="402.6" y2="302.93" stroke="#222" stroke-width="0.9"/>
<line x1="214.4" y1="300.48" x2="216.1" y2="300.48" stroke="#222" stroke-width="0.9"/>
<line x1="404.3" y1="300.48" x2="402.6" y2="300.48" stroke="#222" stroke-width="0.9"/>
<line x1="214.4" y1="298.02" x2="216.1" y2="298.02" stroke="#222" stroke-width="0.9"/>
<line x1="404.3" y1="298.02" x2="402.6" y2="298.02" stroke="#222" stroke-width="0.9"/>
<line x1="214.4" y1="295.56" x2="216.1" y2="295.56" stroke="#222" stroke-width="0.9"/>
<line x1="404.3" y1="295.56" x2="402.6" y2="295.56" stroke="#222" stroke-width="0.9"/>
<line x1="214.4" y1="293.11" x2="216.1" y2="293.11" stroke="#222" stroke-width="0.9"/>
<line x1="404.3" y1="293.11" x2="402.6" y2="293.11" stroke="#222" stroke-width="0.9"/>
<line x1="214.4" y1="290.66" x2="216.1" y2="290.66" stroke="#222" stroke-width="0.9"/>
<line x1="404.3" y1="290.66" x2="402.6" y2="290.66" stroke="#222" stroke-width="0.9"/>
<line x1="214.4" y1="288.2" x2="218" y2="288.2" stroke="#222" stroke-width="0.9"/>
<line x1="404.3" y1="288.2" x2="400.7" y2="288.2" stroke="#222" stroke-width="0.9"/>
<line x1="214.4" y1="285.75" x2="216.1" y2="285.75" stroke="#222" stroke-width="0.9"/>
<line x1="404.3" y1="285.75" x2="402.6" y2="285.75" stroke="#222" stroke-width="0.9"/>
<line x1="214.4" y1="283.29" x2="216.1" y2="283.29" stroke="#222" stroke-width="0.9"/>
<line x1="404.3" y1="283.29" x2="402.6" y2="283.29" stroke="#222" stroke-width="0.9"/>
<line x1="214.4" y1="280.84" x2="216.1" y2="280.84" stroke="#222" stroke-width="0.9"/>
<line x1="404.3" y1="280.84" x2="402.6" y2="280.84" stroke="#222" stroke-width="0.9"/>
<line x1="214.4" y1="278.38" x2="216.1" y2="278.38" stroke="#222" stroke-width="0.9"/>
<line x1="404.3" y1="278.38" x2="402.6" y2="278.38" stroke="#222" stroke-width="0.9"/>
<line x1="214.4" y1="518.27" x2="216.1" y2="518.27" stroke="#222" stroke-width="0.9"/>
<line x1="404.3" y1="518.27" x2="402.6" y2="518.27" stroke="#222" stroke-width="0.9"/>
<line x1="214.4" y1="514.86" x2="216.1" y2="514.86" stroke="#222" stroke-width="0.9"/>
<line x1="404.3" y1="514.86" x2="402.6" y2="514.86" stroke="#222" stroke-width="0.9"/>
<line x1="214.4" y1="511.45" x2="216.1" y2="511.45" stroke="#222" stroke-width="0.9"/>
<line x1="404.3" y1="511.45" x2="402.6" y2="511.45" stroke="#222" stroke-width="0.9"/>
<line x1="214.4" y1="508.04" x2="216.1" y2="508.04" stroke="#222" stroke-width="0.9"/>
<line x1="404.3" y1="508.04" x2="402.6" y2="508.04" stroke="#222" stroke-width="0.9"/>
<line x1="214.4" y1="504.63" x2="216.1" y2="504.63" stroke="#222" stroke-width="0.9"/>
<line x1="404.3" y1="504.63" x2="402.6" y2="504.63" stroke="#222" stroke-width="0.9"/>
<line x1="214.4" y1="501.22" x2="216.1" y2="501.22" stroke="#222" stroke-width="0.9"/>
<line x1="404.3" y1="501.22" x2="402.6" y2="501.22" stroke="#222" stroke-width="0.9"/>
<line x1="214.4" y1="497.81" x2="216.1" y2="497.81" stroke="#222" stroke-width="0.9"/>
<line x1="404.3" y1="497.81" x2="402.6" y2="497.81" stroke="#222" stroke-width="0.9"/>
<line x1="214.4" y1="494.4" x2="218" y2="494.4" stroke="#222" stroke-width="0.9"/>
<line x1="404.3" y1="494.4" x2="400.7" y2="494.4" stroke="#222" stroke-width="0.9"/>
<line x1="214.4" y1="490.99" x2="216.1" y2="490.99" stroke="#222" stroke-width="0.9"/>
<line x1="404.3" y1="490.99" x2="402.6" y2="490.99" stroke="#222" stroke-width="0.9"/>
<line x1="214.4" y1="487.58" x2="216.1" y2="487.58" stroke="#222" stroke-width="0.9"/>
<line x1="404.3" y1="487.58" x2="402.6" y2="487.58" stroke="#222" stroke-width="0.9"/>
<line x1="214.4" y1="484.17" x2="216.1" y2="484.17" stroke="#222" stroke-width="0.9"/>
<line x1="404.3" y1="484.17" x2="402.6" y2="484.17" stroke="#222" stroke-width="0.9"/>
<line x1="214.4" y1="480.76" x2="216.1" y2="480.76" stroke="#222" stroke-width="0.9"/>
<line x1="404.3" y1="480.76" x2="402.6" y2="480.76" stroke="#222" stroke-width="0.9"/>
<line x1="214.4" y1="477.35" x2="216.1" y2="477.35" stroke="#222" stroke-width="0.9"/>
<line x1="404.3" y1="477.35" x2="402.6" y2="477.35" stroke="#222" stroke-width="0.9"/>
<line x1="214.4" y1="473.94" x2="216.1" y2="473.94" stroke="#222" stroke-width="0.9"/>
<line x1="404.3" y1="473.94" x2="402.6" y2="473.94" stroke="#222" stroke-width="0.9"/>
<line x1="214.4" y1="470.53" x2="216.1" y2="470.53" stroke="#222" stroke-width="0.9"/>
<line x1="404.3" y1="470.53" x2="402.6" y2="470.53" stroke="#222" stroke-width="0.9"/>
<line x1="214.4" y1="467.12" x2="216.1" y2="467.12" stroke="#222" stroke-width="0.9"/>
<line x1="404.3" y1="467.12" x2="402.6" y2="467.12" stroke="#222" stroke-width="0.9"/>
<line x1="214.4" y1="463.71" x2="216.1" y2="463.71" stroke="#222" stroke-width="0.9"/>
<line x1="404.3" y1="463.71" x2="402.6" y2="463.71" stroke="#222" stroke-width="0.9"/>
<line x1="214.4" y1="460.3" x2="218" y2="460.3" stroke="#222" stroke-width="0.9"/>
<line x1="404.3" y1="460.3" x2="400.7" y2="460.3" stroke="#222" stroke-width="0.9"/>
<line x1="214.4" y1="456.89" x2="216.1" y2="456.89" stroke="#222" stroke-width="0.9"/>
<line x1="404.3" y1="456.89" x2="402.6" y2="456.89" stroke="#222" stroke-width="0.9"/>
<line x1="214.4" y1="453.48" x2="216.1" y2="453.48" stroke="#222" stroke-width="0.9"/>
<line x1="404.3" y1="453.48" x2="402.6" y2="453.48" stroke="#222" stroke-width="0.9"/>
<line x1="214.4" y1="450.07" x2="216.1" y2="450.07" stroke="#222" stroke-width="0.9"/>
<line x1="404.3" y1="450.07" x2="402.6" y2="450.07" stroke="#222" stroke-width="0.9"/>
<line x1="214.4" y1="446.66" x2="216.1" y2="446.66" stroke="#222" stroke-width="0.9"/>
<line x1="404.3" y1="446.66" x2="402.6" y2="446.66" stroke="#222" stroke-width="0.9"/>
<line x1="214.4" y1="443.25" x2="216.1" y2="443.25" stroke="#222" stroke-width="0.9"/>
<line x1="404.3" y1="443.25" x2="402.6" y2="443.25" stroke="#222" stroke-width="0.9"/>
<line x1="214.4" y1="439.84" x2="216.1" y2="439.84" stroke="#222" stroke-width="0.9"/>
<line x1="404.3" y1="439.84" x2="402.6" y2="439.84" stroke="#222" stroke-width="0.9"/>
<line x1="214.4" y1="436.43" x2="216.1" y2="436.43" stroke="#222" stroke-width="0.9"/>
<line x1="404.3" y1="436.43" x2="402.6" y2="436.43" stroke="#222" stroke-width="0.9"/>
<line x1="214.4" y1="433.02" x2="216.1" y2="433.02" stroke="#222" stroke-width="0.9"/>
<line x1="404.3" y1="433.02" x2="402.6" y2="433.02" stroke="#222" stroke-width="0.9"/>
<line x1="214.4" y1="429.61" x2="216.1" y2="429.61" stroke="#222" stroke-width="0.9"/>
<line x1="404.3" y1="429.61" x2="402.6" y2="429.61" stroke="#222" stroke-width="0.9"/>
<line x1="214.4" y1="426.2" x2="218" y2="426.2" stroke="#222" stroke-width="0.9"/>
<line x1="404.3" y1="426.2" x2="400.7" y2="426.2" stroke="#222" stroke-width="0.9"/>
<line x1="214.4" y1="422.79" x2="216.1" y2="422.79" stroke="#222" stroke-width="0.9"/>
<line x1="404.3" y1="422.79" x2="402.6" y2="422.79" stroke="#222" stroke-width="0.9"/>
<line x1="214.4" y1="419.38" x2="216.1" y2="419.38" stroke="#222" stroke-width="0.9"/>
<line x1="404.3" y1="419.38" x2="402.6" y2="419.38" stroke="#222" stroke-width="0.9"/>
<line x1="214.4" y1="415.97" x2="216.1" y2="415.97" stroke="#222" stroke-width="0.9"/>
<line x1="404.3" y1="415.97" x2="402.6" y2="415.97" stroke="#222" stroke-width="0.9"/>
<line x1="214.4" y1="412.56" x2="216.1" y2="412.56" stroke="#222" stroke-width="0.9"/>
<line x1="404.3" y1="412.56" x2="402.6" y2="412.56" stroke="#222" stroke-width="0.9"/>
<line x1="214.4" y1="409.15" x2="216.1" y2="409.15" stroke="#222" stroke-width="0.9"/>
<line x1="404.3" y1="409.15" x2="402.6" y2="409.15" stroke="#222" stroke-width="0.9"/>
<line x1="214.4" y1="405.74" x2="216.1" y2="405.74" stroke="#222" stroke-width="0.9"/>
<line x1="404.3" y1="405.74" x2="402.6" y2="405.74" stroke="#222" stroke-width="0.9"/>
<line x1="214.4" y1="402.33" x2="216.1" y2="402.33" stroke="#222" stroke-width="0.9"/>
<line x1="404.3" y1="402.33" x2="402.6" y2="402.33" stroke="#222" stroke-width="0.9"/>
<rect x="406.6" y="275.9" width="189.9" height="245.6" fill="none" stroke="#222" stroke-width="1"/>
<line x1="406.6" y1="398.7" x2="596.5" y2="398.7" stroke="#222" stroke-width="1"/>
<line x1="419.7" y1="275.9" x2="419.7" y2="278.3" stroke="#222" stroke-width="0.9"/>
<line x1="419.7" y1="398.7" x2="419.7" y2="396.3" stroke="#222" stroke-width="0.9"/>
<line x1="432.71" y1="275.9" x2="432.71" y2="277.2" stroke="#222" stroke-width="0.9"/>
<line x1="432.71" y1="398.7" x2="432.71" y2="397.4" stroke="#222" stroke-width="0.9"/>
<line x1="445.72" y1="275.9" x2="445.72" y2="277.2" stroke="#222" stroke-width="0.9"/>
<line x1="445.72" y1="398.7" x2="445.72" y2="397.4" stroke="#222" stroke-width="0.9"/>
<line x1="458.73" y1="275.9" x2="458.73" y2="277.2" stroke="#222" stroke-width="0.9"/>
<line x1="458.73" y1="398.7" x2="458.73" y2="397.4" stroke="#222" stroke-width="0.9"/>
<line x1="471.74" y1="275.9" x2="471.74" y2="278.3" stroke="#222" stroke-width="0.9"/>
<line x1="471.74" y1="398.7" x2="471.74" y2="396.3" stroke="#222" stroke-width="0.9"/>
<line x1="484.75" y1="275.9" x2="484.75" y2="277.2" stroke="#222" stroke-width="0.9"/>
<line x1="484.75" y1="398.7" x2="484.75" y2="397.4" stroke="#222" stroke-width="0.9"/>
<line x1="497.76" y1="275.9" x2="497.76" y2="277.2" stroke="#222" stroke-width="0.9"/>
<line x1="497.76" y1="398.7" x2="497.76" y2="397.4" stroke="#222" stroke-width="0.9"/>
<line x1="510.77" y1="275.9" x2="510.77" y2="277.2" stroke="#222" stroke-width="0.9"/>
<line x1="510.77" y1="398.7" x2="510.77" y2="397.4" stroke="#222" stroke-width="0.9"/>
<line x1="523.78" y1="275.9" x2="523.78" y2="278.3" stroke="#222" stroke-width="0.9"/>
<line x1="523.78" y1="398.7" x2="523.78" y2="396.3" stroke="#222" stroke-width="0.9"/>
<line x1="536.79" y1="275.9" x2="536.79" y2="277.2" stroke="#222" stroke-width="0.9"/>
<line x1="536.79" y1="398.7" x2="536.79" y2="397.4" stroke="#222" stroke-width="0.9"/>
<line x1="549.8" y1="275.9" x2="549.8" y2="277.2" stroke="#222" stroke-width="0.9"/>
<line x1="549.8" y1="398.7" x2="549.8" y2="397.4" stroke="#222" stroke-width="0.9"/>
<line x1="562.81" y1="275.9" x2="562.81" y2="277.2" stroke="#222" stroke-width="0.9"/>
<line x1="562.81" y1="398.7" x2="562.81" y2="397.4" stroke="#222" stroke-width="0.9"/>
<line x1="575.82" y1="275.9" x2="575.82" y2="278.3" stroke="#222" stroke-width="0.9"/>
<line x1="575.82" y1="398.7" x2="575.82" y2="396.3" stroke="#222" stroke-width="0.9"/>
<line x1="588.83" y1="275.9" x2="588.83" y2="277.2" stroke="#222" stroke-width="0.9"/>
<line x1="588.83" y1="398.7" x2="588.83" y2="397.4" stroke="#222" stroke-width="0.9"/>
<line x1="419.7" y1="398.7" x2="419.7" y2="401.1" stroke="#222" stroke-width="0.9"/>
<line x1="419.7" y1="521.5" x2="419.7" y2="519.1" stroke="#222" stroke-width="0.9"/>
<line x1="432.71" y1="398.7" x2="432.71" y2="400" stroke="#222" stroke-width="0.9"/>
<line x1="432.71" y1="521.5" x2="432.71" y2="520.2" stroke="#222" stroke-width="0.9"/>
<line x1="445.72" y1="398.7" x2="445.72" y2="400" stroke="#222" stroke-width="0.9"/>
<line x1="445.72" y1="521.5" x2="445.72" y2="520.2" stroke="#222" stroke-width="0.9"/>
<line x1="458.73" y1="398.7" x2="458.73" y2="400" stroke="#222" stroke-width="0.9"/>
<line x1="458.73" y1="521.5" x2="458.73" y2="520.2" stroke="#222" stroke-width="0.9"/>
<line x1="471.74" y1="398.7" x2="471.74" y2="401.1" stroke="#222" stroke-width="0.9"/>
<line x1="471.74" y1="521.5" x2="471.74" y2="519.1" stroke="#222" stroke-width="0.9"/>
<line x1="484.75" y1="398.7" x2="484.75" y2="400" stroke="#222" stroke-width="0.9"/>
<line x1="484.75" y1="521.5" x2="484.75" y2="520.2" stroke="#222" stroke-width="0.9"/>
<line x1="497.76" y1="398.7" x2="497.76" y2="400" stroke="#222" stroke-width="0.9"/>
<line x1="497.76" y1="521.5" x2="497.76" y2="520.2" stroke="#222" stroke-width="0.9"/>
<line x1="510.77" y1="398.7" x2="510.77" y2="400" stroke="#222" stroke-width="0.9"/>
<line x1="510.77" y1="521.5" x2="510.77" y2="520.2" stroke="#222" stroke-width="0.9"/>
<line x1="523.78" y1="398.7" x2="523.78" y2="401.1" stroke="#222" stroke-width="0.9"/>
<line x1="523.78" y1="521.5" x2="523.78" y2="519.1" stroke="#222" stroke-width="0.9"/>
<line x1="536.79" y1="398.7" x2="536.79" y2="400" stroke="#222" stroke-width="0.9"/>
<line x1="536.79" y1="521.5" x2="536.79" y2="520.2" stroke="#222" stroke-width="0.9"/>
<line x1="549.8" y1="398.7" x2="549.8" y2="400" stroke="#222" stroke-width="0.9"/>
<line x1="549.8" y1="521.5" x2="549.8" y2="520.2" stroke="#222" stroke-width="0.9"/>
<line x1="562.81" y1="398.7" x2="562.81" y2="400" stroke="#222" stroke-width="0.9"/>
<line x1="562.81" y1="521.5" x2="562.81" y2="520.2" stroke="#222" stroke-width="0.9"/>
<line x1="575.82" y1="398.7" x2="575.82" y2="401.1" stroke="#222" stroke-width="0.9"/>
<line x1="575.82" y1="521.5" x2="575.82" y2="519.1" stroke="#222" stroke-width="0.9"/>
<line x1="588.83" y1="398.7" x2="588.83" y2="400" stroke="#222" stroke-width="0.9"/>
<line x1="588.83" y1="521.5" x2="588.83" y2="520.2" stroke="#222" stroke-width="0.9"/>
<line x1="406.6" y1="396.22" x2="408.3" y2="396.22" stroke="#222" stroke-width="0.9"/>
<line x1="596.5" y1="396.22" x2="594.8" y2="396.22" stroke="#222" stroke-width="0.9"/>
<line x1="406.6" y1="393.76" x2="408.3" y2="393.76" stroke="#222" stroke-width="0.9"/>
<line x1="596.5" y1="393.76" x2="594.8" y2="393.76" stroke="#222" stroke-width="0.9"/>
<line x1="406.6" y1="391.31" x2="408.3" y2="391.31" stroke="#222" stroke-width="0.9"/>
<line x1="596.5" y1="391.31" x2="594.8" y2="391.31" stroke="#222" stroke-width="0.9"/>
<line x1="406.6" y1="388.86" x2="408.3" y2="388.86" stroke="#222" stroke-width="0.9"/>
<line x1="596.5" y1="388.86" x2="594.8" y2="388.86" stroke="#222" stroke-width="0.9"/>
<line x1="406.6" y1="386.4" x2="410.2" y2="386.4" stroke="#222" stroke-width="0.9"/>
<line x1="596.5" y1="386.4" x2="592.9" y2="386.4" stroke="#222" stroke-width="0.9"/>
<line x1="406.6" y1="383.94" x2="408.3" y2="383.94" stroke="#222" stroke-width="0.9"/>
<line x1="596.5" y1="383.94" x2="594.8" y2="383.94" stroke="#222" stroke-width="0.9"/>
<line x1="406.6" y1="381.49" x2="408.3" y2="381.49" stroke="#222" stroke-width="0.9"/>
<line x1="596.5" y1="381.49" x2="594.8" y2="381.49" stroke="#222" stroke-width="0.9"/>
<line x1="406.6" y1="379.04" x2="408.3" y2="379.04" stroke="#222" stroke-width="0.9"/>
<line x1="596.5" y1="379.04" x2="594.8" y2="379.04" stroke="#222" stroke-width="0.9"/>
<line x1="406.6" y1="376.58" x2="408.3" y2="376.58" stroke="#222" stroke-width="0.9"/>
<line x1="596.5" y1="376.58" x2="594.8" y2="376.58" stroke="#222" stroke-width="0.9"/>
<line x1="406.6" y1="374.12" x2="408.3" y2="374.12" stroke="#222" stroke-width="0.9"/>
<line x1="596.5" y1="374.12" x2="594.8" y2="374.12" stroke="#222" stroke-width="0.9"/>
<line x1="406.6" y1="371.67" x2="408.3" y2="371.67" stroke="#222" stroke-width="0.9"/>
<line x1="596.5" y1="371.67" x2="594.8" y2="371.67" stroke="#222" stroke-width="0.9"/>
<line x1="406.6" y1="369.22" x2="408.3" y2="369.22" stroke="#222" stroke-width="0.9"/>
<line x1="596.5" y1="369.22" x2="594.8" y2="369.22" stroke="#222" stroke-width="0.9"/>
<line x1="406.6" y1="366.76" x2="408.3" y2="366.76" stroke="#222" stroke-width="0.9"/>
<line x1="596.5" y1="366.76" x2="594.8" y2="366.76" stroke="#222" stroke-width="0.9"/>
<line x1="406.6" y1="364.31" x2="408.3" y2="364.31" stroke="#222" stroke-width="0.9"/>
<line x1="596.5" y1="364.31" x2="594.8" y2="364.31" stroke="#222" stroke-width="0.9"/>
<line x1="406.6" y1="361.85" x2="410.2" y2="361.85" stroke="#222" stroke-width="0.9"/>
<line x1="596.5" y1="361.85" x2="592.9" y2="361.85" stroke="#222" stroke-width="0.9"/>
<line x1="406.6" y1="359.4" x2="408.3" y2="359.4" stroke="#222" stroke-width="0.9"/>
<line x1="596.5" y1="359.4" x2="594.8" y2="359.4" stroke="#222" stroke-width="0.9"/>
<line x1="406.6" y1="356.94" x2="408.3" y2="356.94" stroke="#222" stroke-width="0.9"/>
<line x1="596.5" y1="356.94" x2="594.8" y2="356.94" stroke="#222" stroke-width="0.9"/>
<line x1="406.6" y1="354.49" x2="408.3" y2="354.49" stroke="#222" stroke-width="0.9"/>
<line x1="596.5" y1="354.49" x2="594.8" y2="354.49" stroke="#222" stroke-width="0.9"/>
<line x1="406.6" y1="352.03" x2="408.3" y2="352.03" stroke="#222" stroke-width="0.9"/>
<line x1="596.5" y1="352.03" x2="594.8" y2="352.03" stroke="#222" stroke-width="0.9"/>
<line x1="406.6" y1="349.57" x2="408.3" y2="349.57" stroke="#222" stroke-width="0.9"/>
<line x1="596.5" y1="349.57" x2="594.8" y2="349.57" stroke="#222" stroke-width="0.9"/>
<line x1="406.6" y1="347.12" x2="408.3" y2="347.12" stroke="#222" stroke-width="0.9"/>
<line x1="596.5" y1="347.12" x2="594.8" y2="347.12" stroke="#222" stroke-width="0.9"/>
<line x1="406.6" y1="344.67" x2="408.3" y2="344.67" stroke="#222" stroke-width="0.9"/>
<line x1="596.5" y1="344.67" x2="594.8" y2="344.67" stroke="#222" stroke-width="0.9"/>
<line x1="406.6" y1="342.21" x2="408.3" y2="342.21" stroke="#222" stroke-width="0.9"/>
<line x1="596.5" y1="342.21" x2="594.8" y2="342.21" stroke="#222" stroke-width="0.9"/>
<line x1="406.6" y1="339.75" x2="408.3" y2="339.75" stroke="#222" stroke-width="0.9"/>
<line x1="596.5" y1="339.75" x2="594.8" y2="339.75" stroke="#222" stroke-width="0.9"/>
<line x1="406.6" y1="337.3" x2="410.2" y2="337.3" stroke="#222" stroke-width="0.9"/>
<line x1="596.5" y1="337.3" x2="592.9" y2="337.3" stroke="#222" stroke-width="0.9"/>
<line x1="406.6" y1="334.85" x2="408.3" y2="334.85" stroke="#222" stroke-width="0.9"/>
<line x1="596.5" y1="334.85" x2="594.8" y2="334.85" stroke="#222" stroke-width="0.9"/>
<line x1="406.6" y1="332.39" x2="408.3" y2="332.39" stroke="#222" stroke-width="0.9"/>
<line x1="596.5" y1="332.39" x2="594.8" y2="332.39" stroke="#222" stroke-width="0.9"/>
<line x1="406.6" y1="329.94" x2="408.3" y2="329.94" stroke="#222" stroke-width="0.9"/>
<line x1="596.5" y1="329.94" x2="594.8" y2="329.94" stroke="#222" stroke-width="0.9"/>
<line x1="406.6" y1="327.48" x2="408.3" y2="327.48" stroke="#222" stroke-width="0.9"/>
<line x1="596.5" y1="327.48" x2="594.8" y2="327.48" stroke="#222" stroke-width="0.9"/>
<line x1="406.6" y1="325.03" x2="408.3" y2="325.03" stroke="#222" stroke-width="0.9"/>
<line x1="596.5" y1="325.03" x2="594.8" y2="325.03" stroke="#222" stroke-width="0.9"/>
<line x1="406.6" y1="322.57" x2="408.3" y2="322.57" stroke="#222" stroke-width="0.9"/>
<line x1="596.5" y1="322.57" x2="594.8" y2="322.57" stroke="#222" stroke-width="0.9"/>
<line x1="406.6" y1="320.12" x2="408.3" y2="320.12" stroke="#222" stroke-width="0.9"/>
<line x1="596.5" y1="320.12" x2="594.8" y2="320.12" stroke="#222" stroke-width="0.9"/>
<line x1="406.6" y1="317.66" x2="408.3" y2="317.66" stroke="#222" stroke-width="0.9"/>
<line x1="596.5" y1="317.66" x2="594.8" y2="317.66" stroke="#222" stroke-width="0.9"/>
<line x1="406.6" y1="315.2" x2="408.3" y2="315.2" stroke="#222" stroke-width="0.9"/>
<line x1="596.5" y1="315.2" x2="594.8" y2="315.2" stroke="#222" stroke-width="0.9"/>
<line x1="406.6" y1="312.75" x2="410.2" y2="312.75" stroke="#222" stroke-width="0.9"/>
<line x1="596.5" y1="312.75" x2="592.9" y2="312.75" stroke="#222" stroke-width="0.9"/>
<line x1="406.6" y1="310.3" x2="408.3" y2="310.3" stroke="#222" stroke-width="0.9"/>
<line x1="596.5" y1="310.3" x2="594.8" y2="310.3" stroke="#222" stroke-width="0.9"/>
<line x1="406.6" y1="307.84" x2="408.3" y2="307.84" stroke="#222" stroke-width="0.9"/>
<line x1="596.5" y1="307.84" x2="594.8" y2="307.84" stroke="#222" stroke-width="0.9"/>
<line x1="406.6" y1="305.38" x2="408.3" y2="305.38" stroke="#222" stroke-width="0.9"/>
<line x1="596.5" y1="305.38" x2="594.8" y2="305.38" stroke="#222" stroke-width="0.9"/>
<line x1="406.6" y1="302.93" x2="408.3" y2="302.93" stroke="#222" stroke-width="0.9"/>
<line x1="596.5" y1="302.93" x2="594.8" y2="302.93" stroke="#222" stroke-width="0.9"/>
<line x1="406.6" y1="300.48" x2="408.3" y2="300.48" stroke="#222" stroke-width="0.9"/>
<line x1="596.5" y1="300.48" x2="594.8" y2="300.48" stroke="#222" stroke-width="0.9"/>
<line x1="406.6" y1="298.02" x2="408.3" y2="298.02" stroke="#222" stroke-width="0.9"/>
<line x1="596.5" y1="298.02" x2="594.8" y2="298.02" stroke="#222" stroke-width="0.9"/>
<line x1="406.6" y1="295.56" x2="408.3" y2="295.56" stroke="#222" stroke-width="0.9"/>
<line x1="596.5" y1="295.56" x2="594.8" y2="295.56" stroke="#222" stroke-width="0.9"/>
<line x1="406.6" y1="293.11" x2="408.3" y2="293.11" stroke="#222" stroke-width="0.9"/>
<line x1="596.5" y1="293.11" x2="594.8" y2="293.11" stroke="#222" stroke-width="0.9"/>
<line x1="406.6" y1="290.66" x2="408.3" y2="290.66" stroke="#222" stroke-width="0.9"/>
<line x1="596.5" y1="290.66" x2="594.8" y2="290.66" stroke="#222" stroke-width="0.9"/>
<line x1="406.6" y1="288.2" x2="410.2" y2="288.2" stroke="#222" stroke-width="0.9"/>
<line x1="596.5" y1="288.2" x2="592.9" y2="288.2" stroke="#222" stroke-width="0.9"/>
<line x1="406.6" y1="285.75" x2="408.3" y2="285.75" stroke="#222" stroke-width="0.9"/>
<line x1="596.5" y1="285.75" x2="594.8" y2="285.75" stroke="#222" stroke-width="0.9"/>
<line x1="406.6" y1="283.29" x2="408.3" y2="283.29" stroke="#222" stroke-width="0.9"/>
<line x1="596.5" y1="283.29" x2="594.8" y2="283.29" stroke="#222" stroke-width="0.9"/>
<line x1="406.6" y1="280.84" x2="408.3" y2="280.84" stroke="#222" stroke-width="0.9"/>
<line x1="596.5" y1="280.84" x2="594.8" y2="280.84" stroke="#222" stroke-width="0.9"/>
<line x1="406.6" y1="278.38" x2="408.3" y2="278.38" stroke="#222" stroke-width="0.9"/>
<line x1="596.5" y1="278.38" x2="594.8" y2="278.38" stroke="#222" stroke-width="0.9"/>
<line x1="406.6" y1="518.27" x2="408.3" y2="518.27" stroke="#222" stroke-width="0.9"/>
<line x1="596.5" y1="518.27" x2="594.8" y2="518.27" stroke="#222" stroke-width="0.9"/>
<line x1="406.6" y1="514.86" x2="408.3" y2="514.86" stroke="#222" stroke-width="0.9"/>
<line x1="596.5" y1="514.86" x2="594.8" y2="514.86" stroke="#222" stroke-width="0.9"/>
<line x1="406.6" y1="511.45" x2="408.3" y2="511.45" stroke="#222" stroke-width="0.9"/>
<line x1="596.5" y1="511.45" x2="594.8" y2="511.45" stroke="#222" stroke-width="0.9"/>
<line x1="406.6" y1="508.04" x2="408.3" y2="508.04" stroke="#222" stroke-width="0.9"/>
<line x1="596.5" y1="508.04" x2="594.8" y2="508.04" stroke="#222" stroke-width="0.9"/>
<line x1="406.6" y1="504.63" x2="408.3" y2="504.63" stroke="#222" stroke-width="0.9"/>
<line x1="596.5" y1="504.63" x2="594.8" y2="504.63" stroke="#222" stroke-width="0.9"/>
<line x1="406.6" y1="501.22" x2="408.3" y2="501.22" stroke="#222" stroke-width="0.9"/>
<line x1="596.5" y1="501.22" x2="594.8" y2="501.22" stroke="#222" stroke-width="0.9"/>
<line x1="406.6" y1="497.81" x2="408.3" y2="497.81" stroke="#222" stroke-width="0.9"/>
<line x1="596.5" y1="497.81" x2="594.8" y2="497.81" stroke="#222" stroke-width="0.9"/>
<line x1="406.6" y1="494.4" x2="410.2" y2="494.4" stroke="#222" stroke-width="0.9"/>
<line x1="596.5" y1="494.4" x2="592.9" y2="494.4" stroke="#222" stroke-width="0.9"/>
<line x1="406.6" y1="490.99" x2="408.3" y2="490.99" stroke="#222" stroke-width="0.9"/>
<line x1="596.5" y1="490.99" x2="594.8" y2="490.99" stroke="#222" stroke-width="0.9"/>
<line x1="406.6" y1="487.58" x2="408.3" y2="487.58" stroke="#222" stroke-width="0.9"/>
<line x1="596.5" y1="487.58" x2="594.8" y2="487.58" stroke="#222" stroke-width="0.9"/>
<line x1="406.6" y1="484.17" x2="408.3" y2="484.17" stroke="#222" stroke-width="0.9"/>
<line x1="596.5" y1="484.17" x2="594.8" y2="484.17" stroke="#222" stroke-width="0.9"/>
<line x1="406.6" y1="480.76" x2="408.3" y2="480.76" stroke="#222" stroke-width="0.9"/>
<line x1="596.5" y1="480.76" x2="594.8" y2="480.76" stroke="#222" stroke-width="0.9"/>
<line x1="406.6" y1="477.35" x2="408.3" y2="477.35" stroke="#222" stroke-width="0.9"/>
<line x1="596.5" y1="477.35" x2="594.8" y2="477.35" stroke="#222" stroke-width="0.9"/>
<line x1="406.6" y1="473.94" x2="408.3" y2="473.94" stroke="#222" stroke-width="0.9"/>
<line x1="596.5" y1="473.94" x2="594.8" y2="473.94" stroke="#222" stroke-width="0.9"/>
<line x1="406.6" y1="470.53" x2="408.3" y2="470.53" stroke="#222" stroke-width="0.9"/>
<line x1="596.5" y1="470.53" x2="594.8" y2="470.53" stroke="#222" stroke-width="0.9"/>
<line x1="406.6" y1="467.12" x2="408.3" y2="467.12" stroke="#222" stroke-width="0.9"/>
<line x1="596.5" y1="467.12" x2="594.8" y2="467.12" stroke="#222" stroke-width="0.9"/>
<line x1="406.6" y1="463.71" x2="408.3" y2="463.71" stroke="#222" stroke-width="0.9"/>
<line x1="596.5" y1="463.71" x2="594.8" y2="463.71" stroke="#222" stroke-width="0.9"/>
<line x1="406.6" y1="460.3" x2="410.2" y2="460.3" stroke="#222" stroke-width="0.9"/>
<line x1="596.5" y1="460.3" x2="592.9" y2="460.3" stroke="#222" stroke-width="0.9"/>
<line x1="406.6" y1="456.89" x2="408.3" y2="456.89" stroke="#222" stroke-width="0.9"/>
<line x1="596.5" y1="456.89" x2="594.8" y2="456.89" stroke="#222" stroke-width="0.9"/>
<line x1="406.6" y1="453.48" x2="408.3" y2="453.48" stroke="#222" stroke-width="0.9"/>
<line x1="596.5" y1="453.48" x2="594.8" y2="453.48" stroke="#222" stroke-width="0.9"/>
<line x1="406.6" y1="450.07" x2="408.3" y2="450.07" stroke="#222" stroke-width="0.9"/>
<line x1="596.5" y1="450.07" x2="594.8" y2="450.07" stroke="#222" stroke-width="0.9"/>
<line x1="406.6" y1="446.66" x2="408.3" y2="446.66" stroke="#222" stroke-width="0.9"/>
<line x1="596.5" y1="446.66" x2="594.8" y2="446.66" stroke="#222" stroke-width="0.9"/>
<line x1="406.6" y1="443.25" x2="408.3" y2="443.25" stroke="#222" stroke-width="0.9"/>
<line x1="596.5" y1="443.25" x2="594.8" y2="443.25" stroke="#222" stroke-width="0.9"/>
<line x1="406.6" y1="439.84" x2="408.3" y2="439.84" stroke="#222" stroke-width="0.9"/>
<line x1="596.5" y1="439.84" x2="594.8" y2="439.84" stroke="#222" stroke-width="0.9"/>
<line x1="406.6" y1="436.43" x2="408.3" y2="436.43" stroke="#222" stroke-width="0.9"/>
<line x1="596.5" y1="436.43" x2="594.8" y2="436.43" stroke="#222" stroke-width="0.9"/>
<line x1="406.6" y1="433.02" x2="408.3" y2="433.02" stroke="#222" stroke-width="0.9"/>
<line x1="596.5" y1="433.02" x2="594.8" y2="433.02" stroke="#222" stroke-width="0.9"/>
<line x1="406.6" y1="429.61" x2="408.3" y2="429.61" stroke="#222" stroke-width="0.9"/>
<line x1="596.5" y1="429.61" x2="594.8" y2="429.61" stroke="#222" stroke-width="0.9"/>
<line x1="406.6" y1="426.2" x2="410.2" y2="426.2" stroke="#222" stroke-width="0.9"/>
<line x1="596.5" y1="426.2" x2="592.9" y2="426.2" stroke="#222" stroke-width="0.9"/>
<line x1="406.6" y1="422.79" x2="408.3" y2="422.79" stroke="#222" stroke-width="0.9"/>
<line x1="596.5" y1="422.79" x2="594.8" y2="422.79" stroke="#222" stroke-width="0.9"/>
<line x1="406.6" y1="419.38" x2="408.3" y2="419.38" stroke="#222" stroke-width="0.9"/>
<line x1="596.5" y1="419.38" x2="594.8" y2="419.38" stroke="#222" stroke-width="0.9"/>
<line x1="406.6" y1="415.97" x2="408.3" y2="415.97" stroke="#222" stroke-width="0.9"/>
<line x1="596.5" y1="415.97" x2="594.8" y2="415.97" stroke="#222" stroke-width="0.9"/>
<line x1="406.6" y1="412.56" x2="408.3" y2="412.56" stroke="#222" stroke-width="0.9"/>
<line x1="596.5" y1="412.56" x2="594.8" y2="412.56" stroke="#222" stroke-width="0.9"/>
<line x1="406.6" y1="409.15" x2="408.3" y2="409.15" stroke="#222" stroke-width="0.9"/>
<line x1="596.5" y1="409.15" x2="594.8" y2="409.15" stroke="#222" stroke-width="0.9"/>
<line x1="406.6" y1="405.74" x2="408.3" y2="405.74" stroke="#222" stroke-width="0.9"/>
<line x1="596.5" y1="405.74" x2="594.8" y2="405.74" stroke="#222" stroke-width="0.9"/>
<line x1="406.6" y1="402.33" x2="408.3" y2="402.33" stroke="#222" stroke-width="0.9"/>
<line x1="596.5" y1="402.33" x2="594.8" y2="402.33" stroke="#222" stroke-width="0.9"/>
<text x="49.33" y="256.9" font-family='"Liberation Sans", sans-serif' font-size="9.4" fill="#111" text-anchor="middle" textLength="21.5" lengthAdjust="spacingAndGlyphs" stroke="#111" stroke-width="0.15">3000</text>
<text x="77.73" y="256.9" font-family='"Liberation Sans", sans-serif' font-size="9.4" fill="#111" text-anchor="middle" textLength="21.5" lengthAdjust="spacingAndGlyphs" stroke="#111" stroke-width="0.15">3200</text>
<text x="106.13" y="256.9" font-family='"Liberation Sans", sans-serif' font-size="9.4" fill="#111" text-anchor="middle" textLength="21.5" lengthAdjust="spacingAndGlyphs" stroke="#111" stroke-width="0.15">3400</text>
<text x="134.53" y="256.9" font-family='"Liberation Sans", sans-serif' font-size="9.4" fill="#111" text-anchor="middle" textLength="21.5" lengthAdjust="spacingAndGlyphs" stroke="#111" stroke-width="0.15">3600</text>
<text x="162.93" y="256.9" font-family='"Liberation Sans", sans-serif' font-size="9.4" fill="#111" text-anchor="middle" textLength="21.5" lengthAdjust="spacingAndGlyphs" stroke="#111" stroke-width="0.15">3800</text>
<text x="191.33" y="256.9" font-family='"Liberation Sans", sans-serif' font-size="9.4" fill="#111" text-anchor="middle" textLength="21.5" lengthAdjust="spacingAndGlyphs" stroke="#111" stroke-width="0.15">4000</text>
<text x="230.35" y="256.9" font-family='"Liberation Serif", serif' font-size="9.2" fill="#111" text-anchor="middle" textLength="20" lengthAdjust="spacingAndGlyphs" stroke="#111" stroke-width="0.2">1800</text>
<text x="262.05" y="256.9" font-family='"Liberation Serif", serif' font-size="9.2" fill="#111" text-anchor="middle" textLength="20" lengthAdjust="spacingAndGlyphs" stroke="#111" stroke-width="0.2">2000</text>
<text x="293.75" y="256.9" font-family='"Liberation Serif", serif' font-size="9.2" fill="#111" text-anchor="middle" textLength="20" lengthAdjust="spacingAndGlyphs" stroke="#111" stroke-width="0.2">2200</text>
<text x="325.45" y="256.9" font-family='"Liberation Serif", serif' font-size="9.2" fill="#111" text-anchor="middle" textLength="20" lengthAdjust="spacingAndGlyphs" stroke="#111" stroke-width="0.2">2400</text>
<text x="357.15" y="256.9" font-family='"Liberation Serif", serif' font-size="9.2" fill="#111" text-anchor="middle" textLength="20" lengthAdjust="spacingAndGlyphs" stroke="#111" stroke-width="0.2">2600</text>
<text x="388.85" y="256.9" font-family='"Liberation Serif", serif' font-size="9.2" fill="#111" text-anchor="middle" textLength="20" lengthAdjust="spacingAndGlyphs" stroke="#111" stroke-width="0.2">2800</text>
<text x="424.7" y="256.9" font-family='"Liberation Sans", sans-serif' font-size="9.4" fill="#111" text-anchor="middle" textLength="21.5" lengthAdjust="spacingAndGlyphs" stroke="#111" stroke-width="0.15">1600</text>
<text x="457.76" y="256.9" font-family='"Liberation Sans", sans-serif' font-size="9.4" fill="#111" text-anchor="middle" textLength="21.5" lengthAdjust="spacingAndGlyphs" stroke="#111" stroke-width="0.15">1800</text>
<text x="490.82" y="256.9" font-family='"Liberation Sans", sans-serif' font-size="9.4" fill="#111" text-anchor="middle" textLength="21.5" lengthAdjust="spacingAndGlyphs" stroke="#111" stroke-width="0.15">2000</text>
<text x="523.88" y="256.9" font-family='"Liberation Sans", sans-serif' font-size="9.4" fill="#111" text-anchor="middle" textLength="21.5" lengthAdjust="spacingAndGlyphs" stroke="#111" stroke-width="0.15">2200</text>
<text x="556.94" y="256.9" font-family='"Liberation Sans", sans-serif' font-size="9.4" fill="#111" text-anchor="middle" textLength="21.5" lengthAdjust="spacingAndGlyphs" stroke="#111" stroke-width="0.15">2400</text>
<text x="590" y="256.9" font-family='"Liberation Sans", sans-serif' font-size="9.4" fill="#111" text-anchor="middle" textLength="21.5" lengthAdjust="spacingAndGlyphs" stroke="#111" stroke-width="0.15">2600</text>
<text x="43.3" y="532.1" font-family='"Liberation Serif", serif' font-size="9.2" fill="#111" text-anchor="middle" textLength="20.3" lengthAdjust="spacingAndGlyphs" stroke="#111" stroke-width="0.2">1400</text>
<text x="85.36" y="532.1" font-family='"Liberation Serif", serif' font-size="9.2" fill="#111" text-anchor="middle" textLength="20.3" lengthAdjust="spacingAndGlyphs" stroke="#111" stroke-width="0.2">1600</text>
<text x="127.42" y="532.1" font-family='"Liberation Serif", serif' font-size="9.2" fill="#111" text-anchor="middle" textLength="20.3" lengthAdjust="spacingAndGlyphs" stroke="#111" stroke-width="0.2">1800</text>
<text x="169.48" y="532.1" font-family='"Liberation Serif", serif' font-size="9.2" fill="#111" text-anchor="middle" textLength="20.3" lengthAdjust="spacingAndGlyphs" stroke="#111" stroke-width="0.2">2000</text>
<text x="219.6" y="532.1" font-family='"Liberation Serif", serif' font-size="9.2" fill="#111" text-anchor="middle" textLength="20.3" lengthAdjust="spacingAndGlyphs" stroke="#111" stroke-width="0.2">1000</text>
<text x="246.82" y="532.1" font-family='"Liberation Serif", serif' font-size="9.2" fill="#111" text-anchor="middle" textLength="20.3" lengthAdjust="spacingAndGlyphs" stroke="#111" stroke-width="0.2">1100</text>
<text x="274.04" y="532.1" font-family='"Liberation Serif", serif' font-size="9.2" fill="#111" text-anchor="middle" textLength="20.3" lengthAdjust="spacingAndGlyphs" stroke="#111" stroke-width="0.2">1200</text>
<text x="301.26" y="532.1" font-family='"Liberation Serif", serif' font-size="9.2" fill="#111" text-anchor="middle" textLength="20.3" lengthAdjust="spacingAndGlyphs" stroke="#111" stroke-width="0.2">1300</text>
<text x="328.48" y="532.1" font-family='"Liberation Serif", serif' font-size="9.2" fill="#111" text-anchor="middle" textLength="20.3" lengthAdjust="spacingAndGlyphs" stroke="#111" stroke-width="0.2">1400</text>
<text x="355.7" y="532.1" font-family='"Liberation Serif", serif' font-size="9.2" fill="#111" text-anchor="middle" textLength="20.3" lengthAdjust="spacingAndGlyphs" stroke="#111" stroke-width="0.2">1500</text>
<text x="382.92" y="532.1" font-family='"Liberation Serif", serif' font-size="9.2" fill="#111" text-anchor="middle" textLength="20.3" lengthAdjust="spacingAndGlyphs" stroke="#111" stroke-width="0.2">1600</text>
<text x="419.7" y="532.1" font-family='"Liberation Serif", serif' font-size="9.2" fill="#111" text-anchor="middle" textLength="20.3" lengthAdjust="spacingAndGlyphs" stroke="#111" stroke-width="0.2">1000</text>
<text x="471.74" y="532.1" font-family='"Liberation Serif", serif' font-size="9.2" fill="#111" text-anchor="middle" textLength="20.3" lengthAdjust="spacingAndGlyphs" stroke="#111" stroke-width="0.2">1200</text>
<text x="523.78" y="532.1" font-family='"Liberation Serif", serif' font-size="9.2" fill="#111" text-anchor="middle" textLength="20.3" lengthAdjust="spacingAndGlyphs" stroke="#111" stroke-width="0.2">1400</text>
<text x="575.82" y="532.1" font-family='"Liberation Serif", serif' font-size="9.2" fill="#111" text-anchor="middle" textLength="20.3" lengthAdjust="spacingAndGlyphs" stroke="#111" stroke-width="0.2">1600</text>
<text x="20.1" y="16.35" font-family='"Liberation Sans", sans-serif' font-size="9" fill="#111" text-anchor="end" stroke="#111" stroke-width="0.1">2</text>
<text x="20.1" y="40.95" font-family='"Liberation Sans", sans-serif' font-size="9" fill="#111" text-anchor="end" stroke="#111" stroke-width="0.1">1</text>
<text x="20.1" y="65.55" font-family='"Liberation Sans", sans-serif' font-size="9" fill="#111" text-anchor="end" stroke="#111" stroke-width="0.1">0</text>
<text x="20.1" y="90.15" font-family='"Liberation Sans", sans-serif' font-size="9" fill="#111" text-anchor="end" stroke="#111" stroke-width="0.1">&#8722;<tspan dx='0.9'>1</tspan></text>
<text x="20.1" y="114.75" font-family='"Liberation Sans", sans-serif' font-size="9" fill="#111" text-anchor="end" stroke="#111" stroke-width="0.1">&#8722;<tspan dx='0.9'>2</tspan></text>
<text x="20.1" y="154.3" font-family='"Liberation Serif", serif' font-size="9.4" fill="#111" text-anchor="end" stroke="#111" stroke-width="0.15">1</text>
<text x="20.1" y="188.5" font-family='"Liberation Serif", serif' font-size="9.4" fill="#111" text-anchor="end" stroke="#111" stroke-width="0.15">0</text>
<text x="20.1" y="222.7" font-family='"Liberation Serif", serif' font-size="9.4" fill="#111" text-anchor="end" stroke="#111" stroke-width="0.15">&#8722;1</text>
<text x="20.1" y="291.4" font-family='"Liberation Sans", sans-serif' font-size="9" fill="#111" text-anchor="end" stroke="#111" stroke-width="0.1">2</text>
<text x="20.1" y="315.95" font-family='"Liberation Sans", sans-serif' font-size="9" fill="#111" text-anchor="end" stroke="#111" stroke-width="0.1">1</text>
<text x="20.1" y="340.5" font-family='"Liberation Sans", sans-serif' font-size="9" fill="#111" text-anchor="end" stroke="#111" stroke-width="0.1">0</text>
<text x="20.1" y="365.05" font-family='"Liberation Sans", sans-serif' font-size="9" fill="#111" text-anchor="end" stroke="#111" stroke-width="0.1">&#8722;<tspan dx='0.9'>1</tspan></text>
<text x="20.1" y="389.6" font-family='"Liberation Sans", sans-serif' font-size="9" fill="#111" text-anchor="end" stroke="#111" stroke-width="0.1">&#8722;<tspan dx='0.9'>2</tspan></text>
<text x="20.1" y="429.4" font-family='"Liberation Serif", serif' font-size="9.4" fill="#111" text-anchor="end" stroke="#111" stroke-width="0.15">1</text>
<text x="20.1" y="463.5" font-family='"Liberation Serif", serif' font-size="9.4" fill="#111" text-anchor="end" stroke="#111" stroke-width="0.15">0</text>
<text x="20.1" y="497.6" font-family='"Liberation Serif", serif' font-size="9.4" fill="#111" text-anchor="end" stroke="#111" stroke-width="0.15">&#8722;1</text>
<g transform="translate(7.5,62) rotate(-90)">
<text x="-21" y="0.4" text-anchor="start" font-family='"Liberation Serif", serif' font-size="9" fill="#111" textLength="13.7" lengthAdjust="spacingAndGlyphs">&#916;<tspan font-size="5.6" dy="1.6">2</tspan><tspan dy="-1.6" font-style="italic">&#957;</tspan></text>
<text x="-2.3" y="-0.1" text-anchor="start" font-family='"Liberation Sans", sans-serif' font-size="6.7" fill="#111" textLength="23.3" lengthAdjust="spacingAndGlyphs" stroke="#111" stroke-width="0.1">(<tspan font-family='"Liberation Serif", serif' font-style="italic">&#956;</tspan>Hz)</text>
</g>
<g transform="translate(7.5,185) rotate(-90)">
<text x="-21" y="0.4" text-anchor="start" font-family='"Liberation Serif", serif' font-size="9" fill="#111" textLength="13.7" lengthAdjust="spacingAndGlyphs">&#916;<tspan font-size="5.6" dy="1.6">2</tspan><tspan dy="-1.6" font-style="italic">&#957;</tspan></text>
<text x="-2.3" y="-0.1" text-anchor="start" font-family='"Liberation Sans", sans-serif' font-size="6.7" fill="#111" textLength="23.3" lengthAdjust="spacingAndGlyphs" stroke="#111" stroke-width="0.1">(<tspan font-family='"Liberation Serif", serif' font-style="italic">&#956;</tspan>Hz)</text>
</g>
<g transform="translate(7.5,336.8) rotate(-90)">
<text x="-21" y="0.4" text-anchor="start" font-family='"Liberation Serif", serif' font-size="9" fill="#111" textLength="13.7" lengthAdjust="spacingAndGlyphs">&#916;<tspan font-size="5.6" dy="1.6">2</tspan><tspan dy="-1.6" font-style="italic">&#957;</tspan></text>
<text x="-2.3" y="-0.1" text-anchor="start" font-family='"Liberation Sans", sans-serif' font-size="6.7" fill="#111" textLength="23.3" lengthAdjust="spacingAndGlyphs" stroke="#111" stroke-width="0.1">(<tspan font-family='"Liberation Serif", serif' font-style="italic">&#956;</tspan>Hz)</text>
</g>
<g transform="translate(7.5,461) rotate(-90)">
<text x="-21" y="0.4" text-anchor="start" font-family='"Liberation Serif", serif' font-size="9" fill="#111" textLength="13.7" lengthAdjust="spacingAndGlyphs">&#916;<tspan font-size="5.6" dy="1.6">2</tspan><tspan dy="-1.6" font-style="italic">&#957;</tspan></text>
<text x="-2.3" y="-0.1" text-anchor="start" font-family='"Liberation Sans", sans-serif' font-size="6.7" fill="#111" textLength="23.3" lengthAdjust="spacingAndGlyphs" stroke="#111" stroke-width="0.1">(<tspan font-family='"Liberation Serif", serif' font-style="italic">&#956;</tspan>Hz)</text>
</g>
<text x="99.85" y="268.5" font-family='"Liberation Serif", serif' font-size="9.8" fill="#111" text-anchor="start" font-style="italic">&#957;</text>
<text x="109.35" y="268.5" font-family='"Liberation Serif", serif' font-size="9.6" fill="#111" text-anchor="start" textLength="24.8" lengthAdjust="spacingAndGlyphs">(<tspan font-style="italic">&#956;</tspan>Hz)</text>
<text x="291.85" y="268.5" font-family='"Liberation Serif", serif' font-size="9.8" fill="#111" text-anchor="start" font-style="italic">&#957;</text>
<text x="301.35" y="268.5" font-family='"Liberation Serif", serif' font-size="9.6" fill="#111" text-anchor="start" textLength="24.8" lengthAdjust="spacingAndGlyphs">(<tspan font-style="italic">&#956;</tspan>Hz)</text>
<text x="484.05" y="268.5" font-family='"Liberation Serif", serif' font-size="9.8" fill="#111" text-anchor="start" font-style="italic">&#957;</text>
<text x="493.55" y="268.5" font-family='"Liberation Serif", serif' font-size="9.6" fill="#111" text-anchor="start" textLength="24.8" lengthAdjust="spacingAndGlyphs">(<tspan font-style="italic">&#956;</tspan>Hz)</text>
<text x="99.85" y="542.5" font-family='"Liberation Serif", serif' font-size="9.8" fill="#111" text-anchor="start" font-style="italic">&#957;</text>
<text x="109.35" y="542.5" font-family='"Liberation Serif", serif' font-size="9.6" fill="#111" text-anchor="start" textLength="24.8" lengthAdjust="spacingAndGlyphs">(<tspan font-style="italic">&#956;</tspan>Hz)</text>
<text x="291.85" y="542.5" font-family='"Liberation Serif", serif' font-size="9.8" fill="#111" text-anchor="start" font-style="italic">&#957;</text>
<text x="301.35" y="542.5" font-family='"Liberation Serif", serif' font-size="9.6" fill="#111" text-anchor="start" textLength="24.8" lengthAdjust="spacingAndGlyphs">(<tspan font-style="italic">&#956;</tspan>Hz)</text>
<text x="484.05" y="542.5" font-family='"Liberation Serif", serif' font-size="9.8" fill="#111" text-anchor="start" font-style="italic">&#957;</text>
<text x="493.55" y="542.5" font-family='"Liberation Serif", serif' font-size="9.6" fill="#111" text-anchor="start" textLength="24.8" lengthAdjust="spacingAndGlyphs">(<tspan font-style="italic">&#956;</tspan>Hz)</text>
<text x="202.8" y="13.7" font-family='"Liberation Sans", sans-serif' font-size="10.05" fill="#111" text-anchor="end" textLength="51.5" lengthAdjust="spacingAndGlyphs" stroke="#111" stroke-width="0.08">KIC8006161</text>
<text x="395.6" y="13.7" font-family='"Liberation Sans", sans-serif' font-size="10.05" fill="#111" text-anchor="end" textLength="51.5" lengthAdjust="spacingAndGlyphs" stroke="#111" stroke-width="0.08">KIC6603624</text>
<text x="587.1" y="13.6" font-family='"Liberation Sans", sans-serif' font-size="10.05" fill="#111" text-anchor="end" textLength="57.2" lengthAdjust="spacingAndGlyphs" stroke="#111" stroke-width="0.08">KIC10963065</text>
<text x="203.9" y="288.9" font-family='"Liberation Sans", sans-serif' font-size="10.05" fill="#111" text-anchor="end" textLength="57.2" lengthAdjust="spacingAndGlyphs" stroke="#111" stroke-width="0.08">KIC12009504</text>
<text x="395.7" y="288.9" font-family='"Liberation Sans", sans-serif' font-size="10.05" fill="#111" text-anchor="end" textLength="51.5" lengthAdjust="spacingAndGlyphs" stroke="#111" stroke-width="0.08">KIC6933899</text>
<text x="417.4" y="288.9" font-family='"Liberation Sans", sans-serif' font-size="10.05" fill="#111" text-anchor="start" textLength="57.2" lengthAdjust="spacingAndGlyphs" stroke="#111" stroke-width="0.08">KIC11244118</text>
<text x="180" y="96.3" font-family='"Liberation Sans", sans-serif' font-size="8" fill="#e32a2a" text-anchor="start" textLength="14.2" lengthAdjust="spacingAndGlyphs" stroke="#e32a2a" stroke-width="0.15"><tspan font-family='"Liberation Serif", serif' font-style="italic">&#8467;</tspan>=0</text>
<text x="180.3" y="104.5" font-family='"Liberation Sans", sans-serif' font-size="8" fill="#111" text-anchor="start" textLength="13.8" lengthAdjust="spacingAndGlyphs" stroke="#111" stroke-width="0.15"><tspan font-family='"Liberation Serif", serif' font-style="italic">&#8467;</tspan>=1</text>
<text x="180.3" y="112.4" font-family='"Liberation Sans", sans-serif' font-size="8" fill="#1a1ae6" text-anchor="start" textLength="13.8" lengthAdjust="spacingAndGlyphs" stroke="#1a1ae6" stroke-width="0.15"><tspan font-family='"Liberation Serif", serif' font-style="italic">&#8467;</tspan>=2</text>
<line x1="173.3" y1="93.7" x2="178" y2="93.7" stroke="#e32a2a" stroke-width="1.4"/>
<line x1="175.65" y1="91.6" x2="175.65" y2="95.8" stroke="#e32a2a" stroke-width="1.4"/>
<line x1="173.6" y1="99.5" x2="177.9" y2="103.9" stroke="#111" stroke-width="1.3"/>
<line x1="173.6" y1="103.9" x2="177.9" y2="99.5" stroke="#111" stroke-width="1.3"/>
<path d="M175.8,107.6 L178.1,109.9 L175.8,112.2 L173.5,109.9 Z" fill="none" stroke="#1a1ae6" stroke-width="1.3"/>
<g clip-path="url(#c00t)">
<path d="M32.4,66.8 C34.5,66.38 40.02,65.27 45,64.3 C49.98,63.33 56.47,61.92 62.3,61 C68.13,60.08 73.72,59.47 80,58.8 C86.28,58.13 93.33,57.6 100,57 C106.67,56.4 112.5,55.75 120,55.2 C127.5,54.65 136.67,53.98 145,53.7 C153.33,53.42 160,53.57 170,53.5 C180,53.43 199.17,53.33 205,53.3" fill="none" stroke="#111" stroke-width="1.1" stroke-linecap="butt" stroke-linejoin="round" stroke-dasharray="5.6 6.3"/>
<path d="M32.4,53.3 C32.75,53.68 33.77,54.93 34.5,55.6 C35.23,56.27 36.08,57.13 36.8,57.3 C37.52,57.47 38.13,57.22 38.8,56.6 C39.47,55.98 40.1,54.98 40.8,53.6 C41.5,52.22 42.23,50.22 43,48.3 C43.77,46.38 44.35,44.43 45.4,42.1 C46.45,39.77 48,36.12 49.3,34.3 C50.6,32.48 52,31.42 53.2,31.2 C54.4,30.98 55.42,31.62 56.5,33 C57.58,34.38 58.52,36.68 59.7,39.5 C60.88,42.32 62.3,46.65 63.6,49.9 C64.9,53.15 66.23,56.48 67.5,59 C68.77,61.52 69.9,64.35 71.2,65 C72.5,65.65 73.97,64.33 75.3,62.9 C76.63,61.47 77.9,58.35 79.2,56.4 C80.5,54.45 82.02,52.23 83.1,51.2 C84.18,50.17 84.62,49.98 85.7,50.2 C86.78,50.42 88.3,51.03 89.6,52.5 C90.9,53.97 92.2,56.58 93.5,59 C94.8,61.42 95.95,64.43 97.4,67 C98.85,69.57 100.68,73.82 102.2,74.4 C103.72,74.98 104.95,72.67 106.5,70.5 C108.05,68.33 110,63.98 111.5,61.4 C113,58.82 114.22,56.57 115.5,55 C116.78,53.43 117.95,52.17 119.2,52 C120.45,51.83 121.7,52.72 123,54 C124.3,55.28 125.25,57.65 127,59.7 C128.75,61.75 131.67,65.83 133.5,66.3 C135.33,66.77 136.7,63.97 138,62.5 C139.3,61.03 140.22,59.33 141.3,57.5 C142.38,55.67 143.38,53.33 144.5,51.5 C145.62,49.67 146.75,47.68 148,46.5 C149.25,45.32 150.53,44.08 152,44.4 C153.47,44.72 155.2,46.63 156.8,48.4 C158.4,50.17 159.9,53.1 161.6,55 C163.3,56.9 165.2,59.8 167,59.8 C168.8,59.8 170.8,57 172.4,55 C174,53 174.9,49.7 176.6,47.8 C178.3,45.9 180.7,43.7 182.6,43.6 C184.5,43.5 186.3,45.5 188,47.2 C189.7,48.9 191.4,52 192.8,53.8 C194.2,55.6 195.2,57.1 196.4,58 C197.6,58.9 198.6,59.5 200,59.2 C201.4,58.9 204,56.7 204.8,56.2" fill="none" stroke="#111" stroke-width="1.1" stroke-linecap="butt" stroke-linejoin="round"/>
<line x1="38.3" y1="53.1" x2="38.3" y2="60.9" stroke="#e32a2a" stroke-width="1.0"/>
<line x1="37" y1="53.1" x2="39.6" y2="53.1" stroke="#e32a2a" stroke-width="1.0"/>
<line x1="37" y1="60.9" x2="39.6" y2="60.9" stroke="#e32a2a" stroke-width="1.0"/>
<line x1="36.7" y1="57" x2="39.9" y2="57" stroke="#e32a2a" stroke-width="1.1"/>
<line x1="48.7" y1="33.7" x2="48.7" y2="42.7" stroke="#111" stroke-width="1.0"/>
<line x1="47.4" y1="33.7" x2="50" y2="33.7" stroke="#111" stroke-width="1.0"/>
<line x1="47.4" y1="42.7" x2="50" y2="42.7" stroke="#111" stroke-width="1.0"/>
<line x1="47.1" y1="36.6" x2="50.3" y2="39.8" stroke="#111" stroke-width="1.1"/>
<line x1="47.1" y1="39.8" x2="50.3" y2="36.6" stroke="#111" stroke-width="1.1"/>
<line x1="57.8" y1="22.4" x2="57.8" y2="39.6" stroke="#1a1ae6" stroke-width="1.0"/>
<line x1="56.5" y1="22.4" x2="59.1" y2="22.4" stroke="#1a1ae6" stroke-width="1.0"/>
<line x1="56.5" y1="39.6" x2="59.1" y2="39.6" stroke="#1a1ae6" stroke-width="1.0"/>
<path d="M57.8,29 L59.8,31 L57.8,33 L55.8,31 Z" fill="#1a1ae6" stroke="#1a1ae6" stroke-width="0.6"/>
<line x1="59.1" y1="37.6" x2="59.1" y2="46.8" stroke="#e32a2a" stroke-width="1.0"/>
<line x1="57.8" y1="37.6" x2="60.4" y2="37.6" stroke="#e32a2a" stroke-width="1.0"/>
<line x1="57.8" y1="46.8" x2="60.4" y2="46.8" stroke="#e32a2a" stroke-width="1.0"/>
<line x1="57.5" y1="42.2" x2="60.7" y2="42.2" stroke="#e32a2a" stroke-width="1.1"/>
<line x1="69.5" y1="52.8" x2="69.5" y2="63.2" stroke="#111" stroke-width="1.0"/>
<line x1="68.2" y1="52.8" x2="70.8" y2="52.8" stroke="#111" stroke-width="1.0"/>
<line x1="68.2" y1="63.2" x2="70.8" y2="63.2" stroke="#111" stroke-width="1.0"/>
<line x1="67.9" y1="56.4" x2="71.1" y2="59.6" stroke="#111" stroke-width="1.1"/>
<line x1="67.9" y1="59.6" x2="71.1" y2="56.4" stroke="#111" stroke-width="1.1"/>
<line x1="80.6" y1="49.5" x2="80.6" y2="58.5" stroke="#e32a2a" stroke-width="1.0"/>
<line x1="79.3" y1="49.5" x2="81.9" y2="49.5" stroke="#e32a2a" stroke-width="1.0"/>
<line x1="79.3" y1="58.5" x2="81.9" y2="58.5" stroke="#e32a2a" stroke-width="1.0"/>
<line x1="79" y1="54" x2="82.2" y2="54" stroke="#e32a2a" stroke-width="1.1"/>
<line x1="78.8" y1="64.2" x2="78.8" y2="80.8" stroke="#1a1ae6" stroke-width="1.0"/>
<line x1="77.5" y1="64.2" x2="80.1" y2="64.2" stroke="#1a1ae6" stroke-width="1.0"/>
<line x1="77.5" y1="80.8" x2="80.1" y2="80.8" stroke="#1a1ae6" stroke-width="1.0"/>
<path d="M78.8,70.5 L80.8,72.5 L78.8,74.5 L76.8,72.5 Z" fill="#1a1ae6" stroke="#1a1ae6" stroke-width="0.6"/>
<line x1="90.8" y1="53.5" x2="90.8" y2="62.1" stroke="#111" stroke-width="1.0"/>
<line x1="89.5" y1="53.5" x2="92.1" y2="53.5" stroke="#111" stroke-width="1.0"/>
<line x1="89.5" y1="62.1" x2="92.1" y2="62.1" stroke="#111" stroke-width="1.0"/>
<line x1="89.2" y1="56.2" x2="92.4" y2="59.4" stroke="#111" stroke-width="1.1"/>
<line x1="89.2" y1="59.4" x2="92.4" y2="56.2" stroke="#111" stroke-width="1.1"/>
<line x1="100" y1="47.1" x2="100" y2="62.5" stroke="#1a1ae6" stroke-width="1.0"/>
<line x1="98.7" y1="47.1" x2="101.3" y2="47.1" stroke="#1a1ae6" stroke-width="1.0"/>
<line x1="98.7" y1="62.5" x2="101.3" y2="62.5" stroke="#1a1ae6" stroke-width="1.0"/>
<path d="M100,52.8 L102,54.8 L100,56.8 L98,54.8 Z" fill="#1a1ae6" stroke="#1a1ae6" stroke-width="0.6"/>
<line x1="101.6" y1="71.3" x2="101.6" y2="79.7" stroke="#e32a2a" stroke-width="1.0"/>
<line x1="100.3" y1="71.3" x2="102.9" y2="71.3" stroke="#e32a2a" stroke-width="1.0"/>
<line x1="100.3" y1="79.7" x2="102.9" y2="79.7" stroke="#e32a2a" stroke-width="1.0"/>
<line x1="100" y1="75.5" x2="103.2" y2="75.5" stroke="#e32a2a" stroke-width="1.1"/>
<line x1="111.5" y1="57.3" x2="111.5" y2="66.7" stroke="#111" stroke-width="1.0"/>
<line x1="110.2" y1="57.3" x2="112.8" y2="57.3" stroke="#111" stroke-width="1.0"/>
<line x1="110.2" y1="66.7" x2="112.8" y2="66.7" stroke="#111" stroke-width="1.0"/>
<line x1="109.9" y1="60.4" x2="113.1" y2="63.6" stroke="#111" stroke-width="1.1"/>
<line x1="109.9" y1="63.6" x2="113.1" y2="60.4" stroke="#111" stroke-width="1.1"/>
<line x1="122.6" y1="45.3" x2="122.6" y2="53.7" stroke="#e32a2a" stroke-width="1.0"/>
<line x1="121.3" y1="45.3" x2="123.9" y2="45.3" stroke="#e32a2a" stroke-width="1.0"/>
<line x1="121.3" y1="53.7" x2="123.9" y2="53.7" stroke="#e32a2a" stroke-width="1.0"/>
<line x1="121" y1="49.5" x2="124.2" y2="49.5" stroke="#e32a2a" stroke-width="1.1"/>
<line x1="121.5" y1="59.1" x2="121.5" y2="73.5" stroke="#1a1ae6" stroke-width="1.0"/>
<line x1="120.2" y1="59.1" x2="122.8" y2="59.1" stroke="#1a1ae6" stroke-width="1.0"/>
<line x1="120.2" y1="73.5" x2="122.8" y2="73.5" stroke="#1a1ae6" stroke-width="1.0"/>
<path d="M121.5,64.3 L123.5,66.3 L121.5,68.3 L119.5,66.3 Z" fill="#1a1ae6" stroke="#1a1ae6" stroke-width="0.6"/>
<line x1="133" y1="67.6" x2="133" y2="76.4" stroke="#111" stroke-width="1.0"/>
<line x1="131.7" y1="67.6" x2="134.3" y2="67.6" stroke="#111" stroke-width="1.0"/>
<line x1="131.7" y1="76.4" x2="134.3" y2="76.4" stroke="#111" stroke-width="1.0"/>
<line x1="131.4" y1="70.4" x2="134.6" y2="73.6" stroke="#111" stroke-width="1.1"/>
<line x1="131.4" y1="73.6" x2="134.6" y2="70.4" stroke="#111" stroke-width="1.1"/>
<line x1="143.8" y1="46.5" x2="143.8" y2="56.5" stroke="#e32a2a" stroke-width="1.0"/>
<line x1="142.5" y1="46.5" x2="145.1" y2="46.5" stroke="#e32a2a" stroke-width="1.0"/>
<line x1="142.5" y1="56.5" x2="145.1" y2="56.5" stroke="#e32a2a" stroke-width="1.0"/>
<line x1="142.2" y1="51.5" x2="145.4" y2="51.5" stroke="#e32a2a" stroke-width="1.1"/>
<line x1="154.4" y1="40.4" x2="154.4" y2="51.6" stroke="#111" stroke-width="1.0"/>
<line x1="153.1" y1="40.4" x2="155.7" y2="40.4" stroke="#111" stroke-width="1.0"/>
<line x1="153.1" y1="51.6" x2="155.7" y2="51.6" stroke="#111" stroke-width="1.0"/>
<line x1="152.8" y1="44.4" x2="156" y2="47.6" stroke="#111" stroke-width="1.1"/>
<line x1="152.8" y1="47.6" x2="156" y2="44.4" stroke="#111" stroke-width="1.1"/>
<line x1="175.4" y1="35.6" x2="175.4" y2="48.4" stroke="#111" stroke-width="1.0"/>
<line x1="174.1" y1="35.6" x2="176.7" y2="35.6" stroke="#111" stroke-width="1.0"/>
<line x1="174.1" y1="48.4" x2="176.7" y2="48.4" stroke="#111" stroke-width="1.0"/>
<line x1="173.8" y1="40.4" x2="177" y2="43.6" stroke="#111" stroke-width="1.1"/>
<line x1="173.8" y1="43.6" x2="177" y2="40.4" stroke="#111" stroke-width="1.1"/>
<line x1="197" y1="57" x2="197" y2="68" stroke="#111" stroke-width="1.0"/>
<line x1="195.7" y1="57" x2="198.3" y2="57" stroke="#111" stroke-width="1.0"/>
<line x1="195.7" y1="68" x2="198.3" y2="68" stroke="#111" stroke-width="1.0"/>
<line x1="195.4" y1="60.9" x2="198.6" y2="64.1" stroke="#111" stroke-width="1.1"/>
<line x1="195.4" y1="64.1" x2="198.6" y2="60.9" stroke="#111" stroke-width="1.1"/>
</g>
<g clip-path="url(#c00b)">
<path d="M32.2,167.3 C33,167 35.12,165.97 37,165.5 C38.88,165.03 41.5,164.5 43.5,164.5 C45.5,164.5 47.08,164.9 49,165.5 C50.92,166.1 53.17,167.1 55,168.1 C56.83,169.1 58.33,170.27 60,171.5 C61.67,172.73 63.33,174.17 65,175.5 C66.67,176.83 68.35,178.25 70,179.5 C71.65,180.75 73.27,181.88 74.9,183 C76.53,184.12 78.15,185.23 79.8,186.2 C81.45,187.17 83.15,188 84.8,188.8 C86.45,189.6 88.05,190.37 89.7,191 C91.35,191.63 92.77,192.15 94.7,192.6 C96.63,193.05 99.42,193.55 101.3,193.7 C103.18,193.85 104.33,193.63 106,193.5 C107.67,193.37 109.63,193.22 111.3,192.9 C112.97,192.58 114.12,192.18 116,191.6 C117.88,191.02 120.4,190.15 122.6,189.4 C124.8,188.65 127,187.83 129.2,187.1 C131.4,186.37 133.6,185.63 135.8,185 C138,184.37 140.2,183.75 142.4,183.3 C144.6,182.85 146.78,182.57 149,182.3 C151.22,182.03 152.93,181.87 155.7,181.7 C158.47,181.53 162.88,181.28 165.6,181.3 C168.32,181.32 169.8,181.58 172,181.8 C174.2,182.02 176.57,182.32 178.8,182.6 C181.03,182.88 183.2,183.22 185.4,183.5 C187.6,183.78 189.9,184.05 192,184.3 C194.1,184.55 195.93,184.8 198,185 C200.07,185.2 203.33,185.42 204.4,185.5" fill="none" stroke="#111" stroke-width="1.1" stroke-linecap="butt" stroke-linejoin="round"/>
<path d="M32.2,174.4 C34,174.47 39.2,174.62 43,174.8 C46.8,174.98 51.67,175.05 55,175.5 C58.33,175.95 60.23,176.53 63,177.5 C65.77,178.47 68.77,180.22 71.6,181.3 C74.43,182.38 77.27,183.25 80,184 C82.73,184.75 85.27,185.28 88,185.8 C90.73,186.32 93.23,186.68 96.4,187.1 C99.57,187.52 103.4,188.02 107,188.3 C110.6,188.58 114.85,188.72 118,188.8 C121.15,188.88 122.73,188.9 125.9,188.8 C129.07,188.7 133.15,188.4 137,188.2 C140.85,188 145.17,187.8 149,187.6 C152.83,187.4 156.42,187.22 160,187 C163.58,186.78 167.17,186.55 170.5,186.3 C173.83,186.05 176.68,185.83 180,185.5 C183.32,185.17 186.33,184.45 190.4,184.3 C194.47,184.15 202.07,184.55 204.4,184.6" fill="none" stroke="#111" stroke-width="1.1" stroke-linecap="butt" stroke-linejoin="round" stroke-dasharray="1.2 3.3"/>
<path d="M32.2,195.4 C32.58,196.33 33.72,199.48 34.5,201 C35.28,202.52 36.07,204.33 36.9,204.5 C37.73,204.67 38.4,203.93 39.5,202 C40.6,200.07 42.33,196.07 43.5,192.9 C44.67,189.73 45.53,186.03 46.5,183 C47.47,179.97 48.47,177.03 49.3,174.7 C50.13,172.37 50.82,170.23 51.5,169 C52.18,167.77 52.65,167.13 53.4,167.3 C54.15,167.47 54.9,168.22 56,170 C57.1,171.78 58.5,174.18 60,178 C61.5,181.82 63.75,189.48 65,192.9 C66.25,196.32 66.68,197.12 67.5,198.5 C68.32,199.88 69.07,201.12 69.9,201.2 C70.73,201.28 71.57,200.53 72.5,199 C73.43,197.47 74.55,194.4 75.5,192 C76.45,189.6 76.92,187.77 78.2,184.6 C79.48,181.43 82.07,175.43 83.2,173 C84.33,170.57 84.32,170.6 85,170 C85.68,169.4 86.47,168.98 87.3,169.4 C88.13,169.82 89.03,171.07 90,172.5 C90.97,173.93 91.77,174.6 93.1,178 C94.43,181.4 96.85,189.65 98,192.9 C99.15,196.15 99.3,196.4 100,197.5 C100.7,198.6 101.37,199.58 102.2,199.5 C103.03,199.42 103.77,198.92 105,197 C106.23,195.08 108.27,190.83 109.6,188 C110.93,185.17 111.93,182.42 113,180 C114.07,177.58 115.08,174.97 116,173.5 C116.92,172.03 117.67,171 118.5,171.2 C119.33,171.4 120,173.07 121,174.7 C122,176.33 123.4,178.52 124.5,181 C125.6,183.48 126.52,187.13 127.6,189.6 C128.68,192.07 129.9,194.42 131,195.8 C132.1,197.18 133.12,198.03 134.2,197.9 C135.28,197.77 136.4,196.67 137.5,195 C138.6,193.33 139.28,191 140.8,187.9 C142.32,184.8 145.23,178.72 146.6,176.4 C147.97,174.08 148.18,174.57 149,174 C149.82,173.43 150.58,172.75 151.5,173 C152.42,173.25 153.53,174.12 154.5,175.5 C155.47,176.88 156,178.68 157.3,181.3 C158.6,183.92 161.1,188.92 162.3,191.2 C163.5,193.48 163.82,194.12 164.5,195 C165.18,195.88 165.65,196.58 166.4,196.5 C167.15,196.42 168.03,195.65 169,194.5 C169.97,193.35 170.83,192.22 172.2,189.6 C173.57,186.98 175.9,181.07 177.2,178.8 C178.5,176.53 179.03,176.68 180,176 C180.97,175.32 182,174.7 183,174.7 C184,174.7 185.05,175.17 186,176 C186.95,176.83 187.42,177.43 188.7,179.7 C189.98,181.97 192.4,187.3 193.7,189.6 C195,191.9 195.53,192.68 196.5,193.5 C197.47,194.32 198.58,194.58 199.5,194.5 C200.42,194.42 201.18,193.68 202,193 C202.82,192.32 204,190.83 204.4,190.4" fill="none" stroke="#111" stroke-width="1.1" stroke-linecap="butt" stroke-linejoin="round" stroke-dasharray="6 2.2 1.1 2.2"/>
</g>
<g clip-path="url(#c01t)">
<path d="M228.7,55 C232.25,55.17 243.12,55.67 250,56 C256.88,56.33 261.67,56.62 270,57 C278.33,57.38 290,58.05 300,58.3 C310,58.55 320,58.47 330,58.5 C340,58.53 351.67,58.45 360,58.5 C368.33,58.55 376.67,58.75 380,58.8" fill="none" stroke="#111" stroke-width="1.1" stroke-linecap="butt" stroke-linejoin="round" stroke-dasharray="5.6 6.3"/>
<path d="M228.7,87.7 C229.3,87.33 231.08,87.1 232.3,85.5 C233.52,83.9 234.77,80.8 236,78.1 C237.23,75.4 238.47,71.73 239.7,69.3 C240.93,66.87 242.18,64.92 243.4,63.5 C244.62,62.08 245.67,61.42 247,60.8 C248.33,60.18 250.05,60.33 251.4,59.8 C252.75,59.27 254,58.83 255.1,57.6 C256.2,56.37 257.02,54.6 258,52.4 C258.98,50.2 260.02,46.6 261,44.4 C261.98,42.2 262.8,40.48 263.9,39.2 C265,37.92 266.37,36.7 267.6,36.7 C268.83,36.7 270.08,37.68 271.3,39.2 C272.52,40.72 273.57,44.08 274.9,45.8 C276.23,47.52 277.83,48.77 279.3,49.5 C280.77,50.23 282.23,50.27 283.7,50.2 C285.17,50.13 286.75,49.1 288.1,49.1 C289.45,49.1 290.68,49.47 291.8,50.2 C292.92,50.93 293.82,52.03 294.8,53.5 C295.78,54.97 296.83,57.33 297.7,59 C298.57,60.67 299.23,62.08 300,63.5 C300.77,64.92 301.3,66.72 302.3,67.5 C303.3,68.28 304.62,68.7 306,68.2 C307.38,67.7 309.07,65.57 310.6,64.5 C312.13,63.43 313.67,62.03 315.2,61.8 C316.73,61.57 318.27,62.58 319.8,63.1 C321.33,63.62 323.03,64.67 324.4,64.9 C325.77,65.13 326.63,65.32 328,64.5 C329.37,63.68 331.22,61.68 332.6,60 C333.98,58.32 334.92,55.63 336.3,54.4 C337.68,53.17 339.37,52.6 340.9,52.6 C342.43,52.6 343.98,53.48 345.5,54.4 C347.02,55.32 348.48,57.57 350,58.1 C351.52,58.63 353.07,58.12 354.6,57.6 C356.13,57.08 357.67,55.43 359.2,55 C360.73,54.57 362.27,54.38 363.8,55 C365.33,55.62 366.72,57.42 368.4,58.7 C370.08,59.98 371.92,61.88 373.9,62.7 C375.88,63.52 378.62,63.97 380.3,63.6 C381.98,63.23 382.77,61.27 384,60.5 C385.23,59.73 387.08,59.25 387.7,59" fill="none" stroke="#111" stroke-width="1.1" stroke-linecap="butt" stroke-linejoin="round"/>
<line x1="241.4" y1="61.4" x2="241.4" y2="75" stroke="#111" stroke-width="1.0"/>
<line x1="240.1" y1="61.4" x2="242.7" y2="61.4" stroke="#111" stroke-width="1.0"/>
<line x1="240.1" y1="75" x2="242.7" y2="75" stroke="#111" stroke-width="1.0"/>
<line x1="239.8" y1="66.6" x2="243" y2="69.8" stroke="#111" stroke-width="1.1"/>
<line x1="239.8" y1="69.8" x2="243" y2="66.6" stroke="#111" stroke-width="1.1"/>
<line x1="249.7" y1="46.9" x2="249.7" y2="65.9" stroke="#1a1ae6" stroke-width="1.0"/>
<line x1="248.4" y1="46.9" x2="251" y2="46.9" stroke="#1a1ae6" stroke-width="1.0"/>
<line x1="248.4" y1="65.9" x2="251" y2="65.9" stroke="#1a1ae6" stroke-width="1.0"/>
<path d="M249.7,54.4 L251.7,56.4 L249.7,58.4 L247.7,56.4 Z" fill="#1a1ae6" stroke="#1a1ae6" stroke-width="0.6"/>
<line x1="250.7" y1="65.3" x2="250.7" y2="80.7" stroke="#e32a2a" stroke-width="1.0"/>
<line x1="249.4" y1="65.3" x2="252" y2="65.3" stroke="#e32a2a" stroke-width="1.0"/>
<line x1="249.4" y1="80.7" x2="252" y2="80.7" stroke="#e32a2a" stroke-width="1.0"/>
<line x1="249.1" y1="73" x2="252.3" y2="73" stroke="#e32a2a" stroke-width="1.1"/>
<line x1="258.8" y1="38.4" x2="258.8" y2="53.8" stroke="#111" stroke-width="1.0"/>
<line x1="257.5" y1="38.4" x2="260.1" y2="38.4" stroke="#111" stroke-width="1.0"/>
<line x1="257.5" y1="53.8" x2="260.1" y2="53.8" stroke="#111" stroke-width="1.0"/>
<line x1="257.2" y1="44.5" x2="260.4" y2="47.7" stroke="#111" stroke-width="1.1"/>
<line x1="257.2" y1="47.7" x2="260.4" y2="44.5" stroke="#111" stroke-width="1.1"/>
<line x1="267.9" y1="22.6" x2="267.9" y2="34.2" stroke="#e32a2a" stroke-width="1.0"/>
<line x1="266.6" y1="22.6" x2="269.2" y2="22.6" stroke="#e32a2a" stroke-width="1.0"/>
<line x1="266.6" y1="34.2" x2="269.2" y2="34.2" stroke="#e32a2a" stroke-width="1.0"/>
<line x1="266.3" y1="28.4" x2="269.5" y2="28.4" stroke="#e32a2a" stroke-width="1.1"/>
<line x1="267.1" y1="29.8" x2="267.1" y2="45.8" stroke="#1a1ae6" stroke-width="1.0"/>
<line x1="265.8" y1="29.8" x2="268.4" y2="29.8" stroke="#1a1ae6" stroke-width="1.0"/>
<line x1="265.8" y1="45.8" x2="268.4" y2="45.8" stroke="#1a1ae6" stroke-width="1.0"/>
<path d="M267.1,35.8 L269.1,37.8 L267.1,39.8 L265.1,37.8 Z" fill="#1a1ae6" stroke="#1a1ae6" stroke-width="0.6"/>
<line x1="276.1" y1="44.1" x2="276.1" y2="52.9" stroke="#111" stroke-width="1.0"/>
<line x1="274.8" y1="44.1" x2="277.4" y2="44.1" stroke="#111" stroke-width="1.0"/>
<line x1="274.8" y1="52.9" x2="277.4" y2="52.9" stroke="#111" stroke-width="1.0"/>
<line x1="274.5" y1="46.9" x2="277.7" y2="50.1" stroke="#111" stroke-width="1.1"/>
<line x1="274.5" y1="50.1" x2="277.7" y2="46.9" stroke="#111" stroke-width="1.1"/>
<line x1="284.2" y1="45.8" x2="284.2" y2="54.6" stroke="#1a1ae6" stroke-width="1.0"/>
<line x1="282.9" y1="45.8" x2="285.5" y2="45.8" stroke="#1a1ae6" stroke-width="1.0"/>
<line x1="282.9" y1="54.6" x2="285.5" y2="54.6" stroke="#1a1ae6" stroke-width="1.0"/>
<path d="M284.2,48.2 L286.2,50.2 L284.2,52.2 L282.2,50.2 Z" fill="#1a1ae6" stroke="#1a1ae6" stroke-width="0.6"/>
<line x1="284.8" y1="48.9" x2="284.8" y2="58.1" stroke="#e32a2a" stroke-width="1.0"/>
<line x1="283.5" y1="48.9" x2="286.1" y2="48.9" stroke="#e32a2a" stroke-width="1.0"/>
<line x1="283.5" y1="58.1" x2="286.1" y2="58.1" stroke="#e32a2a" stroke-width="1.0"/>
<line x1="283.2" y1="53.5" x2="286.4" y2="53.5" stroke="#e32a2a" stroke-width="1.1"/>
<line x1="293.6" y1="48.4" x2="293.6" y2="56.4" stroke="#111" stroke-width="1.0"/>
<line x1="292.3" y1="48.4" x2="294.9" y2="48.4" stroke="#111" stroke-width="1.0"/>
<line x1="292.3" y1="56.4" x2="294.9" y2="56.4" stroke="#111" stroke-width="1.0"/>
<line x1="292" y1="50.8" x2="295.2" y2="54" stroke="#111" stroke-width="1.1"/>
<line x1="292" y1="54" x2="295.2" y2="50.8" stroke="#111" stroke-width="1.1"/>
<line x1="301.4" y1="59.5" x2="301.4" y2="69.5" stroke="#1a1ae6" stroke-width="1.0"/>
<line x1="300.1" y1="59.5" x2="302.7" y2="59.5" stroke="#1a1ae6" stroke-width="1.0"/>
<line x1="300.1" y1="69.5" x2="302.7" y2="69.5" stroke="#1a1ae6" stroke-width="1.0"/>
<path d="M301.4,62.5 L303.4,64.5 L301.4,66.5 L299.4,64.5 Z" fill="#1a1ae6" stroke="#1a1ae6" stroke-width="0.6"/>
<line x1="302.3" y1="61.1" x2="302.3" y2="71.7" stroke="#e32a2a" stroke-width="1.0"/>
<line x1="301" y1="61.1" x2="303.6" y2="61.1" stroke="#e32a2a" stroke-width="1.0"/>
<line x1="301" y1="71.7" x2="303.6" y2="71.7" stroke="#e32a2a" stroke-width="1.0"/>
<line x1="300.7" y1="66.4" x2="303.9" y2="66.4" stroke="#e32a2a" stroke-width="1.1"/>
<line x1="311.1" y1="60.5" x2="311.1" y2="67.9" stroke="#111" stroke-width="1.0"/>
<line x1="309.8" y1="60.5" x2="312.4" y2="60.5" stroke="#111" stroke-width="1.0"/>
<line x1="309.8" y1="67.9" x2="312.4" y2="67.9" stroke="#111" stroke-width="1.0"/>
<line x1="309.5" y1="62.6" x2="312.7" y2="65.8" stroke="#111" stroke-width="1.1"/>
<line x1="309.5" y1="65.8" x2="312.7" y2="62.6" stroke="#111" stroke-width="1.1"/>
<line x1="319.4" y1="60.2" x2="319.4" y2="68.2" stroke="#1a1ae6" stroke-width="1.0"/>
<line x1="318.1" y1="60.2" x2="320.7" y2="60.2" stroke="#1a1ae6" stroke-width="1.0"/>
<line x1="318.1" y1="68.2" x2="320.7" y2="68.2" stroke="#1a1ae6" stroke-width="1.0"/>
<path d="M319.4,62.2 L321.4,64.2 L319.4,66.2 L317.4,64.2 Z" fill="#1a1ae6" stroke="#1a1ae6" stroke-width="0.6"/>
<line x1="320.1" y1="60.3" x2="320.1" y2="69.5" stroke="#e32a2a" stroke-width="1.0"/>
<line x1="318.8" y1="60.3" x2="321.4" y2="60.3" stroke="#e32a2a" stroke-width="1.0"/>
<line x1="318.8" y1="69.5" x2="321.4" y2="69.5" stroke="#e32a2a" stroke-width="1.0"/>
<line x1="318.5" y1="64.9" x2="321.7" y2="64.9" stroke="#e32a2a" stroke-width="1.1"/>
<line x1="328.4" y1="63" x2="328.4" y2="71" stroke="#111" stroke-width="1.0"/>
<line x1="327.1" y1="63" x2="329.7" y2="63" stroke="#111" stroke-width="1.0"/>
<line x1="327.1" y1="71" x2="329.7" y2="71" stroke="#111" stroke-width="1.0"/>
<line x1="326.8" y1="65.4" x2="330" y2="68.6" stroke="#111" stroke-width="1.1"/>
<line x1="326.8" y1="68.6" x2="330" y2="65.4" stroke="#111" stroke-width="1.1"/>
<line x1="337.2" y1="47.8" x2="337.2" y2="59.2" stroke="#e32a2a" stroke-width="1.0"/>
<line x1="335.9" y1="47.8" x2="338.5" y2="47.8" stroke="#e32a2a" stroke-width="1.0"/>
<line x1="335.9" y1="59.2" x2="338.5" y2="59.2" stroke="#e32a2a" stroke-width="1.0"/>
<line x1="335.6" y1="53.5" x2="338.8" y2="53.5" stroke="#e32a2a" stroke-width="1.1"/>
<line x1="336.8" y1="50.8" x2="336.8" y2="61.8" stroke="#1a1ae6" stroke-width="1.0"/>
<line x1="335.5" y1="50.8" x2="338.1" y2="50.8" stroke="#1a1ae6" stroke-width="1.0"/>
<line x1="335.5" y1="61.8" x2="338.1" y2="61.8" stroke="#1a1ae6" stroke-width="1.0"/>
<path d="M336.8,54.3 L338.8,56.3 L336.8,58.3 L334.8,56.3 Z" fill="#1a1ae6" stroke="#1a1ae6" stroke-width="0.6"/>
<line x1="346" y1="45.6" x2="346" y2="54.2" stroke="#111" stroke-width="1.0"/>
<line x1="344.7" y1="45.6" x2="347.3" y2="45.6" stroke="#111" stroke-width="1.0"/>
<line x1="344.7" y1="54.2" x2="347.3" y2="54.2" stroke="#111" stroke-width="1.0"/>
<line x1="344.4" y1="48.3" x2="347.6" y2="51.5" stroke="#111" stroke-width="1.1"/>
<line x1="344.4" y1="51.5" x2="347.6" y2="48.3" stroke="#111" stroke-width="1.1"/>
<line x1="354.6" y1="43.9" x2="354.6" y2="57.7" stroke="#e32a2a" stroke-width="1.0"/>
<line x1="353.3" y1="43.9" x2="355.9" y2="43.9" stroke="#e32a2a" stroke-width="1.0"/>
<line x1="353.3" y1="57.7" x2="355.9" y2="57.7" stroke="#e32a2a" stroke-width="1.0"/>
<line x1="353" y1="50.8" x2="356.2" y2="50.8" stroke="#e32a2a" stroke-width="1.1"/>
<line x1="354.1" y1="52.3" x2="354.1" y2="60.3" stroke="#1a1ae6" stroke-width="1.0"/>
<line x1="352.8" y1="52.3" x2="355.4" y2="52.3" stroke="#1a1ae6" stroke-width="1.0"/>
<line x1="352.8" y1="60.3" x2="355.4" y2="60.3" stroke="#1a1ae6" stroke-width="1.0"/>
<path d="M354.1,54.3 L356.1,56.3 L354.1,58.3 L352.1,56.3 Z" fill="#1a1ae6" stroke="#1a1ae6" stroke-width="0.6"/>
<line x1="363.4" y1="56.5" x2="363.4" y2="67.1" stroke="#111" stroke-width="1.0"/>
<line x1="362.1" y1="56.5" x2="364.7" y2="56.5" stroke="#111" stroke-width="1.0"/>
<line x1="362.1" y1="67.1" x2="364.7" y2="67.1" stroke="#111" stroke-width="1.0"/>
<line x1="361.8" y1="60.2" x2="365" y2="63.4" stroke="#111" stroke-width="1.1"/>
<line x1="361.8" y1="63.4" x2="365" y2="60.2" stroke="#111" stroke-width="1.1"/>
<line x1="380.9" y1="32" x2="380.9" y2="61.8" stroke="#111" stroke-width="1.0"/>
<line x1="379.6" y1="32" x2="382.2" y2="32" stroke="#111" stroke-width="1.0"/>
<line x1="379.6" y1="61.8" x2="382.2" y2="61.8" stroke="#111" stroke-width="1.0"/>
<line x1="379.3" y1="45.3" x2="382.5" y2="48.5" stroke="#111" stroke-width="1.1"/>
<line x1="379.3" y1="48.5" x2="382.5" y2="45.3" stroke="#111" stroke-width="1.1"/>
</g>
<g clip-path="url(#c01b)">
<path d="M228.5,212.4 C229.67,211.63 233.23,209.95 235.5,207.8 C237.77,205.65 239.9,203.08 242.1,199.5 C244.3,195.92 246.5,190.43 248.7,186.3 C250.9,182.17 253.1,177.73 255.3,174.7 C257.5,171.67 259.7,169.62 261.9,168.1 C264.1,166.58 266.28,165.6 268.5,165.6 C270.72,165.6 272.98,166.45 275.2,168.1 C277.42,169.75 279.6,172.75 281.8,175.5 C284,178.25 286.2,181.83 288.4,184.6 C290.6,187.37 292.8,190.17 295,192.1 C297.2,194.03 299.43,195.23 301.6,196.2 C303.77,197.17 305.55,198.18 308,197.9 C310.45,197.62 313.55,196.02 316.3,194.5 C319.05,192.98 321.75,190.72 324.5,188.8 C327.25,186.88 330.03,184.67 332.8,183 C335.57,181.33 338.48,179.68 341.1,178.8 C343.72,177.92 346.03,177.7 348.5,177.7 C350.97,177.7 353.28,178.07 355.9,178.8 C358.52,179.53 361.43,180.85 364.2,182.1 C366.97,183.35 369.75,185.18 372.5,186.3 C375.25,187.42 378.23,188.3 380.7,188.8 C383.17,189.3 386.2,189.22 387.3,189.3" fill="none" stroke="#111" stroke-width="1.1" stroke-linecap="butt" stroke-linejoin="round"/>
<path d="M228.5,192.9 C231.58,192.22 241.15,190.6 247,188.8 C252.85,187 257.53,183.77 263.6,182.1 C269.67,180.43 276.78,178.93 283.4,178.8 C290.02,178.67 298.87,180.52 303.3,181.3 C307.73,182.08 306.47,182.4 310,183.5 C313.53,184.6 319.32,187.1 324.5,187.9 C329.68,188.7 335.58,188.35 341.1,188.3 C346.62,188.25 352.1,187.88 357.6,187.6 C363.1,187.32 369.15,187.1 374.1,186.6 C379.05,186.1 385.1,184.93 387.3,184.6" fill="none" stroke="#111" stroke-width="1.1" stroke-linecap="butt" stroke-linejoin="round" stroke-dasharray="1.2 3.3"/>
<path d="M228.5,192.9 C228.83,193.17 229.2,195.88 230.5,194.5 C231.8,193.12 234.23,187.57 236.3,184.6 C238.37,181.63 240.83,176.7 242.9,176.7 C244.97,176.7 246.77,181.95 248.7,184.6 C250.63,187.25 252.57,192.87 254.5,192.6 C256.43,192.33 258.23,185.48 260.3,183 C262.37,180.52 264.83,177.28 266.9,177.7 C268.97,178.12 270.63,183.25 272.7,185.5 C274.77,187.75 277.23,191.35 279.3,191.2 C281.37,191.05 283.17,186.67 285.1,184.6 C287.03,182.53 288.98,178.93 290.9,178.8 C292.82,178.67 294.53,181.87 296.6,183.8 C298.67,185.73 301.4,190.27 303.3,190.4 C305.2,190.53 306.38,186.38 308,184.6 C309.62,182.82 311.07,179.83 313,179.7 C314.93,179.57 317.4,182.28 319.6,183.8 C321.8,185.32 324,188.8 326.2,188.8 C328.4,188.8 330.6,185.38 332.8,183.8 C335,182.22 337.33,179.17 339.4,179.3 C341.47,179.43 343.27,182.88 345.2,184.6 C347.13,186.32 348.93,189.32 351,189.6 C353.07,189.88 355.68,187.73 357.6,186.3 C359.52,184.87 360.57,181.42 362.5,181 C364.43,180.58 366.98,182.65 369.2,183.8 C371.42,184.95 373.6,187.77 375.8,187.9 C378,188.03 380.48,185.7 382.4,184.6 C384.32,183.5 386.48,181.85 387.3,181.3" fill="none" stroke="#111" stroke-width="1.1" stroke-linecap="butt" stroke-linejoin="round" stroke-dasharray="6 2.2 1.1 2.2"/>
</g>
<g clip-path="url(#c02t)">
<path d="M416.7,46.2 C420.58,46.83 432.45,48.87 440,50 C447.55,51.13 455.33,52.17 462,53 C468.67,53.83 473.67,54.42 480,55 C486.33,55.58 491.33,56.03 500,56.5 C508.67,56.97 524.33,57.42 532,57.8 C539.67,58.18 541.33,58.48 546,58.8 C550.67,59.12 552.88,59.28 560,59.7 C567.12,60.12 583.92,61.03 588.7,61.3" fill="none" stroke="#111" stroke-width="1.1" stroke-linecap="butt" stroke-linejoin="round" stroke-dasharray="5.6 6.3"/>
<path d="M416.7,27.9 C417.18,30.63 418.63,38.35 419.6,44.3 C420.57,50.25 421.53,57.5 422.5,63.6 C423.47,69.7 424.27,75.6 425.4,80.9 C426.53,86.2 428.02,94.75 429.3,95.4 C430.58,96.05 431.82,88.5 433.1,84.8 C434.38,81.1 435.72,77.05 437,73.2 C438.28,69.35 439.52,64.27 440.8,61.7 C442.08,59.13 443.42,57.48 444.7,57.8 C445.98,58.12 447.22,61.03 448.5,63.6 C449.78,66.17 451.27,70.95 452.4,73.2 C453.53,75.45 454.18,77.73 455.3,77.1 C456.42,76.47 457.82,73.25 459.1,69.4 C460.38,65.55 461.87,58.82 463,54 C464.13,49.18 464.98,44.67 465.9,40.5 C466.82,36.33 467.7,32.22 468.5,29 C469.3,25.78 469.85,23.2 470.7,21.2 C471.55,19.2 472.63,17.32 473.6,17 C474.57,16.68 475.55,17.63 476.5,19.3 C477.45,20.97 478.35,24.12 479.3,27 C480.25,29.88 481.23,33.4 482.2,36.6 C483.17,39.8 484.03,43.63 485.1,46.2 C486.17,48.77 487.47,51.83 488.6,52 C489.73,52.17 490.72,48.8 491.9,47.2 C493.08,45.6 494.42,43.47 495.7,42.4 C496.98,41.33 498.32,40.48 499.6,40.8 C500.88,41.12 502.12,42.1 503.4,44.3 C504.68,46.5 506.02,50.15 507.3,54 C508.58,57.85 509.82,63.23 511.1,67.4 C512.38,71.57 513.87,76.37 515,79 C516.13,81.63 516.78,82.88 517.9,83.2 C519.02,83.52 520.42,83.2 521.7,80.9 C522.98,78.6 524.3,73.3 525.6,69.4 C526.9,65.5 528.15,60.4 529.5,57.5 C530.85,54.6 532.35,52.43 533.7,52 C535.05,51.57 536.3,53.45 537.6,54.9 C538.9,56.35 540.05,58.93 541.5,60.7 C542.95,62.47 544.7,65.67 546.3,65.5 C547.9,65.33 549.5,62.27 551.1,59.7 C552.7,57.13 554.45,52.73 555.9,50.1 C557.35,47.47 558.83,45.12 559.8,43.9 C560.77,42.68 560.75,42.57 561.7,42.8 C562.65,43.03 564.22,43.45 565.5,45.3 C566.78,47.15 568.12,50.53 569.4,53.9 C570.68,57.27 571.92,62.43 573.2,65.5 C574.48,68.57 576.13,71.08 577.1,72.3 C578.07,73.52 578.03,73.45 579,72.8 C579.97,72.15 581.77,69.78 582.9,68.4 C584.03,67.02 584.83,65.78 585.8,64.5 C586.77,63.22 588.22,61.33 588.7,60.7" fill="none" stroke="#111" stroke-width="1.1" stroke-linecap="butt" stroke-linejoin="round"/>
<line x1="421.6" y1="48.1" x2="421.6" y2="65.5" stroke="#e32a2a" stroke-width="1.0"/>
<line x1="420.3" y1="48.1" x2="422.9" y2="48.1" stroke="#e32a2a" stroke-width="1.0"/>
<line x1="420.3" y1="65.5" x2="422.9" y2="65.5" stroke="#e32a2a" stroke-width="1.0"/>
<line x1="420" y1="56.8" x2="423.2" y2="56.8" stroke="#e32a2a" stroke-width="1.1"/>
<line x1="429.3" y1="64.7" x2="429.3" y2="98.5" stroke="#111" stroke-width="1.0"/>
<line x1="428" y1="64.7" x2="430.6" y2="64.7" stroke="#111" stroke-width="1.0"/>
<line x1="428" y1="98.5" x2="430.6" y2="98.5" stroke="#111" stroke-width="1.0"/>
<line x1="427.7" y1="80" x2="430.9" y2="83.2" stroke="#111" stroke-width="1.1"/>
<line x1="427.7" y1="83.2" x2="430.9" y2="80" stroke="#111" stroke-width="1.1"/>
<line x1="438.5" y1="58.8" x2="438.5" y2="78" stroke="#e32a2a" stroke-width="1.0"/>
<line x1="437.2" y1="58.8" x2="439.8" y2="58.8" stroke="#e32a2a" stroke-width="1.0"/>
<line x1="437.2" y1="78" x2="439.8" y2="78" stroke="#e32a2a" stroke-width="1.0"/>
<line x1="436.9" y1="68.4" x2="440.1" y2="68.4" stroke="#e32a2a" stroke-width="1.1"/>
<line x1="446" y1="57.8" x2="446" y2="82.8" stroke="#111" stroke-width="1.0"/>
<line x1="444.7" y1="57.8" x2="447.3" y2="57.8" stroke="#111" stroke-width="1.0"/>
<line x1="444.7" y1="82.8" x2="447.3" y2="82.8" stroke="#111" stroke-width="1.0"/>
<line x1="444.4" y1="68.7" x2="447.6" y2="71.9" stroke="#111" stroke-width="1.1"/>
<line x1="444.4" y1="71.9" x2="447.6" y2="68.7" stroke="#111" stroke-width="1.1"/>
<line x1="455.3" y1="66" x2="455.3" y2="83" stroke="#e32a2a" stroke-width="1.0"/>
<line x1="454" y1="66" x2="456.6" y2="66" stroke="#e32a2a" stroke-width="1.0"/>
<line x1="454" y1="83" x2="456.6" y2="83" stroke="#e32a2a" stroke-width="1.0"/>
<line x1="453.7" y1="74.5" x2="456.9" y2="74.5" stroke="#e32a2a" stroke-width="1.1"/>
<line x1="463" y1="39.5" x2="463" y2="56.9" stroke="#111" stroke-width="1.0"/>
<line x1="461.7" y1="39.5" x2="464.3" y2="39.5" stroke="#111" stroke-width="1.0"/>
<line x1="461.7" y1="56.9" x2="464.3" y2="56.9" stroke="#111" stroke-width="1.0"/>
<line x1="461.4" y1="46.6" x2="464.6" y2="49.8" stroke="#111" stroke-width="1.1"/>
<line x1="461.4" y1="49.8" x2="464.6" y2="46.6" stroke="#111" stroke-width="1.1"/>
<line x1="470.6" y1="8.8" x2="470.6" y2="40.6" stroke="#1a1ae6" stroke-width="1.0"/>
<line x1="469.3" y1="8.8" x2="471.9" y2="8.8" stroke="#1a1ae6" stroke-width="1.0"/>
<line x1="469.3" y1="40.6" x2="471.9" y2="40.6" stroke="#1a1ae6" stroke-width="1.0"/>
<path d="M470.6,22.7 L472.6,24.7 L470.6,26.7 L468.6,24.7 Z" fill="#1a1ae6" stroke="#1a1ae6" stroke-width="0.6"/>
<line x1="472" y1="16.3" x2="472" y2="33.7" stroke="#e32a2a" stroke-width="1.0"/>
<line x1="470.7" y1="16.3" x2="473.3" y2="16.3" stroke="#e32a2a" stroke-width="1.0"/>
<line x1="470.7" y1="33.7" x2="473.3" y2="33.7" stroke="#e32a2a" stroke-width="1.0"/>
<line x1="470.4" y1="25" x2="473.6" y2="25" stroke="#e32a2a" stroke-width="1.1"/>
<line x1="479.8" y1="17.8" x2="479.8" y2="35.2" stroke="#111" stroke-width="1.0"/>
<line x1="478.5" y1="17.8" x2="481.1" y2="17.8" stroke="#111" stroke-width="1.0"/>
<line x1="478.5" y1="35.2" x2="481.1" y2="35.2" stroke="#111" stroke-width="1.0"/>
<line x1="478.2" y1="24.9" x2="481.4" y2="28.1" stroke="#111" stroke-width="1.1"/>
<line x1="478.2" y1="28.1" x2="481.4" y2="24.9" stroke="#111" stroke-width="1.1"/>
<line x1="487.5" y1="19.3" x2="487.5" y2="49.1" stroke="#1a1ae6" stroke-width="1.0"/>
<line x1="486.2" y1="19.3" x2="488.8" y2="19.3" stroke="#1a1ae6" stroke-width="1.0"/>
<line x1="486.2" y1="49.1" x2="488.8" y2="49.1" stroke="#1a1ae6" stroke-width="1.0"/>
<path d="M487.5,32.2 L489.5,34.2 L487.5,36.2 L485.5,34.2 Z" fill="#1a1ae6" stroke="#1a1ae6" stroke-width="0.6"/>
<line x1="489" y1="45.5" x2="489" y2="63.5" stroke="#e32a2a" stroke-width="1.0"/>
<line x1="487.7" y1="45.5" x2="490.3" y2="45.5" stroke="#e32a2a" stroke-width="1.0"/>
<line x1="487.7" y1="63.5" x2="490.3" y2="63.5" stroke="#e32a2a" stroke-width="1.0"/>
<line x1="487.4" y1="54.5" x2="490.6" y2="54.5" stroke="#e32a2a" stroke-width="1.1"/>
<line x1="496.8" y1="38" x2="496.8" y2="55.4" stroke="#111" stroke-width="1.0"/>
<line x1="495.5" y1="38" x2="498.1" y2="38" stroke="#111" stroke-width="1.0"/>
<line x1="495.5" y1="55.4" x2="498.1" y2="55.4" stroke="#111" stroke-width="1.0"/>
<line x1="495.2" y1="45.1" x2="498.4" y2="48.3" stroke="#111" stroke-width="1.1"/>
<line x1="495.2" y1="48.3" x2="498.4" y2="45.1" stroke="#111" stroke-width="1.1"/>
<line x1="505.9" y1="35.3" x2="505.9" y2="53.3" stroke="#e32a2a" stroke-width="1.0"/>
<line x1="504.6" y1="35.3" x2="507.2" y2="35.3" stroke="#e32a2a" stroke-width="1.0"/>
<line x1="504.6" y1="53.3" x2="507.2" y2="53.3" stroke="#e32a2a" stroke-width="1.0"/>
<line x1="504.3" y1="44.3" x2="507.5" y2="44.3" stroke="#e32a2a" stroke-width="1.1"/>
<line x1="504.8" y1="38.6" x2="504.8" y2="63.6" stroke="#1a1ae6" stroke-width="1.0"/>
<line x1="503.5" y1="38.6" x2="506.1" y2="38.6" stroke="#1a1ae6" stroke-width="1.0"/>
<line x1="503.5" y1="63.6" x2="506.1" y2="63.6" stroke="#1a1ae6" stroke-width="1.0"/>
<path d="M504.8,49.1 L506.8,51.1 L504.8,53.1 L502.8,51.1 Z" fill="#1a1ae6" stroke="#1a1ae6" stroke-width="0.6"/>
<line x1="514" y1="79" x2="514" y2="96.4" stroke="#111" stroke-width="1.0"/>
<line x1="512.7" y1="79" x2="515.3" y2="79" stroke="#111" stroke-width="1.0"/>
<line x1="512.7" y1="96.4" x2="515.3" y2="96.4" stroke="#111" stroke-width="1.0"/>
<line x1="512.4" y1="86.1" x2="515.6" y2="89.3" stroke="#111" stroke-width="1.1"/>
<line x1="512.4" y1="89.3" x2="515.6" y2="86.1" stroke="#111" stroke-width="1.1"/>
<line x1="522.3" y1="50.7" x2="522.3" y2="72.7" stroke="#1a1ae6" stroke-width="1.0"/>
<line x1="521" y1="50.7" x2="523.6" y2="50.7" stroke="#1a1ae6" stroke-width="1.0"/>
<line x1="521" y1="72.7" x2="523.6" y2="72.7" stroke="#1a1ae6" stroke-width="1.0"/>
<path d="M522.3,59.7 L524.3,61.7 L522.3,63.7 L520.3,61.7 Z" fill="#1a1ae6" stroke="#1a1ae6" stroke-width="0.6"/>
<line x1="523.3" y1="81.3" x2="523.3" y2="96.7" stroke="#e32a2a" stroke-width="1.0"/>
<line x1="522" y1="81.3" x2="524.6" y2="81.3" stroke="#e32a2a" stroke-width="1.0"/>
<line x1="522" y1="96.7" x2="524.6" y2="96.7" stroke="#e32a2a" stroke-width="1.0"/>
<line x1="521.7" y1="89" x2="524.9" y2="89" stroke="#e32a2a" stroke-width="1.1"/>
<line x1="531.2" y1="25.5" x2="531.2" y2="43.9" stroke="#111" stroke-width="1.0"/>
<line x1="529.9" y1="25.5" x2="532.5" y2="25.5" stroke="#111" stroke-width="1.0"/>
<line x1="529.9" y1="43.9" x2="532.5" y2="43.9" stroke="#111" stroke-width="1.0"/>
<line x1="529.6" y1="33.1" x2="532.8" y2="36.3" stroke="#111" stroke-width="1.1"/>
<line x1="529.6" y1="36.3" x2="532.8" y2="33.1" stroke="#111" stroke-width="1.1"/>
<line x1="540.1" y1="45.3" x2="540.1" y2="58.7" stroke="#e32a2a" stroke-width="1.0"/>
<line x1="538.8" y1="45.3" x2="541.4" y2="45.3" stroke="#e32a2a" stroke-width="1.0"/>
<line x1="538.8" y1="58.7" x2="541.4" y2="58.7" stroke="#e32a2a" stroke-width="1.0"/>
<line x1="538.5" y1="52" x2="541.7" y2="52" stroke="#e32a2a" stroke-width="1.1"/>
<line x1="548.2" y1="67.4" x2="548.2" y2="82.8" stroke="#111" stroke-width="1.0"/>
<line x1="546.9" y1="67.4" x2="549.5" y2="67.4" stroke="#111" stroke-width="1.0"/>
<line x1="546.9" y1="82.8" x2="549.5" y2="82.8" stroke="#111" stroke-width="1.0"/>
<line x1="546.6" y1="73.5" x2="549.8" y2="76.7" stroke="#111" stroke-width="1.1"/>
<line x1="546.6" y1="76.7" x2="549.8" y2="73.5" stroke="#111" stroke-width="1.1"/>
<line x1="556.9" y1="28.4" x2="556.9" y2="44.8" stroke="#e32a2a" stroke-width="1.0"/>
<line x1="555.6" y1="28.4" x2="558.2" y2="28.4" stroke="#e32a2a" stroke-width="1.0"/>
<line x1="555.6" y1="44.8" x2="558.2" y2="44.8" stroke="#e32a2a" stroke-width="1.0"/>
<line x1="555.3" y1="36.6" x2="558.5" y2="36.6" stroke="#e32a2a" stroke-width="1.1"/>
<line x1="565.5" y1="35.6" x2="565.5" y2="53" stroke="#111" stroke-width="1.0"/>
<line x1="564.2" y1="35.6" x2="566.8" y2="35.6" stroke="#111" stroke-width="1.0"/>
<line x1="564.2" y1="53" x2="566.8" y2="53" stroke="#111" stroke-width="1.0"/>
<line x1="563.9" y1="42.7" x2="567.1" y2="45.9" stroke="#111" stroke-width="1.1"/>
<line x1="563.9" y1="45.9" x2="567.1" y2="42.7" stroke="#111" stroke-width="1.1"/>
<line x1="574.2" y1="75.6" x2="574.2" y2="101.6" stroke="#e32a2a" stroke-width="1.0"/>
<line x1="572.9" y1="75.6" x2="575.5" y2="75.6" stroke="#e32a2a" stroke-width="1.0"/>
<line x1="572.9" y1="101.6" x2="575.5" y2="101.6" stroke="#e32a2a" stroke-width="1.0"/>
<line x1="572.6" y1="88.6" x2="575.8" y2="88.6" stroke="#e32a2a" stroke-width="1.1"/>
<line x1="582.9" y1="66.5" x2="582.9" y2="91.5" stroke="#111" stroke-width="1.0"/>
<line x1="581.6" y1="66.5" x2="584.2" y2="66.5" stroke="#111" stroke-width="1.0"/>
<line x1="581.6" y1="91.5" x2="584.2" y2="91.5" stroke="#111" stroke-width="1.0"/>
<line x1="581.3" y1="77.4" x2="584.5" y2="80.6" stroke="#111" stroke-width="1.1"/>
<line x1="581.3" y1="80.6" x2="584.5" y2="77.4" stroke="#111" stroke-width="1.1"/>
</g>
<g clip-path="url(#c02b)">
<path d="M417,180.9 C417.62,182.73 419.48,188.53 420.7,191.9 C421.92,195.27 422.77,198.05 424.3,201.1 C425.83,204.15 428.28,207.97 429.9,210.2 C431.52,212.43 432.63,213.33 434,214.5 C435.37,215.67 436.35,217.3 438.1,217.2 C439.85,217.1 442.52,215.67 444.5,213.9 C446.48,212.13 448.17,209.65 450,206.6 C451.83,203.55 453.67,199.88 455.5,195.6 C457.33,191.32 459.15,185.35 461,180.9 C462.85,176.45 464.75,172.27 466.6,168.9 C468.45,165.53 470.12,162.53 472.1,160.7 C474.08,158.87 476.37,157.9 478.5,157.9 C480.63,157.9 482.92,159.02 484.9,160.7 C486.88,162.38 488.57,164.95 490.4,168 C492.23,171.05 494.3,175.63 495.9,179 C497.5,182.37 498.4,185.13 500,188.2 C501.6,191.27 503.67,194.65 505.5,197.4 C507.33,200.15 509.02,203.08 511,204.7 C512.98,206.32 515.25,207.25 517.4,207.1 C519.55,206.95 521.6,206.03 523.9,203.8 C526.2,201.57 528.77,197.22 531.2,193.7 C533.63,190.18 536.05,186.07 538.5,182.7 C540.95,179.33 543.82,175.53 545.9,173.5 C547.98,171.47 549.32,171.27 551,170.5 C552.68,169.73 553.8,168.7 556,168.9 C558.2,169.1 561.6,169.7 564.2,171.7 C566.8,173.7 569.15,178 571.6,180.9 C574.05,183.8 576,186.6 578.9,189.1 C581.8,191.6 587.32,194.77 589,195.9" fill="none" stroke="#111" stroke-width="1.1" stroke-linecap="butt" stroke-linejoin="round"/>
<path d="M417,190 C419.15,190.62 425.62,193.15 429.9,193.7 C434.18,194.25 438.12,194.07 442.7,193.3 C447.28,192.53 452.5,190.62 457.4,189.1 C462.3,187.58 467.22,185.72 472.1,184.2 C476.98,182.68 482.05,181.17 486.7,180 C491.35,178.83 495.95,177.05 500,177.2 C504.05,177.35 507.02,179.68 511,180.9 C514.98,182.12 519.62,183.28 523.9,184.5 C528.18,185.72 532.43,187.12 536.7,188.2 C540.97,189.28 545.22,190.7 549.5,191 C553.78,191.3 558.42,190.47 562.4,190 C566.38,189.53 570.03,189.12 573.4,188.2 C576.77,187.28 580,185.7 582.6,184.5 C585.2,183.3 587.93,181.58 589,181" fill="none" stroke="#111" stroke-width="1.1" stroke-linecap="butt" stroke-linejoin="round" stroke-dasharray="1.2 3.3"/>
<path d="M417,157.9 C417.62,160.82 419.48,168.52 420.7,175.4 C421.92,182.28 423.08,192.63 424.3,199.2 C425.52,205.77 426.77,213.27 428,214.8 C429.23,216.33 430.32,213.13 431.7,208.4 C433.08,203.67 434.92,193.43 436.3,186.4 C437.68,179.37 438.78,171.1 440,166.2 C441.22,161.3 442.38,157 443.6,157 C444.82,157 445.92,161 447.3,166.2 C448.68,171.4 450.07,180.87 451.9,188.2 C453.73,195.53 456.47,208.97 458.3,210.2 C460.13,211.43 461.37,201.72 462.9,195.6 C464.43,189.48 465.97,179.17 467.5,173.5 C469.03,167.83 470.58,162.82 472.1,161.6 C473.62,160.38 475.08,162.38 476.6,166.2 C478.12,170.02 479.52,177.93 481.2,184.5 C482.88,191.07 485.02,203.15 486.7,205.6 C488.38,208.05 489.62,203.93 491.3,199.2 C492.98,194.47 495.35,182.48 496.8,177.2 C498.25,171.92 499,169.48 500,167.5 C501,165.52 501.58,163.98 502.8,165.3 C504.02,166.62 505.78,170.67 507.3,175.4 C508.82,180.13 510.22,189.12 511.9,193.7 C513.58,198.28 515.4,203.52 517.4,202.9 C519.4,202.28 522.07,195.2 523.9,190 C525.73,184.8 526.93,175.3 528.4,171.7 C529.87,168.1 531.17,167.33 532.7,168.4 C534.23,169.47 536.02,173.88 537.6,178.1 C539.18,182.32 540.67,190.12 542.2,193.7 C543.73,197.28 545.12,200.22 546.8,199.6 C548.48,198.98 550.62,193.88 552.3,190 C553.98,186.12 555.37,179.5 556.9,176.3 C558.43,173.1 559.97,170.35 561.5,170.8 C563.03,171.25 564.42,175.48 566.1,179 C567.78,182.52 569.77,188.68 571.6,191.9 C573.43,195.12 575.27,198.92 577.1,198.3 C578.93,197.68 580.62,192.33 582.6,188.2 C584.58,184.07 587.93,175.95 589,173.5" fill="none" stroke="#111" stroke-width="1.1" stroke-linecap="butt" stroke-linejoin="round" stroke-dasharray="6 2.2 1.1 2.2"/>
</g>
<g clip-path="url(#c10t)">
<path d="M22.5,312.4 C23.55,312.97 26.72,314.62 28.8,315.8 C30.88,316.98 32.72,318.18 35,319.5 C37.28,320.82 38.98,322.05 42.5,323.7 C46.02,325.35 51.93,328.07 56.1,329.4 C60.27,330.73 64.85,331.17 67.5,331.7 C70.15,332.23 68.55,332.12 72,332.6 C75.45,333.08 82.47,334.12 88.2,334.6 C93.93,335.08 100.35,335.35 106.4,335.5 C112.45,335.65 119.23,335.65 124.5,335.5 C129.77,335.35 132.92,334.93 138,334.6 C143.08,334.27 148.75,333.98 155,333.5 C161.25,333.02 168.87,332.2 175.5,331.7 C182.13,331.2 189.68,331 194.8,330.5 C199.92,330 203.33,329.12 206.2,328.7 C209.07,328.28 211.03,328.12 212,328" fill="none" stroke="#111" stroke-width="1.1" stroke-linecap="butt" stroke-linejoin="round" stroke-dasharray="5.6 6.3"/>
<path d="M26.1,297.6 C26.57,298.92 27.78,301.52 28.9,305.5 C30.02,309.48 31.57,315.82 32.8,321.5 C34.03,327.18 35.13,333.93 36.3,339.6 C37.47,345.27 38.48,350.23 39.8,355.5 C41.12,360.77 42.58,367.08 44.2,371.2 C45.82,375.32 47.9,379.02 49.5,380.2 C51.1,381.38 52.32,380.52 53.8,378.3 C55.28,376.08 56.88,371.83 58.4,366.9 C59.92,361.97 61.38,354.38 62.9,348.7 C64.42,343.02 65.98,337.92 67.5,332.8 C69.02,327.68 70.67,321.63 72,318 C73.33,314.37 74.23,312.6 75.5,311 C76.77,309.4 78.23,308.5 79.6,308.4 C80.97,308.3 82.25,309 83.7,310.4 C85.15,311.8 86.75,314.65 88.3,316.8 C89.85,318.95 91.43,321.55 93,323.3 C94.57,325.05 96.33,326.53 97.7,327.3 C99.07,328.07 99.85,328.28 101.2,327.9 C102.55,327.52 104.25,326.65 105.8,325 C107.35,323.35 108.93,320.23 110.5,318 C112.07,315.77 113.55,313.35 115.2,311.6 C116.85,309.85 118.85,307.88 120.4,307.5 C121.95,307.12 123.03,307.93 124.5,309.3 C125.97,310.67 127.65,312.88 129.2,315.7 C130.75,318.52 132.45,322.7 133.8,326.2 C135.15,329.7 136.03,333.02 137.3,336.7 C138.57,340.38 140.15,345.17 141.4,348.3 C142.65,351.43 143.47,353.53 144.8,355.5 C146.13,357.47 147.7,359.9 149.4,360.1 C151.1,360.3 153.12,358.78 155,356.7 C156.88,354.62 158.62,351.28 160.7,347.6 C162.78,343.92 165.7,337.95 167.5,334.6 C169.3,331.25 170.25,329.12 171.5,327.5 C172.75,325.88 173.83,325.18 175,324.9 C176.17,324.62 177.25,324.98 178.5,325.8 C179.75,326.62 181.17,328.35 182.5,329.8 C183.83,331.25 185.17,333.08 186.5,334.5 C187.83,335.92 188.85,337.42 190.5,338.3 C192.15,339.18 194.43,339.92 196.4,339.8 C198.37,339.68 200.47,339.2 202.3,337.6 C204.13,336 205.73,332.67 207.4,330.2 C209.07,327.73 211.48,324.03 212.3,322.8" fill="none" stroke="#111" stroke-width="1.1" stroke-linecap="butt" stroke-linejoin="round"/>
<line x1="30.6" y1="285.5" x2="30.6" y2="378.7" stroke="#1a1ae6" stroke-width="1.0"/>
<line x1="29.3" y1="285.5" x2="31.9" y2="285.5" stroke="#1a1ae6" stroke-width="1.0"/>
<line x1="29.3" y1="378.7" x2="31.9" y2="378.7" stroke="#1a1ae6" stroke-width="1.0"/>
<path d="M30.6,330.1 L32.6,332.1 L30.6,334.1 L28.6,332.1 Z" fill="#1a1ae6" stroke="#1a1ae6" stroke-width="0.6"/>
<line x1="31.5" y1="289.2" x2="31.5" y2="309.6" stroke="#e32a2a" stroke-width="1.0"/>
<line x1="30.2" y1="289.2" x2="32.8" y2="289.2" stroke="#e32a2a" stroke-width="1.0"/>
<line x1="30.2" y1="309.6" x2="32.8" y2="309.6" stroke="#e32a2a" stroke-width="1.0"/>
<line x1="29.9" y1="299.4" x2="33.1" y2="299.4" stroke="#e32a2a" stroke-width="1.1"/>
<line x1="40.2" y1="366.4" x2="40.2" y2="389.6" stroke="#111" stroke-width="1.0"/>
<line x1="38.9" y1="366.4" x2="41.5" y2="366.4" stroke="#111" stroke-width="1.0"/>
<line x1="38.9" y1="389.6" x2="41.5" y2="389.6" stroke="#111" stroke-width="1.0"/>
<line x1="38.6" y1="376.4" x2="41.8" y2="379.6" stroke="#111" stroke-width="1.1"/>
<line x1="38.6" y1="379.6" x2="41.8" y2="376.4" stroke="#111" stroke-width="1.1"/>
<line x1="49.3" y1="362.4" x2="49.3" y2="429.2" stroke="#1a1ae6" stroke-width="1.0"/>
<line x1="48" y1="362.4" x2="50.6" y2="362.4" stroke="#1a1ae6" stroke-width="1.0"/>
<line x1="48" y1="429.2" x2="50.6" y2="429.2" stroke="#1a1ae6" stroke-width="1.0"/>
<path d="M49.3,393.8 L51.3,395.8 L49.3,397.8 L47.3,395.8 Z" fill="#1a1ae6" stroke="#1a1ae6" stroke-width="0.6"/>
<line x1="50.4" y1="376" x2="50.4" y2="396.4" stroke="#e32a2a" stroke-width="1.0"/>
<line x1="49.1" y1="376" x2="51.7" y2="376" stroke="#e32a2a" stroke-width="1.0"/>
<line x1="49.1" y1="396.4" x2="51.7" y2="396.4" stroke="#e32a2a" stroke-width="1.0"/>
<line x1="48.8" y1="386.2" x2="52" y2="386.2" stroke="#e32a2a" stroke-width="1.1"/>
<line x1="58.8" y1="333.3" x2="58.8" y2="354.3" stroke="#111" stroke-width="1.0"/>
<line x1="57.5" y1="333.3" x2="60.1" y2="333.3" stroke="#111" stroke-width="1.0"/>
<line x1="57.5" y1="354.3" x2="60.1" y2="354.3" stroke="#111" stroke-width="1.0"/>
<line x1="57.2" y1="342.2" x2="60.4" y2="345.4" stroke="#111" stroke-width="1.1"/>
<line x1="57.2" y1="345.4" x2="60.4" y2="342.2" stroke="#111" stroke-width="1.1"/>
<line x1="67.5" y1="298" x2="67.5" y2="354" stroke="#1a1ae6" stroke-width="1.0"/>
<line x1="66.2" y1="298" x2="68.8" y2="298" stroke="#1a1ae6" stroke-width="1.0"/>
<line x1="66.2" y1="354" x2="68.8" y2="354" stroke="#1a1ae6" stroke-width="1.0"/>
<path d="M67.5,324 L69.5,326 L67.5,328 L65.5,326 Z" fill="#1a1ae6" stroke="#1a1ae6" stroke-width="0.6"/>
<line x1="69" y1="330" x2="69" y2="354.4" stroke="#e32a2a" stroke-width="1.0"/>
<line x1="67.7" y1="330" x2="70.3" y2="330" stroke="#e32a2a" stroke-width="1.0"/>
<line x1="67.7" y1="354.4" x2="70.3" y2="354.4" stroke="#e32a2a" stroke-width="1.0"/>
<line x1="67.4" y1="342.2" x2="70.6" y2="342.2" stroke="#e32a2a" stroke-width="1.1"/>
<line x1="76.7" y1="311" x2="76.7" y2="334.4" stroke="#111" stroke-width="1.0"/>
<line x1="75.4" y1="311" x2="78" y2="311" stroke="#111" stroke-width="1.0"/>
<line x1="75.4" y1="334.4" x2="78" y2="334.4" stroke="#111" stroke-width="1.0"/>
<line x1="75.1" y1="321.1" x2="78.3" y2="324.3" stroke="#111" stroke-width="1.1"/>
<line x1="75.1" y1="324.3" x2="78.3" y2="321.1" stroke="#111" stroke-width="1.1"/>
<line x1="86.6" y1="293.5" x2="86.6" y2="318.5" stroke="#e32a2a" stroke-width="1.0"/>
<line x1="85.3" y1="293.5" x2="87.9" y2="293.5" stroke="#e32a2a" stroke-width="1.0"/>
<line x1="85.3" y1="318.5" x2="87.9" y2="318.5" stroke="#e32a2a" stroke-width="1.0"/>
<line x1="85" y1="306" x2="88.2" y2="306" stroke="#e32a2a" stroke-width="1.1"/>
<line x1="85.8" y1="295.2" x2="85.8" y2="346.6" stroke="#1a1ae6" stroke-width="1.0"/>
<line x1="84.5" y1="295.2" x2="87.1" y2="295.2" stroke="#1a1ae6" stroke-width="1.0"/>
<line x1="84.5" y1="346.6" x2="87.1" y2="346.6" stroke="#1a1ae6" stroke-width="1.0"/>
<path d="M85.8,318.9 L87.8,320.9 L85.8,322.9 L83.8,320.9 Z" fill="#1a1ae6" stroke="#1a1ae6" stroke-width="0.6"/>
<line x1="95.6" y1="304.6" x2="95.6" y2="324.4" stroke="#111" stroke-width="1.0"/>
<line x1="94.3" y1="304.6" x2="96.9" y2="304.6" stroke="#111" stroke-width="1.0"/>
<line x1="94.3" y1="324.4" x2="96.9" y2="324.4" stroke="#111" stroke-width="1.0"/>
<line x1="94" y1="312.9" x2="97.2" y2="316.1" stroke="#111" stroke-width="1.1"/>
<line x1="94" y1="316.1" x2="97.2" y2="312.9" stroke="#111" stroke-width="1.1"/>
<line x1="104.1" y1="303.1" x2="104.1" y2="337.5" stroke="#1a1ae6" stroke-width="1.0"/>
<line x1="102.8" y1="303.1" x2="105.4" y2="303.1" stroke="#1a1ae6" stroke-width="1.0"/>
<line x1="102.8" y1="337.5" x2="105.4" y2="337.5" stroke="#1a1ae6" stroke-width="1.0"/>
<path d="M104.1,318.3 L106.1,320.3 L104.1,322.3 L102.1,320.3 Z" fill="#1a1ae6" stroke="#1a1ae6" stroke-width="0.6"/>
<line x1="105" y1="314.5" x2="105" y2="334.9" stroke="#e32a2a" stroke-width="1.0"/>
<line x1="103.7" y1="314.5" x2="106.3" y2="314.5" stroke="#e32a2a" stroke-width="1.0"/>
<line x1="103.7" y1="334.9" x2="106.3" y2="334.9" stroke="#e32a2a" stroke-width="1.0"/>
<line x1="103.4" y1="324.7" x2="106.6" y2="324.7" stroke="#e32a2a" stroke-width="1.1"/>
<line x1="114" y1="310.5" x2="114" y2="329.1" stroke="#111" stroke-width="1.0"/>
<line x1="112.7" y1="310.5" x2="115.3" y2="310.5" stroke="#111" stroke-width="1.0"/>
<line x1="112.7" y1="329.1" x2="115.3" y2="329.1" stroke="#111" stroke-width="1.0"/>
<line x1="112.4" y1="318.2" x2="115.6" y2="321.4" stroke="#111" stroke-width="1.1"/>
<line x1="112.4" y1="321.4" x2="115.6" y2="318.2" stroke="#111" stroke-width="1.1"/>
<line x1="122.5" y1="297.2" x2="122.5" y2="324.4" stroke="#1a1ae6" stroke-width="1.0"/>
<line x1="121.2" y1="297.2" x2="123.8" y2="297.2" stroke="#1a1ae6" stroke-width="1.0"/>
<line x1="121.2" y1="324.4" x2="123.8" y2="324.4" stroke="#1a1ae6" stroke-width="1.0"/>
<path d="M122.5,308.8 L124.5,310.8 L122.5,312.8 L120.5,310.8 Z" fill="#1a1ae6" stroke="#1a1ae6" stroke-width="0.6"/>
<line x1="123.4" y1="301.7" x2="123.4" y2="322.7" stroke="#e32a2a" stroke-width="1.0"/>
<line x1="122.1" y1="301.7" x2="124.7" y2="301.7" stroke="#e32a2a" stroke-width="1.0"/>
<line x1="122.1" y1="322.7" x2="124.7" y2="322.7" stroke="#e32a2a" stroke-width="1.0"/>
<line x1="121.8" y1="312.2" x2="125" y2="312.2" stroke="#e32a2a" stroke-width="1.1"/>
<line x1="132.9" y1="313.6" x2="132.9" y2="330.6" stroke="#111" stroke-width="1.0"/>
<line x1="131.6" y1="313.6" x2="134.2" y2="313.6" stroke="#111" stroke-width="1.0"/>
<line x1="131.6" y1="330.6" x2="134.2" y2="330.6" stroke="#111" stroke-width="1.0"/>
<line x1="131.3" y1="320.5" x2="134.5" y2="323.7" stroke="#111" stroke-width="1.1"/>
<line x1="131.3" y1="323.7" x2="134.5" y2="320.5" stroke="#111" stroke-width="1.1"/>
<line x1="141.4" y1="321.9" x2="141.4" y2="349.1" stroke="#1a1ae6" stroke-width="1.0"/>
<line x1="140.1" y1="321.9" x2="142.7" y2="321.9" stroke="#1a1ae6" stroke-width="1.0"/>
<line x1="140.1" y1="349.1" x2="142.7" y2="349.1" stroke="#1a1ae6" stroke-width="1.0"/>
<path d="M141.4,333.5 L143.4,335.5 L141.4,337.5 L139.4,335.5 Z" fill="#1a1ae6" stroke="#1a1ae6" stroke-width="0.6"/>
<line x1="142.5" y1="340.8" x2="142.5" y2="361.2" stroke="#e32a2a" stroke-width="1.0"/>
<line x1="141.2" y1="340.8" x2="143.8" y2="340.8" stroke="#e32a2a" stroke-width="1.0"/>
<line x1="141.2" y1="361.2" x2="143.8" y2="361.2" stroke="#e32a2a" stroke-width="1.0"/>
<line x1="140.9" y1="351" x2="144.1" y2="351" stroke="#e32a2a" stroke-width="1.1"/>
<line x1="151.6" y1="361.2" x2="151.6" y2="379.4" stroke="#111" stroke-width="1.0"/>
<line x1="150.3" y1="361.2" x2="152.9" y2="361.2" stroke="#111" stroke-width="1.0"/>
<line x1="150.3" y1="379.4" x2="152.9" y2="379.4" stroke="#111" stroke-width="1.0"/>
<line x1="150" y1="368.7" x2="153.2" y2="371.9" stroke="#111" stroke-width="1.1"/>
<line x1="150" y1="371.9" x2="153.2" y2="368.7" stroke="#111" stroke-width="1.1"/>
<line x1="160.3" y1="346.6" x2="160.3" y2="388.6" stroke="#1a1ae6" stroke-width="1.0"/>
<line x1="159" y1="346.6" x2="161.6" y2="346.6" stroke="#1a1ae6" stroke-width="1.0"/>
<line x1="159" y1="388.6" x2="161.6" y2="388.6" stroke="#1a1ae6" stroke-width="1.0"/>
<path d="M160.3,365.6 L162.3,367.6 L160.3,369.6 L158.3,367.6 Z" fill="#1a1ae6" stroke="#1a1ae6" stroke-width="0.6"/>
<line x1="161.2" y1="328.7" x2="161.2" y2="346.5" stroke="#e32a2a" stroke-width="1.0"/>
<line x1="159.9" y1="328.7" x2="162.5" y2="328.7" stroke="#e32a2a" stroke-width="1.0"/>
<line x1="159.9" y1="346.5" x2="162.5" y2="346.5" stroke="#e32a2a" stroke-width="1.0"/>
<line x1="159.6" y1="337.6" x2="162.8" y2="337.6" stroke="#e32a2a" stroke-width="1.1"/>
<line x1="169.8" y1="311.9" x2="169.8" y2="327.1" stroke="#111" stroke-width="1.0"/>
<line x1="168.5" y1="311.9" x2="171.1" y2="311.9" stroke="#111" stroke-width="1.0"/>
<line x1="168.5" y1="327.1" x2="171.1" y2="327.1" stroke="#111" stroke-width="1.0"/>
<line x1="168.2" y1="317.9" x2="171.4" y2="321.1" stroke="#111" stroke-width="1.1"/>
<line x1="168.2" y1="321.1" x2="171.4" y2="317.9" stroke="#111" stroke-width="1.1"/>
<line x1="178.9" y1="303.4" x2="178.9" y2="362.4" stroke="#1a1ae6" stroke-width="1.0"/>
<line x1="177.6" y1="303.4" x2="180.2" y2="303.4" stroke="#1a1ae6" stroke-width="1.0"/>
<line x1="177.6" y1="362.4" x2="180.2" y2="362.4" stroke="#1a1ae6" stroke-width="1.0"/>
<path d="M178.9,330.9 L180.9,332.9 L178.9,334.9 L176.9,332.9 Z" fill="#1a1ae6" stroke="#1a1ae6" stroke-width="0.6"/>
<line x1="179.6" y1="325.2" x2="179.6" y2="341.2" stroke="#e32a2a" stroke-width="1.0"/>
<line x1="178.3" y1="325.2" x2="180.9" y2="325.2" stroke="#e32a2a" stroke-width="1.0"/>
<line x1="178.3" y1="341.2" x2="180.9" y2="341.2" stroke="#e32a2a" stroke-width="1.0"/>
<line x1="178" y1="333.2" x2="181.2" y2="333.2" stroke="#e32a2a" stroke-width="1.1"/>
<line x1="189.1" y1="321.8" x2="189.1" y2="341.2" stroke="#111" stroke-width="1.0"/>
<line x1="187.8" y1="321.8" x2="190.4" y2="321.8" stroke="#111" stroke-width="1.0"/>
<line x1="187.8" y1="341.2" x2="190.4" y2="341.2" stroke="#111" stroke-width="1.0"/>
<line x1="187.5" y1="329.9" x2="190.7" y2="333.1" stroke="#111" stroke-width="1.1"/>
<line x1="187.5" y1="333.1" x2="190.7" y2="329.9" stroke="#111" stroke-width="1.1"/>
<line x1="207.3" y1="323.6" x2="207.3" y2="368" stroke="#111" stroke-width="1.0"/>
<line x1="206" y1="323.6" x2="208.6" y2="323.6" stroke="#111" stroke-width="1.0"/>
<line x1="206" y1="368" x2="208.6" y2="368" stroke="#111" stroke-width="1.0"/>
<line x1="205.7" y1="344.2" x2="208.9" y2="347.4" stroke="#111" stroke-width="1.1"/>
<line x1="205.7" y1="347.4" x2="208.9" y2="344.2" stroke="#111" stroke-width="1.1"/>
</g>
<g clip-path="url(#c10b)">
<path d="M27,464.5 C27.85,466.68 30.25,473.4 32.1,477.6 C33.95,481.8 36.08,486.52 38.1,489.7 C40.12,492.88 42.18,495.08 44.2,496.7 C46.22,498.32 48.02,499.4 50.2,499.4 C52.38,499.4 54.95,498.48 57.3,496.7 C59.65,494.92 61.78,492.57 64.3,488.7 C66.82,484.83 69.7,478.55 72.4,473.5 C75.1,468.45 77.82,463.27 80.5,458.4 C83.18,453.53 85.82,447.98 88.5,444.3 C91.18,440.62 94.42,437.88 96.6,436.3 C98.78,434.72 99.58,434.63 101.6,434.8 C103.62,434.97 106.3,435.88 108.7,437.3 C111.1,438.72 113.78,441.12 116,443.3 C118.22,445.48 119.65,447.72 122,450.4 C124.35,453.08 127.4,456.55 130.1,459.4 C132.8,462.25 135.52,465.48 138.2,467.5 C140.88,469.52 143.52,470.6 146.2,471.5 C148.88,472.4 151.6,472.97 154.3,472.9 C157,472.83 159.37,472.33 162.4,471.1 C165.43,469.87 169.15,467.45 172.5,465.5 C175.85,463.55 179.15,461.08 182.5,459.4 C185.85,457.72 189.23,456.33 192.6,455.4 C195.97,454.47 199.67,454.07 202.7,453.8 C205.73,453.53 209.45,453.8 210.8,453.8" fill="none" stroke="#111" stroke-width="1.1" stroke-linecap="butt" stroke-linejoin="round"/>
<path d="M27,471.5 C29.53,470.67 36.32,468.68 42.2,466.5 C48.08,464.32 55.58,460.92 62.3,458.4 C69.02,455.88 77.45,452.83 82.5,451.4 C87.55,449.97 88.57,449.97 92.6,449.8 C96.63,449.63 102.8,449.97 106.7,450.4 C110.6,450.83 112.77,451.4 116,452.4 C119.23,453.4 122.73,455.07 126.1,456.4 C129.47,457.73 131.17,459.12 136.2,460.4 C141.23,461.68 149.58,463.32 156.3,464.1 C163.02,464.88 169.78,465.2 176.5,465.1 C183.22,465 190.88,464.18 196.6,463.5 C202.32,462.82 208.43,461.42 210.8,461" fill="none" stroke="#111" stroke-width="1.1" stroke-linecap="butt" stroke-linejoin="round" stroke-dasharray="1.2 3.3"/>
<path d="M26,423.1 C26.68,423.78 28.75,424.17 30.1,427.2 C31.45,430.23 32.43,434.92 34.1,441.3 C35.77,447.68 38.08,458.28 40.1,465.5 C42.12,472.72 44.35,480.17 46.2,484.6 C48.05,489.03 49.52,491.93 51.2,492.1 C52.88,492.27 54.45,490.03 56.3,485.6 C58.15,481.17 60.28,472.55 62.3,465.5 C64.32,458.45 66.78,448.47 68.4,443.3 C70.02,438.13 70.73,436.45 72,434.5 C73.27,432.55 74.42,430.97 76,431.6 C77.58,432.23 79.75,434.67 81.5,438.3 C83.25,441.93 84.65,447.53 86.5,453.4 C88.35,459.27 90.93,468.73 92.6,473.5 C94.27,478.27 95.23,480.05 96.5,482 C97.77,483.95 98.5,486.27 100.2,485.2 C101.9,484.13 104.62,480.07 106.7,475.6 C108.78,471.13 111.15,463.33 112.7,458.4 C114.25,453.47 114.78,449.18 116,446 C117.22,442.82 118.65,440.75 120,439.3 C121.35,437.85 122.58,436.63 124.1,437.3 C125.62,437.97 127.25,439.95 129.1,443.3 C130.95,446.65 133.02,452.37 135.2,457.4 C137.38,462.43 139.85,469.63 142.2,473.5 C144.55,477.37 147.12,480.6 149.3,480.6 C151.48,480.6 153.28,477.37 155.3,473.5 C157.32,469.63 159.38,462.1 161.4,457.4 C163.42,452.7 165.38,447.92 167.4,445.3 C169.42,442.68 171.48,441.2 173.5,441.7 C175.52,442.2 177.48,445.18 179.5,448.3 C181.52,451.42 183.58,456.37 185.6,460.4 C187.62,464.43 189.42,469.8 191.6,472.5 C193.78,475.2 196.52,476.77 198.7,476.6 C200.88,476.43 202.68,474.53 204.7,471.5 C206.72,468.47 209.78,460.58 210.8,458.4" fill="none" stroke="#111" stroke-width="1.1" stroke-linecap="butt" stroke-linejoin="round" stroke-dasharray="6 2.2 1.1 2.2"/>
</g>
<g clip-path="url(#c11t)">
<path d="M224.2,322.6 C228.18,323.55 238.43,326.9 248.1,328.3 C257.77,329.7 271.88,330.23 282.2,331 C292.52,331.77 299.25,332.27 310,332.9 C320.75,333.53 337.17,334.12 346.7,334.8 C356.23,335.48 359.22,336.17 367.2,337 C375.18,337.83 390.03,339.33 394.6,339.8" fill="none" stroke="#111" stroke-width="1.1" stroke-linecap="butt" stroke-linejoin="round" stroke-dasharray="5.6 6.3"/>
<path d="M224.2,346.5 C224.77,346.88 226.27,346.52 227.6,348.8 C228.93,351.08 230.68,356.22 232.2,360.2 C233.72,364.18 235.37,369.67 236.7,372.7 C238.03,375.73 239.05,377.83 240.2,378.4 C241.35,378.97 242.28,378.77 243.6,376.1 C244.92,373.43 246.78,368.47 248.1,362.4 C249.42,356.33 250.35,347.28 251.5,339.7 C252.65,332.12 253.92,322.43 255,316.9 C256.08,311.37 256.92,308.93 258,306.5 C259.08,304.07 260.33,303 261.5,302.3 C262.67,301.6 263.83,301.93 265,302.3 C266.17,302.67 267.33,303.38 268.5,304.5 C269.67,305.62 270.77,307.68 272,309 C273.23,310.32 274.38,312.6 275.9,312.4 C277.42,312.2 279.28,309.5 281.1,307.8 C282.92,306.1 284.9,302.2 286.8,302.2 C288.7,302.2 290.98,305.15 292.5,307.8 C294.02,310.45 294.77,314.3 295.9,318.1 C297.03,321.9 298.17,326.25 299.3,330.6 C300.43,334.95 301.57,340.42 302.7,344.2 C303.83,347.98 304.97,351.42 306.1,353.3 C307.23,355.18 308.42,355.85 309.5,355.5 C310.58,355.15 311.33,353.07 312.6,351.2 C313.87,349.33 315.58,346.4 317.1,344.3 C318.62,342.2 320.18,339.92 321.7,338.6 C323.22,337.28 324.68,336.2 326.2,336.4 C327.72,336.6 329.28,338.48 330.8,339.8 C332.32,341.12 333.78,343.92 335.3,344.3 C336.82,344.68 338.38,343.23 339.9,342.1 C341.42,340.97 342.88,339.78 344.4,337.5 C345.92,335.22 347.1,331.43 349,328.4 C350.9,325.37 353.9,320.07 355.8,319.3 C357.7,318.53 358.87,321.15 360.4,323.8 C361.93,326.45 363.3,331.58 365,335.2 C366.7,338.82 368.72,344.35 370.6,345.5 C372.48,346.65 374.58,343.43 376.3,342.1 C378.02,340.77 379.38,338.57 380.9,337.5 C382.42,336.43 383.88,335.52 385.4,335.7 C386.92,335.88 388.28,336.97 390,338.6 C391.72,340.23 393.98,343.63 395.7,345.5 C397.42,347.37 398.87,348.72 400.3,349.8 C401.73,350.88 403.63,351.63 404.3,352" fill="none" stroke="#111" stroke-width="1.1" stroke-linecap="butt" stroke-linejoin="round"/>
<line x1="229.5" y1="336.3" x2="229.5" y2="356.7" stroke="#e32a2a" stroke-width="1.0"/>
<line x1="228.2" y1="336.3" x2="230.8" y2="336.3" stroke="#e32a2a" stroke-width="1.0"/>
<line x1="228.2" y1="356.7" x2="230.8" y2="356.7" stroke="#e32a2a" stroke-width="1.0"/>
<line x1="227.9" y1="346.5" x2="231.1" y2="346.5" stroke="#e32a2a" stroke-width="1.1"/>
<line x1="238.3" y1="370.8" x2="238.3" y2="381.4" stroke="#111" stroke-width="1.0"/>
<line x1="237" y1="370.8" x2="239.6" y2="370.8" stroke="#111" stroke-width="1.0"/>
<line x1="237" y1="381.4" x2="239.6" y2="381.4" stroke="#111" stroke-width="1.0"/>
<line x1="236.7" y1="374.5" x2="239.9" y2="377.7" stroke="#111" stroke-width="1.1"/>
<line x1="236.7" y1="377.7" x2="239.9" y2="374.5" stroke="#111" stroke-width="1.1"/>
<line x1="249.3" y1="354.5" x2="249.3" y2="374.9" stroke="#e32a2a" stroke-width="1.0"/>
<line x1="248" y1="354.5" x2="250.6" y2="354.5" stroke="#e32a2a" stroke-width="1.0"/>
<line x1="248" y1="374.9" x2="250.6" y2="374.9" stroke="#e32a2a" stroke-width="1.0"/>
<line x1="247.7" y1="364.7" x2="250.9" y2="364.7" stroke="#e32a2a" stroke-width="1.1"/>
<line x1="257.2" y1="306.7" x2="257.2" y2="312.7" stroke="#111" stroke-width="1.0"/>
<line x1="255.9" y1="306.7" x2="258.5" y2="306.7" stroke="#111" stroke-width="1.0"/>
<line x1="255.9" y1="312.7" x2="258.5" y2="312.7" stroke="#111" stroke-width="1.0"/>
<line x1="255.6" y1="308.1" x2="258.8" y2="311.3" stroke="#111" stroke-width="1.1"/>
<line x1="255.6" y1="311.3" x2="258.8" y2="308.1" stroke="#111" stroke-width="1.1"/>
<line x1="268.1" y1="293.1" x2="268.1" y2="306.7" stroke="#e32a2a" stroke-width="1.0"/>
<line x1="266.8" y1="293.1" x2="269.4" y2="293.1" stroke="#e32a2a" stroke-width="1.0"/>
<line x1="266.8" y1="306.7" x2="269.4" y2="306.7" stroke="#e32a2a" stroke-width="1.0"/>
<line x1="266.5" y1="299.9" x2="269.7" y2="299.9" stroke="#e32a2a" stroke-width="1.1"/>
<line x1="276.6" y1="312.9" x2="276.6" y2="321.9" stroke="#111" stroke-width="1.0"/>
<line x1="275.3" y1="312.9" x2="277.9" y2="312.9" stroke="#111" stroke-width="1.0"/>
<line x1="275.3" y1="321.9" x2="277.9" y2="321.9" stroke="#111" stroke-width="1.0"/>
<line x1="275" y1="315.8" x2="278.2" y2="319" stroke="#111" stroke-width="1.1"/>
<line x1="275" y1="319" x2="278.2" y2="315.8" stroke="#111" stroke-width="1.1"/>
<line x1="287.2" y1="302.1" x2="287.2" y2="313.5" stroke="#e32a2a" stroke-width="1.0"/>
<line x1="285.9" y1="302.1" x2="288.5" y2="302.1" stroke="#e32a2a" stroke-width="1.0"/>
<line x1="285.9" y1="313.5" x2="288.5" y2="313.5" stroke="#e32a2a" stroke-width="1.0"/>
<line x1="285.6" y1="307.8" x2="288.8" y2="307.8" stroke="#e32a2a" stroke-width="1.1"/>
<line x1="295.9" y1="312.4" x2="295.9" y2="323.8" stroke="#111" stroke-width="1.0"/>
<line x1="294.6" y1="312.4" x2="297.2" y2="312.4" stroke="#111" stroke-width="1.0"/>
<line x1="294.6" y1="323.8" x2="297.2" y2="323.8" stroke="#111" stroke-width="1.0"/>
<line x1="294.3" y1="316.5" x2="297.5" y2="319.7" stroke="#111" stroke-width="1.1"/>
<line x1="294.3" y1="319.7" x2="297.5" y2="316.5" stroke="#111" stroke-width="1.1"/>
<line x1="306.8" y1="338.6" x2="306.8" y2="352.2" stroke="#e32a2a" stroke-width="1.0"/>
<line x1="305.5" y1="338.6" x2="308.1" y2="338.6" stroke="#e32a2a" stroke-width="1.0"/>
<line x1="305.5" y1="352.2" x2="308.1" y2="352.2" stroke="#e32a2a" stroke-width="1.0"/>
<line x1="305.2" y1="345.4" x2="308.4" y2="345.4" stroke="#e32a2a" stroke-width="1.1"/>
<line x1="305.7" y1="351.1" x2="305.7" y2="364.7" stroke="#1a1ae6" stroke-width="1.0"/>
<line x1="304.4" y1="351.1" x2="307" y2="351.1" stroke="#1a1ae6" stroke-width="1.0"/>
<line x1="304.4" y1="364.7" x2="307" y2="364.7" stroke="#1a1ae6" stroke-width="1.0"/>
<path d="M305.7,355.9 L307.7,357.9 L305.7,359.9 L303.7,357.9 Z" fill="#1a1ae6" stroke="#1a1ae6" stroke-width="0.6"/>
<line x1="316" y1="341" x2="316" y2="350" stroke="#111" stroke-width="1.0"/>
<line x1="314.7" y1="341" x2="317.3" y2="341" stroke="#111" stroke-width="1.0"/>
<line x1="314.7" y1="350" x2="317.3" y2="350" stroke="#111" stroke-width="1.0"/>
<line x1="314.4" y1="343.9" x2="317.6" y2="347.1" stroke="#111" stroke-width="1.1"/>
<line x1="314.4" y1="347.1" x2="317.6" y2="343.9" stroke="#111" stroke-width="1.1"/>
<line x1="325.8" y1="342.6" x2="325.8" y2="357.4" stroke="#1a1ae6" stroke-width="1.0"/>
<line x1="324.5" y1="342.6" x2="327.1" y2="342.6" stroke="#1a1ae6" stroke-width="1.0"/>
<line x1="324.5" y1="357.4" x2="327.1" y2="357.4" stroke="#1a1ae6" stroke-width="1.0"/>
<path d="M325.8,348 L327.8,350 L325.8,352 L323.8,350 Z" fill="#1a1ae6" stroke="#1a1ae6" stroke-width="0.6"/>
<line x1="326.9" y1="330.7" x2="326.9" y2="344.3" stroke="#e32a2a" stroke-width="1.0"/>
<line x1="325.6" y1="330.7" x2="328.2" y2="330.7" stroke="#e32a2a" stroke-width="1.0"/>
<line x1="325.6" y1="344.3" x2="328.2" y2="344.3" stroke="#e32a2a" stroke-width="1.0"/>
<line x1="325.3" y1="337.5" x2="328.5" y2="337.5" stroke="#e32a2a" stroke-width="1.1"/>
<line x1="335.3" y1="333.6" x2="335.3" y2="343.6" stroke="#111" stroke-width="1.0"/>
<line x1="334" y1="333.6" x2="336.6" y2="333.6" stroke="#111" stroke-width="1.0"/>
<line x1="334" y1="343.6" x2="336.6" y2="343.6" stroke="#111" stroke-width="1.0"/>
<line x1="333.7" y1="337" x2="336.9" y2="340.2" stroke="#111" stroke-width="1.1"/>
<line x1="333.7" y1="340.2" x2="336.9" y2="337" stroke="#111" stroke-width="1.1"/>
<line x1="344.9" y1="307.3" x2="344.9" y2="322.1" stroke="#1a1ae6" stroke-width="1.0"/>
<line x1="343.6" y1="307.3" x2="346.2" y2="307.3" stroke="#1a1ae6" stroke-width="1.0"/>
<line x1="343.6" y1="322.1" x2="346.2" y2="322.1" stroke="#1a1ae6" stroke-width="1.0"/>
<path d="M344.9,312.7 L346.9,314.7 L344.9,316.7 L342.9,314.7 Z" fill="#1a1ae6" stroke="#1a1ae6" stroke-width="0.6"/>
<line x1="346.7" y1="339.3" x2="346.7" y2="351.7" stroke="#e32a2a" stroke-width="1.0"/>
<line x1="345.4" y1="339.3" x2="348" y2="339.3" stroke="#e32a2a" stroke-width="1.0"/>
<line x1="345.4" y1="351.7" x2="348" y2="351.7" stroke="#e32a2a" stroke-width="1.0"/>
<line x1="345.1" y1="345.5" x2="348.3" y2="345.5" stroke="#e32a2a" stroke-width="1.1"/>
<line x1="355.2" y1="319.2" x2="355.2" y2="334" stroke="#111" stroke-width="1.0"/>
<line x1="353.9" y1="319.2" x2="356.5" y2="319.2" stroke="#111" stroke-width="1.0"/>
<line x1="353.9" y1="334" x2="356.5" y2="334" stroke="#111" stroke-width="1.0"/>
<line x1="353.6" y1="325" x2="356.8" y2="328.2" stroke="#111" stroke-width="1.1"/>
<line x1="353.6" y1="328.2" x2="356.8" y2="325" stroke="#111" stroke-width="1.1"/>
<line x1="366.1" y1="311.9" x2="366.1" y2="331.3" stroke="#e32a2a" stroke-width="1.0"/>
<line x1="364.8" y1="311.9" x2="367.4" y2="311.9" stroke="#e32a2a" stroke-width="1.0"/>
<line x1="364.8" y1="331.3" x2="367.4" y2="331.3" stroke="#e32a2a" stroke-width="1.0"/>
<line x1="364.5" y1="321.6" x2="367.7" y2="321.6" stroke="#e32a2a" stroke-width="1.1"/>
<line x1="364.9" y1="330.1" x2="364.9" y2="351.7" stroke="#1a1ae6" stroke-width="1.0"/>
<line x1="363.6" y1="330.1" x2="366.2" y2="330.1" stroke="#1a1ae6" stroke-width="1.0"/>
<line x1="363.6" y1="351.7" x2="366.2" y2="351.7" stroke="#1a1ae6" stroke-width="1.0"/>
<path d="M364.9,338.9 L366.9,340.9 L364.9,342.9 L362.9,340.9 Z" fill="#1a1ae6" stroke="#1a1ae6" stroke-width="0.6"/>
<line x1="374.3" y1="343.9" x2="374.3" y2="355.5" stroke="#111" stroke-width="1.0"/>
<line x1="373" y1="343.9" x2="375.6" y2="343.9" stroke="#111" stroke-width="1.0"/>
<line x1="373" y1="355.5" x2="375.6" y2="355.5" stroke="#111" stroke-width="1.0"/>
<line x1="372.7" y1="348.1" x2="375.9" y2="351.3" stroke="#111" stroke-width="1.1"/>
<line x1="372.7" y1="351.3" x2="375.9" y2="348.1" stroke="#111" stroke-width="1.1"/>
<line x1="384.8" y1="290.1" x2="384.8" y2="346.5" stroke="#1a1ae6" stroke-width="1.0"/>
<line x1="383.5" y1="290.1" x2="386.1" y2="290.1" stroke="#1a1ae6" stroke-width="1.0"/>
<line x1="383.5" y1="346.5" x2="386.1" y2="346.5" stroke="#1a1ae6" stroke-width="1.0"/>
<path d="M384.8,316.3 L386.8,318.3 L384.8,320.3 L382.8,318.3 Z" fill="#1a1ae6" stroke="#1a1ae6" stroke-width="0.6"/>
<line x1="386.1" y1="310.9" x2="386.1" y2="354.9" stroke="#e32a2a" stroke-width="1.0"/>
<line x1="384.8" y1="310.9" x2="387.4" y2="310.9" stroke="#e32a2a" stroke-width="1.0"/>
<line x1="384.8" y1="354.9" x2="387.4" y2="354.9" stroke="#e32a2a" stroke-width="1.0"/>
<line x1="384.5" y1="332.9" x2="387.7" y2="332.9" stroke="#e32a2a" stroke-width="1.1"/>
</g>
<g clip-path="url(#c11b)">
<path d="M223.7,497.7 C224.43,498.88 226.63,503.22 228.1,504.8 C229.57,506.38 230.82,507.37 232.5,507.2 C234.18,507.03 236.25,506.05 238.2,503.8 C240.15,501.55 242.18,498.07 244.2,493.7 C246.22,489.33 248.28,483.32 250.3,477.6 C252.32,471.88 254.28,465.45 256.3,459.4 C258.32,453.35 260.38,446.5 262.4,441.3 C264.42,436.1 266.55,431.05 268.4,428.2 C270.25,425.35 271.82,424.53 273.5,424.2 C275.18,423.87 276.65,424.37 278.5,426.2 C280.35,428.03 282.58,431.33 284.6,435.2 C286.62,439.07 288.58,444.68 290.6,449.4 C292.62,454.12 294.68,458.97 296.7,463.5 C298.72,468.03 300.82,473.25 302.7,476.6 C304.58,479.95 306.12,482.03 308,483.6 C309.88,485.17 311.98,486.17 314,486 C316.02,485.83 318.08,484.5 320.1,482.6 C322.12,480.7 324.08,477.62 326.1,474.6 C328.12,471.58 330.18,467.7 332.2,464.5 C334.22,461.3 335.85,458.27 338.2,455.4 C340.55,452.53 343.6,449.22 346.3,447.3 C349,445.38 351.72,444.07 354.4,443.9 C357.08,443.73 359.72,444.72 362.4,446.3 C365.08,447.88 367.8,450.87 370.5,453.4 C373.2,455.93 375.92,459.15 378.6,461.5 C381.28,463.85 383.92,466.1 386.6,467.5 C389.28,468.9 392.17,469.63 394.7,469.9 C397.23,470.17 400.62,469.23 401.8,469.1" fill="none" stroke="#111" stroke-width="1.1" stroke-linecap="butt" stroke-linejoin="round"/>
<path d="M223.7,473.5 C225.45,473.68 230.78,475.1 234.2,474.6 C237.62,474.1 240.85,472.02 244.2,470.5 C247.55,468.98 250.93,467.18 254.3,465.5 C257.67,463.82 261.03,462.25 264.4,460.4 C267.77,458.55 271.13,456.07 274.5,454.4 C277.87,452.73 281.25,451.3 284.6,450.4 C287.95,449.5 290.37,448.5 294.6,449 C298.83,449.5 305.75,452 310,453.4 C314.25,454.8 316.4,455.88 320.1,457.4 C323.8,458.92 327.5,460.98 332.2,462.5 C336.9,464.02 342.92,466 348.3,466.5 C353.68,467 359.12,466.33 364.5,465.5 C369.88,464.67 375.9,462.68 380.6,461.5 C385.3,460.32 389.17,459.25 392.7,458.4 C396.23,457.55 400.28,456.73 401.8,456.4" fill="none" stroke="#111" stroke-width="1.1" stroke-linecap="butt" stroke-linejoin="round" stroke-dasharray="1.2 3.3"/>
<path d="M223.7,441.3 C224.17,440.47 225.27,436.3 226.5,436.3 C227.73,436.3 229.65,437.78 231.1,441.3 C232.55,444.82 233.85,452.03 235.2,457.4 C236.55,462.77 237.87,469.4 239.2,473.5 C240.53,477.6 241.85,481.82 243.2,482 C244.55,482.18 245.95,478.37 247.3,474.6 C248.65,470.83 249.97,464.28 251.3,459.4 C252.63,454.52 253.78,448.48 255.3,445.3 C256.82,442.12 258.88,439.97 260.4,440.3 C261.92,440.63 263.07,443.95 264.4,447.3 C265.73,450.65 266.55,455.35 268.4,460.4 C270.25,465.45 273.48,476.08 275.5,477.6 C277.52,479.12 278.98,472.87 280.5,469.5 C282.02,466.13 283.08,461.27 284.6,457.4 C286.12,453.53 288.1,448.58 289.6,446.3 C291.1,444.02 292.08,442.52 293.6,443.7 C295.12,444.88 296.85,449.1 298.7,453.4 C300.55,457.7 303.15,465.8 304.7,469.5 C306.25,473.2 306.78,475.93 308,475.6 C309.22,475.27 310.48,471.2 312,467.5 C313.52,463.8 315.25,456.93 317.1,453.4 C318.95,449.87 321.25,446.47 323.1,446.3 C324.95,446.13 326.52,449.53 328.2,452.4 C329.88,455.27 331.35,459.98 333.2,463.5 C335.05,467.02 337.45,472.83 339.3,473.5 C341.15,474.17 342.63,470.52 344.3,467.5 C345.97,464.48 347.35,458.7 349.3,455.4 C351.25,452.1 353.98,448.37 356,447.7 C358.02,447.03 359.65,448.77 361.4,451.4 C363.15,454.03 364.72,460.15 366.5,463.5 C368.28,466.85 370.25,471.5 372.1,471.5 C373.95,471.5 375.68,466.68 377.6,463.5 C379.52,460.32 381.77,454.68 383.6,452.4 C385.43,450.12 386.92,449.47 388.6,449.8 C390.28,450.13 392.02,451.78 393.7,454.4 C395.38,457.02 397.35,463.32 398.7,465.5 C400.05,467.68 401.28,467.17 401.8,467.5" fill="none" stroke="#111" stroke-width="1.1" stroke-linecap="butt" stroke-linejoin="round" stroke-dasharray="6 2.2 1.1 2.2"/>
</g>
<g clip-path="url(#c12t)">
<path d="M420.8,314.7 C422.12,315.83 425.48,319.03 428.7,321.5 C431.92,323.97 435.92,327.23 440.1,329.5 C444.28,331.77 449.63,333.85 453.8,335.1 C457.97,336.35 460.93,336.62 465.1,337 C469.27,337.38 474.25,337.52 478.8,337.4 C483.35,337.28 488.87,336.53 492.4,336.3 C495.93,336.07 494.93,336.75 500,336 C505.07,335.25 515.2,333.63 522.8,331.8 C530.4,329.97 538.02,326.9 545.6,325 C553.18,323.1 560.78,321.73 568.3,320.4 C575.82,319.07 586.97,317.57 590.7,317" fill="none" stroke="#111" stroke-width="1.1" stroke-linecap="butt" stroke-linejoin="round" stroke-dasharray="5.6 6.3"/>
<path d="M421.9,352.2 C422.47,353.33 424.17,358.43 425.3,359 C426.43,359.57 427.55,357.68 428.7,355.6 C429.85,353.52 430.9,349.47 432.2,346.5 C433.5,343.53 435.03,338.72 436.5,337.8 C437.97,336.88 439.5,339.42 441,341 C442.5,342.58 444.08,345.77 445.5,347.3 C446.92,348.83 448.22,350.22 449.5,350.2 C450.78,350.18 452.22,349.17 453.2,347.2 C454.18,345.23 454.67,341.82 455.4,338.4 C456.13,334.98 456.75,330.6 457.6,326.7 C458.45,322.8 459.17,317.95 460.5,315 C461.83,312.05 463.88,309.43 465.6,309 C467.32,308.57 469.17,310.5 470.8,312.4 C472.43,314.3 473.88,318.5 475.4,320.4 C476.92,322.3 478.38,324.18 479.9,323.8 C481.42,323.42 482.78,320 484.5,318.1 C486.22,316.2 488.3,312.22 490.2,312.4 C492.1,312.58 494.38,316.55 495.9,319.2 C497.42,321.85 498.28,325.75 499.3,328.3 C500.32,330.85 501.12,332.4 502,334.5 C502.88,336.6 503.42,339.07 504.6,340.9 C505.78,342.73 507.58,345.3 509.1,345.5 C510.62,345.7 512.18,343.62 513.7,342.1 C515.22,340.58 516.68,336.6 518.2,336.4 C519.72,336.2 521.28,339.38 522.8,340.9 C524.32,342.42 525.78,344.25 527.3,345.5 C528.82,346.75 530.38,348.4 531.9,348.4 C533.42,348.4 534.88,348.08 536.4,345.5 C537.92,342.92 539.47,336.43 541,332.9 C542.53,329.37 544.08,326 545.6,324.3 C547.12,322.6 548.4,322.58 550.1,322.7 C551.8,322.82 554.08,324.82 555.8,325 C557.52,325.18 558.88,324.95 560.4,323.8 C561.92,322.65 563.38,320.18 564.9,318.1 C566.42,316.02 567.98,313 569.5,311.3 C571.02,309.6 572.48,307.9 574,307.9 C575.52,307.9 577.08,309.78 578.6,311.3 C580.12,312.82 581.4,315.87 583.1,317 C584.8,318.13 587.85,317.92 588.8,318.1" fill="none" stroke="#111" stroke-width="1.1" stroke-linecap="butt" stroke-linejoin="round"/>
<line x1="435.1" y1="323.7" x2="435.1" y2="346.5" stroke="#111" stroke-width="1.0"/>
<line x1="433.8" y1="323.7" x2="436.4" y2="323.7" stroke="#111" stroke-width="1.0"/>
<line x1="433.8" y1="346.5" x2="436.4" y2="346.5" stroke="#111" stroke-width="1.0"/>
<line x1="433.5" y1="333.5" x2="436.7" y2="336.7" stroke="#111" stroke-width="1.1"/>
<line x1="433.5" y1="336.7" x2="436.7" y2="333.5" stroke="#111" stroke-width="1.1"/>
<line x1="445.4" y1="348.6" x2="445.4" y2="365" stroke="#e32a2a" stroke-width="1.0"/>
<line x1="444.1" y1="348.6" x2="446.7" y2="348.6" stroke="#e32a2a" stroke-width="1.0"/>
<line x1="444.1" y1="365" x2="446.7" y2="365" stroke="#e32a2a" stroke-width="1.0"/>
<line x1="443.8" y1="356.8" x2="447" y2="356.8" stroke="#e32a2a" stroke-width="1.1"/>
<line x1="453.3" y1="344" x2="453.3" y2="358" stroke="#111" stroke-width="1.0"/>
<line x1="452" y1="344" x2="454.6" y2="344" stroke="#111" stroke-width="1.0"/>
<line x1="452" y1="358" x2="454.6" y2="358" stroke="#111" stroke-width="1.0"/>
<line x1="451.7" y1="349.4" x2="454.9" y2="352.6" stroke="#111" stroke-width="1.1"/>
<line x1="451.7" y1="352.6" x2="454.9" y2="349.4" stroke="#111" stroke-width="1.1"/>
<line x1="463.6" y1="296.5" x2="463.6" y2="309.1" stroke="#e32a2a" stroke-width="1.0"/>
<line x1="462.3" y1="296.5" x2="464.9" y2="296.5" stroke="#e32a2a" stroke-width="1.0"/>
<line x1="462.3" y1="309.1" x2="464.9" y2="309.1" stroke="#e32a2a" stroke-width="1.0"/>
<line x1="462" y1="302.8" x2="465.2" y2="302.8" stroke="#e32a2a" stroke-width="1.1"/>
<line x1="471.5" y1="304.6" x2="471.5" y2="314.8" stroke="#111" stroke-width="1.0"/>
<line x1="470.2" y1="304.6" x2="472.8" y2="304.6" stroke="#111" stroke-width="1.0"/>
<line x1="470.2" y1="314.8" x2="472.8" y2="314.8" stroke="#111" stroke-width="1.0"/>
<line x1="469.9" y1="308.1" x2="473.1" y2="311.3" stroke="#111" stroke-width="1.1"/>
<line x1="469.9" y1="311.3" x2="473.1" y2="308.1" stroke="#111" stroke-width="1.1"/>
<line x1="482.4" y1="320.4" x2="482.4" y2="334" stroke="#e32a2a" stroke-width="1.0"/>
<line x1="481.1" y1="320.4" x2="483.7" y2="320.4" stroke="#e32a2a" stroke-width="1.0"/>
<line x1="481.1" y1="334" x2="483.7" y2="334" stroke="#e32a2a" stroke-width="1.0"/>
<line x1="480.8" y1="327.2" x2="484" y2="327.2" stroke="#e32a2a" stroke-width="1.1"/>
<line x1="490.2" y1="311.9" x2="490.2" y2="322.1" stroke="#111" stroke-width="1.0"/>
<line x1="488.9" y1="311.9" x2="491.5" y2="311.9" stroke="#111" stroke-width="1.0"/>
<line x1="488.9" y1="322.1" x2="491.5" y2="322.1" stroke="#111" stroke-width="1.0"/>
<line x1="488.6" y1="315.4" x2="491.8" y2="318.6" stroke="#111" stroke-width="1.1"/>
<line x1="488.6" y1="318.6" x2="491.8" y2="315.4" stroke="#111" stroke-width="1.1"/>
<line x1="501.1" y1="329.4" x2="501.1" y2="341" stroke="#e32a2a" stroke-width="1.0"/>
<line x1="499.8" y1="329.4" x2="502.4" y2="329.4" stroke="#e32a2a" stroke-width="1.0"/>
<line x1="499.8" y1="341" x2="502.4" y2="341" stroke="#e32a2a" stroke-width="1.0"/>
<line x1="499.5" y1="335.2" x2="502.7" y2="335.2" stroke="#e32a2a" stroke-width="1.1"/>
<line x1="508.7" y1="337.6" x2="508.7" y2="346.6" stroke="#111" stroke-width="1.0"/>
<line x1="507.4" y1="337.6" x2="510" y2="337.6" stroke="#111" stroke-width="1.0"/>
<line x1="507.4" y1="346.6" x2="510" y2="346.6" stroke="#111" stroke-width="1.0"/>
<line x1="507.1" y1="340.5" x2="510.3" y2="343.7" stroke="#111" stroke-width="1.1"/>
<line x1="507.1" y1="343.7" x2="510.3" y2="340.5" stroke="#111" stroke-width="1.1"/>
<line x1="518.2" y1="331.3" x2="518.2" y2="342.7" stroke="#1a1ae6" stroke-width="1.0"/>
<line x1="516.9" y1="331.3" x2="519.5" y2="331.3" stroke="#1a1ae6" stroke-width="1.0"/>
<line x1="516.9" y1="342.7" x2="519.5" y2="342.7" stroke="#1a1ae6" stroke-width="1.0"/>
<path d="M518.2,335 L520.2,337 L518.2,339 L516.2,337 Z" fill="#1a1ae6" stroke="#1a1ae6" stroke-width="0.6"/>
<line x1="519.4" y1="322.8" x2="519.4" y2="332" stroke="#e32a2a" stroke-width="1.0"/>
<line x1="518.1" y1="322.8" x2="520.7" y2="322.8" stroke="#e32a2a" stroke-width="1.0"/>
<line x1="518.1" y1="332" x2="520.7" y2="332" stroke="#e32a2a" stroke-width="1.0"/>
<line x1="517.8" y1="327.4" x2="521" y2="327.4" stroke="#e32a2a" stroke-width="1.1"/>
<line x1="527.3" y1="340.4" x2="527.3" y2="350.6" stroke="#111" stroke-width="1.0"/>
<line x1="526" y1="340.4" x2="528.6" y2="340.4" stroke="#111" stroke-width="1.0"/>
<line x1="526" y1="350.6" x2="528.6" y2="350.6" stroke="#111" stroke-width="1.0"/>
<line x1="525.7" y1="343.9" x2="528.9" y2="347.1" stroke="#111" stroke-width="1.1"/>
<line x1="525.7" y1="347.1" x2="528.9" y2="343.9" stroke="#111" stroke-width="1.1"/>
<line x1="537.6" y1="337" x2="537.6" y2="349.4" stroke="#e32a2a" stroke-width="1.0"/>
<line x1="536.3" y1="337" x2="538.9" y2="337" stroke="#e32a2a" stroke-width="1.0"/>
<line x1="536.3" y1="349.4" x2="538.9" y2="349.4" stroke="#e32a2a" stroke-width="1.0"/>
<line x1="536" y1="343.2" x2="539.2" y2="343.2" stroke="#e32a2a" stroke-width="1.1"/>
<line x1="536.9" y1="339.3" x2="536.9" y2="351.7" stroke="#1a1ae6" stroke-width="1.0"/>
<line x1="535.6" y1="339.3" x2="538.2" y2="339.3" stroke="#1a1ae6" stroke-width="1.0"/>
<line x1="535.6" y1="351.7" x2="538.2" y2="351.7" stroke="#1a1ae6" stroke-width="1.0"/>
<path d="M536.9,343.5 L538.9,345.5 L536.9,347.5 L534.9,345.5 Z" fill="#1a1ae6" stroke="#1a1ae6" stroke-width="0.6"/>
<line x1="546" y1="325" x2="546" y2="334" stroke="#111" stroke-width="1.0"/>
<line x1="544.7" y1="325" x2="547.3" y2="325" stroke="#111" stroke-width="1.0"/>
<line x1="544.7" y1="334" x2="547.3" y2="334" stroke="#111" stroke-width="1.0"/>
<line x1="544.4" y1="327.9" x2="547.6" y2="331.1" stroke="#111" stroke-width="1.1"/>
<line x1="544.4" y1="331.1" x2="547.6" y2="327.9" stroke="#111" stroke-width="1.1"/>
<line x1="555.4" y1="311.4" x2="555.4" y2="321.6" stroke="#1a1ae6" stroke-width="1.0"/>
<line x1="554.1" y1="311.4" x2="556.7" y2="311.4" stroke="#1a1ae6" stroke-width="1.0"/>
<line x1="554.1" y1="321.6" x2="556.7" y2="321.6" stroke="#1a1ae6" stroke-width="1.0"/>
<path d="M555.4,314.5 L557.4,316.5 L555.4,318.5 L553.4,316.5 Z" fill="#1a1ae6" stroke="#1a1ae6" stroke-width="0.6"/>
<line x1="556.3" y1="323.2" x2="556.3" y2="347.2" stroke="#e32a2a" stroke-width="1.0"/>
<line x1="555" y1="323.2" x2="557.6" y2="323.2" stroke="#e32a2a" stroke-width="1.0"/>
<line x1="555" y1="347.2" x2="557.6" y2="347.2" stroke="#e32a2a" stroke-width="1.0"/>
<line x1="554.7" y1="335.2" x2="557.9" y2="335.2" stroke="#e32a2a" stroke-width="1.1"/>
<line x1="564.9" y1="305.6" x2="564.9" y2="317" stroke="#111" stroke-width="1.0"/>
<line x1="563.6" y1="305.6" x2="566.2" y2="305.6" stroke="#111" stroke-width="1.0"/>
<line x1="563.6" y1="317" x2="566.2" y2="317" stroke="#111" stroke-width="1.0"/>
<line x1="563.3" y1="309.7" x2="566.5" y2="312.9" stroke="#111" stroke-width="1.1"/>
<line x1="563.3" y1="312.9" x2="566.5" y2="309.7" stroke="#111" stroke-width="1.1"/>
<line x1="574.7" y1="277.7" x2="574.7" y2="315.3" stroke="#e32a2a" stroke-width="1.0"/>
<line x1="573.4" y1="277.7" x2="576" y2="277.7" stroke="#e32a2a" stroke-width="1.0"/>
<line x1="573.4" y1="315.3" x2="576" y2="315.3" stroke="#e32a2a" stroke-width="1.0"/>
<line x1="573.1" y1="296.5" x2="576.3" y2="296.5" stroke="#e32a2a" stroke-width="1.1"/>
<line x1="574" y1="297.6" x2="574" y2="327.2" stroke="#1a1ae6" stroke-width="1.0"/>
<line x1="572.7" y1="297.6" x2="575.3" y2="297.6" stroke="#1a1ae6" stroke-width="1.0"/>
<line x1="572.7" y1="327.2" x2="575.3" y2="327.2" stroke="#1a1ae6" stroke-width="1.0"/>
<path d="M574,310.4 L576,312.4 L574,314.4 L572,312.4 Z" fill="#1a1ae6" stroke="#1a1ae6" stroke-width="0.6"/>
<line x1="583.8" y1="317" x2="583.8" y2="342" stroke="#111" stroke-width="1.0"/>
<line x1="582.5" y1="317" x2="585.1" y2="317" stroke="#111" stroke-width="1.0"/>
<line x1="582.5" y1="342" x2="585.1" y2="342" stroke="#111" stroke-width="1.0"/>
<line x1="582.2" y1="327.9" x2="585.4" y2="331.1" stroke="#111" stroke-width="1.1"/>
<line x1="582.2" y1="331.1" x2="585.4" y2="327.9" stroke="#111" stroke-width="1.1"/>
</g>
<g clip-path="url(#c12b)">
<path d="M421.7,488.7 C422.45,489.37 424.72,491.87 426.2,492.7 C427.68,493.53 428.93,494.03 430.6,493.7 C432.27,493.37 434.25,492.38 436.2,490.7 C438.15,489.02 440.28,486.28 442.3,483.6 C444.32,480.92 446.28,477.78 448.3,474.6 C450.32,471.42 452.38,468.03 454.4,464.5 C456.42,460.97 458.38,456.77 460.4,453.4 C462.42,450.03 464.48,446.82 466.5,444.3 C468.52,441.78 470.65,439.63 472.5,438.3 C474.35,436.97 475.75,436.3 477.6,436.3 C479.45,436.3 481.42,436.97 483.6,438.3 C485.78,439.63 488.52,442.12 490.7,444.3 C492.88,446.48 494.98,449.22 496.7,451.4 C498.42,453.58 499.45,455.05 501,457.4 C502.55,459.75 503.82,462.98 506,465.5 C508.18,468.02 511.4,470.98 514.1,472.5 C516.8,474.02 519.52,474.77 522.2,474.6 C524.88,474.43 527.52,473.02 530.2,471.5 C532.88,469.98 535.6,467.68 538.3,465.5 C541,463.32 543.37,460.42 546.4,458.4 C549.43,456.38 553.15,454.5 556.5,453.4 C559.85,452.3 563.15,451.8 566.5,451.8 C569.85,451.8 573.57,452.63 576.6,453.4 C579.63,454.17 582.35,455.47 584.7,456.4 C587.05,457.33 589.7,458.57 590.7,459" fill="none" stroke="#111" stroke-width="1.1" stroke-linecap="butt" stroke-linejoin="round"/>
<path d="M421.7,465.5 C423.45,464.83 428.1,463.02 432.2,461.5 C436.3,459.98 441.25,457.92 446.3,456.4 C451.35,454.88 457.45,453.23 462.5,452.4 C467.55,451.57 471.9,451.23 476.6,451.4 C481.3,451.57 486.63,452.53 490.7,453.4 C494.77,454.27 497.43,455.43 501,456.6 C504.57,457.77 508.23,459.25 512.1,460.4 C515.97,461.55 520.17,462.72 524.2,463.5 C528.23,464.28 532.27,464.93 536.3,465.1 C540.33,465.27 544.37,464.83 548.4,464.5 C552.43,464.17 556.47,463.68 560.5,463.1 C564.53,462.52 568.57,461.55 572.6,461 C576.63,460.45 581.68,460.13 584.7,459.8 C587.72,459.47 589.7,459.13 590.7,459" fill="none" stroke="#111" stroke-width="1.1" stroke-linecap="butt" stroke-linejoin="round" stroke-dasharray="1.2 3.3"/>
<path d="M421.7,476.6 C422.17,476.93 423.42,479.45 424.5,478.6 C425.58,477.75 426.92,475.7 428.2,471.5 C429.48,467.3 430.58,458.27 432.2,453.4 C433.82,448.53 436.22,442.97 437.9,442.3 C439.58,441.63 440.9,445.53 442.3,449.4 C443.7,453.27 444.78,461.13 446.3,465.5 C447.82,469.87 449.88,474.93 451.4,475.6 C452.92,476.27 453.9,473.2 455.4,469.5 C456.9,465.8 458.72,457.43 460.4,453.4 C462.08,449.37 463.98,445.8 465.5,445.3 C467.02,444.8 468.17,447.03 469.5,450.4 C470.83,453.77 472.05,461.65 473.5,465.5 C474.95,469.35 476.52,473.17 478.2,473.5 C479.88,473.83 482.02,470.85 483.6,467.5 C485.18,464.15 486.18,456.7 487.7,453.4 C489.22,450.1 491.03,448.03 492.7,447.7 C494.37,447.37 496.32,449.35 497.7,451.4 C499.08,453.45 499.95,456.82 501,460 C502.05,463.18 502.65,469.92 504,470.5 C505.35,471.08 507.42,466.35 509.1,463.5 C510.78,460.65 512.6,455.75 514.1,453.4 C515.6,451.05 516.58,449.23 518.1,449.4 C519.62,449.57 521.52,451.72 523.2,454.4 C524.88,457.08 526.68,462.82 528.2,465.5 C529.72,468.18 530.78,471 532.3,470.5 C533.82,470 535.63,465.35 537.3,462.5 C538.97,459.65 540.78,455.42 542.3,453.4 C543.82,451.38 544.88,449.9 546.4,450.4 C547.92,450.9 549.72,453.88 551.4,456.4 C553.08,458.92 554.98,463.38 556.5,465.5 C558.02,467.62 559,469.43 560.5,469.1 C562,468.77 563.82,465.78 565.5,463.5 C567.18,461.22 568.92,457.08 570.6,455.4 C572.28,453.72 573.93,452.9 575.6,453.4 C577.27,453.9 578.92,456.38 580.6,458.4 C582.28,460.42 584.35,464.05 585.7,465.5 C587.05,466.95 587.87,467.1 588.7,467.1 C589.53,467.1 590.37,465.77 590.7,465.5" fill="none" stroke="#111" stroke-width="1.1" stroke-linecap="butt" stroke-linejoin="round" stroke-dasharray="6 2.2 1.1 2.2"/>
</g>
</svg>
</body></html>
